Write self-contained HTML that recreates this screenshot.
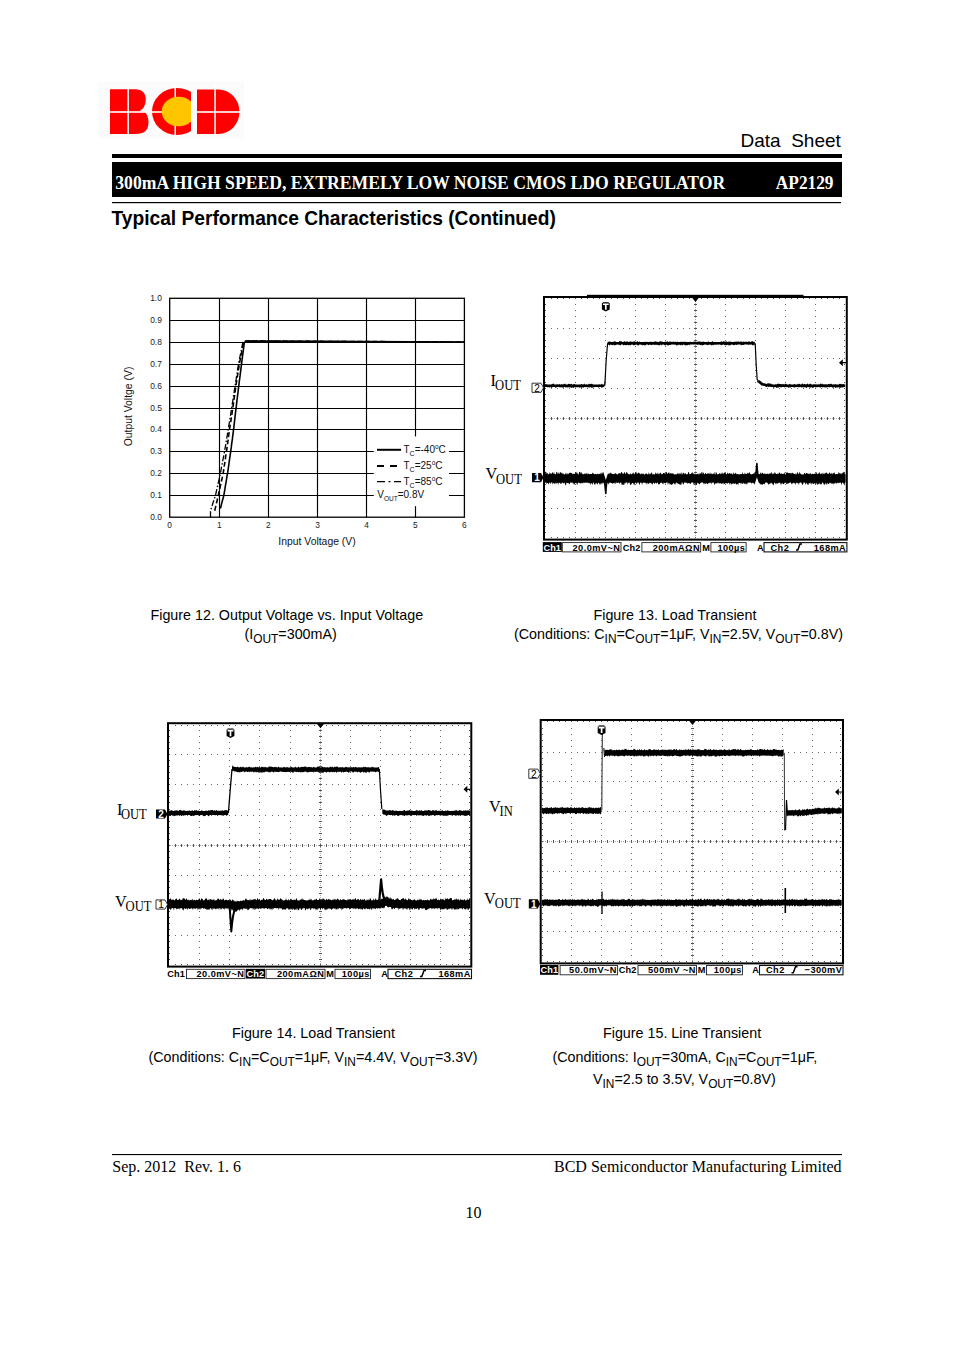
<!DOCTYPE html>
<html><head><meta charset="utf-8"><style>
html,body{margin:0;padding:0;background:#fff;width:954px;height:1350px;overflow:hidden}
svg{position:absolute;left:0;top:0}
</style></head><body>
<svg width="954" height="1350" viewBox="0 0 954 1350">
<text x="840.8" y="146.6" font-family='"Liberation Sans", sans-serif' font-size="19" font-weight="normal" text-anchor="end" fill="#000" >Data&#160;&#160;Sheet</text>
<rect x="112" y="154" width="730" height="4" fill="#000"/>
<rect x="112" y="162" width="730" height="35" fill="#000"/>
<text transform="translate(115.3,188.7) scale(1,1.1)" x="0" y="0" font-family='"Liberation Serif", serif' font-size="17.65" font-weight="bold" fill="#fff">300mA HIGH SPEED, EXTREMELY LOW NOISE CMOS LDO REGULATOR</text>
<text transform="translate(833.5,188.7) scale(1,1.1)" x="0" y="0" font-family='"Liberation Serif", serif' font-size="17.3" font-weight="bold" text-anchor="end" fill="#fff">AP2129</text>
<rect x="112" y="202" width="729" height="1.2" fill="#000"/>
<text transform="translate(111.5,225.3) scale(1,1.07)" x="0" y="0" font-family='"Liberation Sans", sans-serif' font-size="19.2" font-weight="bold" fill="#000">Typical Performance Characteristics (Continued)</text>
<rect x="98" y="81.5" width="146" height="57" fill="#fbfbfb"/>
<g fill="#ff0000">
<path d="M110,89.2 H135 Q145.8,89.2 145.8,99.8 Q145.8,107.5 139.3,111.5 H144.5 Q148.5,115.5 148.5,122.5 Q148.5,134 135.5,134 H110 Z"/>
<clipPath id="cclip"><rect x="140" y="80" width="51" height="60"/></clipPath>
<ellipse cx="177" cy="111.5" rx="25" ry="23.5" clip-path="url(#cclip)"/>
<path d="M197,89.5 H218.5 A21,22.25 0 0 1 218.5,134 H197 Z"/>
</g>
<g fill="#fff">
<rect x="127.4" y="85" width="1.5" height="52"/>
<rect x="174.5" y="85" width="1.5" height="52"/>
<rect x="214.3" y="85" width="1.5" height="52"/>
<rect x="105" y="111.2" width="140" height="1.6"/>
</g>
<ellipse cx="178.6" cy="111.5" rx="16.9" ry="14.75" fill="#ffc600" clip-path="url(#cclip)"/>
<line x1="219.5" y1="298.3" x2="219.5" y2="517.2" stroke="#000" stroke-width="1.15"/>
<line x1="268.5" y1="298.3" x2="268.5" y2="517.2" stroke="#000" stroke-width="1.15"/>
<line x1="317.5" y1="298.3" x2="317.5" y2="517.2" stroke="#000" stroke-width="1.15"/>
<line x1="366.5" y1="298.3" x2="366.5" y2="517.2" stroke="#000" stroke-width="1.15"/>
<line x1="415.5" y1="298.3" x2="415.5" y2="517.2" stroke="#000" stroke-width="1.15"/>
<line x1="169.7" y1="495.5" x2="464.4" y2="495.5" stroke="#000" stroke-width="1.15"/>
<line x1="169.7" y1="473.5" x2="464.4" y2="473.5" stroke="#000" stroke-width="1.15"/>
<line x1="169.7" y1="451.5" x2="464.4" y2="451.5" stroke="#000" stroke-width="1.15"/>
<line x1="169.7" y1="429.5" x2="464.4" y2="429.5" stroke="#000" stroke-width="1.15"/>
<line x1="169.7" y1="408.5" x2="464.4" y2="408.5" stroke="#000" stroke-width="1.15"/>
<line x1="169.7" y1="386.5" x2="464.4" y2="386.5" stroke="#000" stroke-width="1.15"/>
<line x1="169.7" y1="364.5" x2="464.4" y2="364.5" stroke="#000" stroke-width="1.15"/>
<line x1="169.7" y1="342.5" x2="464.4" y2="342.5" stroke="#000" stroke-width="1.15"/>
<line x1="169.7" y1="320.5" x2="464.4" y2="320.5" stroke="#000" stroke-width="1.15"/>
<rect x="169.7" y="298.3" width="294.7" height="218.9" fill="none" stroke="#000" stroke-width="1.3"/>
<text x="161.8" y="519.8" font-family='"Liberation Sans", sans-serif' font-size="8.4" font-weight="normal" text-anchor="end" fill="#222" >0.0</text>
<text x="161.8" y="498.1" font-family='"Liberation Sans", sans-serif' font-size="8.4" font-weight="normal" text-anchor="end" fill="#222" >0.1</text>
<text x="161.8" y="476" font-family='"Liberation Sans", sans-serif' font-size="8.4" font-weight="normal" text-anchor="end" fill="#222" >0.2</text>
<text x="161.8" y="453.9" font-family='"Liberation Sans", sans-serif' font-size="8.4" font-weight="normal" text-anchor="end" fill="#222" >0.3</text>
<text x="161.8" y="432" font-family='"Liberation Sans", sans-serif' font-size="8.4" font-weight="normal" text-anchor="end" fill="#222" >0.4</text>
<text x="161.8" y="410.9" font-family='"Liberation Sans", sans-serif' font-size="8.4" font-weight="normal" text-anchor="end" fill="#222" >0.5</text>
<text x="161.8" y="388.9" font-family='"Liberation Sans", sans-serif' font-size="8.4" font-weight="normal" text-anchor="end" fill="#222" >0.6</text>
<text x="161.8" y="366.8" font-family='"Liberation Sans", sans-serif' font-size="8.4" font-weight="normal" text-anchor="end" fill="#222" >0.7</text>
<text x="161.8" y="345" font-family='"Liberation Sans", sans-serif' font-size="8.4" font-weight="normal" text-anchor="end" fill="#222" >0.8</text>
<text x="161.8" y="323.2" font-family='"Liberation Sans", sans-serif' font-size="8.4" font-weight="normal" text-anchor="end" fill="#222" >0.9</text>
<text x="161.8" y="300.9" font-family='"Liberation Sans", sans-serif' font-size="8.4" font-weight="normal" text-anchor="end" fill="#222" >1.0</text>
<text x="169.7" y="527.9" font-family='"Liberation Sans", sans-serif' font-size="8.4" font-weight="normal" text-anchor="middle" fill="#222" >0</text>
<text x="219.4" y="527.9" font-family='"Liberation Sans", sans-serif' font-size="8.4" font-weight="normal" text-anchor="middle" fill="#222" >1</text>
<text x="268.3" y="527.9" font-family='"Liberation Sans", sans-serif' font-size="8.4" font-weight="normal" text-anchor="middle" fill="#222" >2</text>
<text x="317.7" y="527.9" font-family='"Liberation Sans", sans-serif' font-size="8.4" font-weight="normal" text-anchor="middle" fill="#222" >3</text>
<text x="366.5" y="527.9" font-family='"Liberation Sans", sans-serif' font-size="8.4" font-weight="normal" text-anchor="middle" fill="#222" >4</text>
<text x="415.3" y="527.9" font-family='"Liberation Sans", sans-serif' font-size="8.4" font-weight="normal" text-anchor="middle" fill="#222" >5</text>
<text x="464.4" y="527.9" font-family='"Liberation Sans", sans-serif' font-size="8.4" font-weight="normal" text-anchor="middle" fill="#222" >6</text>
<text x="317" y="545" font-family='"Liberation Sans", sans-serif' font-size="10.4" font-weight="normal" text-anchor="middle" fill="#111" >Input Voltage (V)</text>
<text transform="translate(132.2,406.5) rotate(-90)" x="0" y="0" font-family='"Liberation Sans", sans-serif' font-size="10.4" text-anchor="middle" fill="#111">Output Voltge (V)</text>
<polyline fill="none" stroke="#000" stroke-width="1.6" points="220.4,508.5 221.1,505.8 221.8,503 222.5,500.3 223.3,497.5 223.9,494.8 224.4,492 224.9,489.2 225.3,486.4 225.8,483.6 226.3,480.8 226.7,478 227.2,475.2 227.7,472.4 228.1,469.6 228.5,466.8 228.9,464 229.3,461.2 229.7,458.4 230.1,455.6 230.5,452.8 230.9,450 231.3,447.2 231.6,444.4 232,441.7 232.4,438.9 232.7,436.1 233.1,433.3 233.4,430.6 233.8,427.9 234.1,425.2 234.4,422.5 234.7,419.8 235,417.2 235.3,414.5 235.6,411.8 235.9,409.1 236.3,406.4 236.6,403.6 236.9,400.8 237.3,398 237.6,395.2 238,392.5 238.3,389.7 238.6,386.9 239,384.1 239.3,381.3 239.7,378.5 240.1,375.7 240.4,372.9 240.8,370.1 241.1,367.3 241.5,364.5 241.8,361.7 242.2,359 242.5,356.2 242.9,353.4 243.3,350.7 243.6,347.9 244,345.2 244.3,342.4 246.8,341.1 464.4,342"/>
<polyline fill="none" stroke="#000" stroke-width="1.6" stroke-dasharray="5,2.5" points="214.7,510.7 215.4,507.9 216,505.1 216.7,502.3 217.3,499.6 218,496.8 218.6,494 219.2,491.1 219.9,488.3 220.5,485.4 221.1,482.6 221.8,479.8 222.4,476.9 223,474.1 223.5,471.3 223.9,468.4 224.3,465.6 224.8,462.8 225.2,459.9 225.6,457.1 226,454.2 226.5,451.4 226.9,448.6 227.3,445.8 227.7,443 228.1,440.2 228.5,437.4 228.8,434.5 229.2,431.7 229.6,428.9 230,426.2 230.5,423.5 230.9,420.8 231.3,418.1 231.7,415.4 232.1,412.7 232.5,410 232.9,407.2 233.3,404.4 233.7,401.6 234.1,398.8 234.5,395.9 234.9,393.1 235.3,390.3 235.7,387.5 236.1,384.6 236.5,381.8 237,379 237.4,376.1 237.9,373.3 238.3,370.5 238.8,367.6 239.2,364.8 239.7,362 240.3,359.2 240.8,356.4 241.4,353.6 241.9,350.8 242.5,348 243.1,345.2 243.6,342.4 245.8,341.1 464.4,342"/>
<polyline fill="none" stroke="#000" stroke-width="1.3" stroke-dasharray="6,2,1.5,2" points="210.5,517.2 210.5,510.7 211.4,507.9 212.3,505.1 213.2,502.3 214.1,499.6 215,496.8 215.8,494 216.4,491.1 217,488.3 217.7,485.4 218.3,482.6 219,479.8 219.6,476.9 220.2,474.1 220.8,471.3 221.3,468.4 221.9,465.6 222.4,462.8 222.9,459.9 223.5,457.1 224,454.2 224.6,451.4 225,448.6 225.5,445.8 226,443 226.4,440.2 226.9,437.4 227.4,434.5 227.8,431.7 228.3,428.9 228.7,426.2 229.2,423.5 229.6,420.8 230,418.1 230.5,415.4 230.9,412.7 231.4,410 231.8,407.2 232.2,404.4 232.7,401.6 233.1,398.8 233.5,395.9 234,393.1 234.4,390.3 234.9,387.5 235.3,384.6 235.7,381.8 236.2,379 236.6,376.1 237.1,373.3 237.5,370.5 237.9,367.6 238.4,364.8 238.9,362 239.5,359.2 240,356.4 240.6,353.6 241.2,350.8 241.7,348 242.3,345.2 242.9,342.4 245.3,341.1 464.4,342"/>
<rect x="373.8" y="436.4" width="75.2" height="69.8" fill="#fff"/>
<line x1="377" y1="449.8" x2="401.1" y2="449.8" stroke="#000" stroke-width="2"/>
<line x1="377" y1="465.9" x2="398" y2="465.9" stroke="#000" stroke-width="2" stroke-dasharray="7,6"/>
<line x1="377" y1="481.6" x2="401.1" y2="481.6" stroke="#000" stroke-width="1.2" stroke-dasharray="8,3.5,2,3.5"/>
<text x="403.5" y="453.2" font-family='"Liberation Sans", sans-serif' font-size="10" fill="#111">T<tspan font-size="7" dy="2.6">C</tspan><tspan dy="-2.6">=-40</tspan><tspan font-size="6.5" dy="-4">o</tspan><tspan dy="4">C</tspan></text>
<text x="403.5" y="469.2" font-family='"Liberation Sans", sans-serif' font-size="10" fill="#111">T<tspan font-size="7" dy="2.6">C</tspan><tspan dy="-2.6">=25</tspan><tspan font-size="6.5" dy="-4">o</tspan><tspan dy="4">C</tspan></text>
<text x="403.5" y="485.2" font-family='"Liberation Sans", sans-serif' font-size="10" fill="#111">T<tspan font-size="7" dy="2.6">C</tspan><tspan dy="-2.6">=85</tspan><tspan font-size="6.5" dy="-4">o</tspan><tspan dy="4">C</tspan></text>
<text x="377.3" y="498" font-family='"Liberation Sans", sans-serif' font-size="10" fill="#111">V<tspan font-size="6.5" dy="2.6">OUT</tspan><tspan dy="-2.6">=0.8V</tspan></text>
<path fill="#666" d="M575,304h1v1h-1zM575,310h1v1h-1zM575,316h1v1h-1zM575,322h1v1h-1zM575,328h1v1h-1zM575,334h1v1h-1zM575,340h1v1h-1zM575,346h1v1h-1zM575,352h1v1h-1zM575,358h1v1h-1zM575,364h1v1h-1zM575,370h1v1h-1zM575,376h1v1h-1zM575,382h1v1h-1zM575,388h1v1h-1zM575,394h1v1h-1zM575,400h1v1h-1zM575,406h1v1h-1zM575,412h1v1h-1zM575,418h1v1h-1zM575,424h1v1h-1zM575,430h1v1h-1zM575,436h1v1h-1zM575,442h1v1h-1zM575,448h1v1h-1zM575,454h1v1h-1zM575,460h1v1h-1zM575,466h1v1h-1zM575,472h1v1h-1zM575,478h1v1h-1zM575,484h1v1h-1zM575,490h1v1h-1zM575,496h1v1h-1zM575,502h1v1h-1zM575,508h1v1h-1zM575,514h1v1h-1zM575,520h1v1h-1zM575,526h1v1h-1zM575,532h1v1h-1zM605,304h1v1h-1zM605,310h1v1h-1zM605,316h1v1h-1zM605,322h1v1h-1zM605,328h1v1h-1zM605,334h1v1h-1zM605,340h1v1h-1zM605,346h1v1h-1zM605,352h1v1h-1zM605,358h1v1h-1zM605,364h1v1h-1zM605,370h1v1h-1zM605,376h1v1h-1zM605,382h1v1h-1zM605,388h1v1h-1zM605,394h1v1h-1zM605,400h1v1h-1zM605,406h1v1h-1zM605,412h1v1h-1zM605,418h1v1h-1zM605,424h1v1h-1zM605,430h1v1h-1zM605,436h1v1h-1zM605,442h1v1h-1zM605,448h1v1h-1zM605,454h1v1h-1zM605,460h1v1h-1zM605,466h1v1h-1zM605,472h1v1h-1zM605,478h1v1h-1zM605,484h1v1h-1zM605,490h1v1h-1zM605,496h1v1h-1zM605,502h1v1h-1zM605,508h1v1h-1zM605,514h1v1h-1zM605,520h1v1h-1zM605,526h1v1h-1zM605,532h1v1h-1zM635,304h1v1h-1zM635,310h1v1h-1zM635,316h1v1h-1zM635,322h1v1h-1zM635,328h1v1h-1zM635,334h1v1h-1zM635,340h1v1h-1zM635,346h1v1h-1zM635,352h1v1h-1zM635,358h1v1h-1zM635,364h1v1h-1zM635,370h1v1h-1zM635,376h1v1h-1zM635,382h1v1h-1zM635,388h1v1h-1zM635,394h1v1h-1zM635,400h1v1h-1zM635,406h1v1h-1zM635,412h1v1h-1zM635,418h1v1h-1zM635,424h1v1h-1zM635,430h1v1h-1zM635,436h1v1h-1zM635,442h1v1h-1zM635,448h1v1h-1zM635,454h1v1h-1zM635,460h1v1h-1zM635,466h1v1h-1zM635,472h1v1h-1zM635,478h1v1h-1zM635,484h1v1h-1zM635,490h1v1h-1zM635,496h1v1h-1zM635,502h1v1h-1zM635,508h1v1h-1zM635,514h1v1h-1zM635,520h1v1h-1zM635,526h1v1h-1zM635,532h1v1h-1zM665,304h1v1h-1zM665,310h1v1h-1zM665,316h1v1h-1zM665,322h1v1h-1zM665,328h1v1h-1zM665,334h1v1h-1zM665,340h1v1h-1zM665,346h1v1h-1zM665,352h1v1h-1zM665,358h1v1h-1zM665,364h1v1h-1zM665,370h1v1h-1zM665,376h1v1h-1zM665,382h1v1h-1zM665,388h1v1h-1zM665,394h1v1h-1zM665,400h1v1h-1zM665,406h1v1h-1zM665,412h1v1h-1zM665,418h1v1h-1zM665,424h1v1h-1zM665,430h1v1h-1zM665,436h1v1h-1zM665,442h1v1h-1zM665,448h1v1h-1zM665,454h1v1h-1zM665,460h1v1h-1zM665,466h1v1h-1zM665,472h1v1h-1zM665,478h1v1h-1zM665,484h1v1h-1zM665,490h1v1h-1zM665,496h1v1h-1zM665,502h1v1h-1zM665,508h1v1h-1zM665,514h1v1h-1zM665,520h1v1h-1zM665,526h1v1h-1zM665,532h1v1h-1zM725,304h1v1h-1zM725,310h1v1h-1zM725,316h1v1h-1zM725,322h1v1h-1zM725,328h1v1h-1zM725,334h1v1h-1zM725,340h1v1h-1zM725,346h1v1h-1zM725,352h1v1h-1zM725,358h1v1h-1zM725,364h1v1h-1zM725,370h1v1h-1zM725,376h1v1h-1zM725,382h1v1h-1zM725,388h1v1h-1zM725,394h1v1h-1zM725,400h1v1h-1zM725,406h1v1h-1zM725,412h1v1h-1zM725,418h1v1h-1zM725,424h1v1h-1zM725,430h1v1h-1zM725,436h1v1h-1zM725,442h1v1h-1zM725,448h1v1h-1zM725,454h1v1h-1zM725,460h1v1h-1zM725,466h1v1h-1zM725,472h1v1h-1zM725,478h1v1h-1zM725,484h1v1h-1zM725,490h1v1h-1zM725,496h1v1h-1zM725,502h1v1h-1zM725,508h1v1h-1zM725,514h1v1h-1zM725,520h1v1h-1zM725,526h1v1h-1zM725,532h1v1h-1zM755,304h1v1h-1zM755,310h1v1h-1zM755,316h1v1h-1zM755,322h1v1h-1zM755,328h1v1h-1zM755,334h1v1h-1zM755,340h1v1h-1zM755,346h1v1h-1zM755,352h1v1h-1zM755,358h1v1h-1zM755,364h1v1h-1zM755,370h1v1h-1zM755,376h1v1h-1zM755,382h1v1h-1zM755,388h1v1h-1zM755,394h1v1h-1zM755,400h1v1h-1zM755,406h1v1h-1zM755,412h1v1h-1zM755,418h1v1h-1zM755,424h1v1h-1zM755,430h1v1h-1zM755,436h1v1h-1zM755,442h1v1h-1zM755,448h1v1h-1zM755,454h1v1h-1zM755,460h1v1h-1zM755,466h1v1h-1zM755,472h1v1h-1zM755,478h1v1h-1zM755,484h1v1h-1zM755,490h1v1h-1zM755,496h1v1h-1zM755,502h1v1h-1zM755,508h1v1h-1zM755,514h1v1h-1zM755,520h1v1h-1zM755,526h1v1h-1zM755,532h1v1h-1zM785,304h1v1h-1zM785,310h1v1h-1zM785,316h1v1h-1zM785,322h1v1h-1zM785,328h1v1h-1zM785,334h1v1h-1zM785,340h1v1h-1zM785,346h1v1h-1zM785,352h1v1h-1zM785,358h1v1h-1zM785,364h1v1h-1zM785,370h1v1h-1zM785,376h1v1h-1zM785,382h1v1h-1zM785,388h1v1h-1zM785,394h1v1h-1zM785,400h1v1h-1zM785,406h1v1h-1zM785,412h1v1h-1zM785,418h1v1h-1zM785,424h1v1h-1zM785,430h1v1h-1zM785,436h1v1h-1zM785,442h1v1h-1zM785,448h1v1h-1zM785,454h1v1h-1zM785,460h1v1h-1zM785,466h1v1h-1zM785,472h1v1h-1zM785,478h1v1h-1zM785,484h1v1h-1zM785,490h1v1h-1zM785,496h1v1h-1zM785,502h1v1h-1zM785,508h1v1h-1zM785,514h1v1h-1zM785,520h1v1h-1zM785,526h1v1h-1zM785,532h1v1h-1zM815,304h1v1h-1zM815,310h1v1h-1zM815,316h1v1h-1zM815,322h1v1h-1zM815,328h1v1h-1zM815,334h1v1h-1zM815,340h1v1h-1zM815,346h1v1h-1zM815,352h1v1h-1zM815,358h1v1h-1zM815,364h1v1h-1zM815,370h1v1h-1zM815,376h1v1h-1zM815,382h1v1h-1zM815,388h1v1h-1zM815,394h1v1h-1zM815,400h1v1h-1zM815,406h1v1h-1zM815,412h1v1h-1zM815,418h1v1h-1zM815,424h1v1h-1zM815,430h1v1h-1zM815,436h1v1h-1zM815,442h1v1h-1zM815,448h1v1h-1zM815,454h1v1h-1zM815,460h1v1h-1zM815,466h1v1h-1zM815,472h1v1h-1zM815,478h1v1h-1zM815,484h1v1h-1zM815,490h1v1h-1zM815,496h1v1h-1zM815,502h1v1h-1zM815,508h1v1h-1zM815,514h1v1h-1zM815,520h1v1h-1zM815,526h1v1h-1zM815,532h1v1h-1zM551,328h1v1h-1zM557,328h1v1h-1zM563,328h1v1h-1zM569,328h1v1h-1zM575,328h1v1h-1zM581,328h1v1h-1zM587,328h1v1h-1zM593,328h1v1h-1zM599,328h1v1h-1zM605,328h1v1h-1zM611,328h1v1h-1zM617,328h1v1h-1zM623,328h1v1h-1zM629,328h1v1h-1zM635,328h1v1h-1zM641,328h1v1h-1zM647,328h1v1h-1zM653,328h1v1h-1zM659,328h1v1h-1zM665,328h1v1h-1zM671,328h1v1h-1zM677,328h1v1h-1zM683,328h1v1h-1zM689,328h1v1h-1zM695,328h1v1h-1zM701,328h1v1h-1zM707,328h1v1h-1zM713,328h1v1h-1zM719,328h1v1h-1zM725,328h1v1h-1zM731,328h1v1h-1zM737,328h1v1h-1zM743,328h1v1h-1zM749,328h1v1h-1zM755,328h1v1h-1zM761,328h1v1h-1zM767,328h1v1h-1zM773,328h1v1h-1zM779,328h1v1h-1zM785,328h1v1h-1zM791,328h1v1h-1zM797,328h1v1h-1zM803,328h1v1h-1zM809,328h1v1h-1zM815,328h1v1h-1zM821,328h1v1h-1zM827,328h1v1h-1zM833,328h1v1h-1zM839,328h1v1h-1zM551,358h1v1h-1zM557,358h1v1h-1zM563,358h1v1h-1zM569,358h1v1h-1zM575,358h1v1h-1zM581,358h1v1h-1zM587,358h1v1h-1zM593,358h1v1h-1zM599,358h1v1h-1zM605,358h1v1h-1zM611,358h1v1h-1zM617,358h1v1h-1zM623,358h1v1h-1zM629,358h1v1h-1zM635,358h1v1h-1zM641,358h1v1h-1zM647,358h1v1h-1zM653,358h1v1h-1zM659,358h1v1h-1zM665,358h1v1h-1zM671,358h1v1h-1zM677,358h1v1h-1zM683,358h1v1h-1zM689,358h1v1h-1zM695,358h1v1h-1zM701,358h1v1h-1zM707,358h1v1h-1zM713,358h1v1h-1zM719,358h1v1h-1zM725,358h1v1h-1zM731,358h1v1h-1zM737,358h1v1h-1zM743,358h1v1h-1zM749,358h1v1h-1zM755,358h1v1h-1zM761,358h1v1h-1zM767,358h1v1h-1zM773,358h1v1h-1zM779,358h1v1h-1zM785,358h1v1h-1zM791,358h1v1h-1zM797,358h1v1h-1zM803,358h1v1h-1zM809,358h1v1h-1zM815,358h1v1h-1zM821,358h1v1h-1zM827,358h1v1h-1zM833,358h1v1h-1zM839,358h1v1h-1zM551,388h1v1h-1zM557,388h1v1h-1zM563,388h1v1h-1zM569,388h1v1h-1zM575,388h1v1h-1zM581,388h1v1h-1zM587,388h1v1h-1zM593,388h1v1h-1zM599,388h1v1h-1zM605,388h1v1h-1zM611,388h1v1h-1zM617,388h1v1h-1zM623,388h1v1h-1zM629,388h1v1h-1zM635,388h1v1h-1zM641,388h1v1h-1zM647,388h1v1h-1zM653,388h1v1h-1zM659,388h1v1h-1zM665,388h1v1h-1zM671,388h1v1h-1zM677,388h1v1h-1zM683,388h1v1h-1zM689,388h1v1h-1zM695,388h1v1h-1zM701,388h1v1h-1zM707,388h1v1h-1zM713,388h1v1h-1zM719,388h1v1h-1zM725,388h1v1h-1zM731,388h1v1h-1zM737,388h1v1h-1zM743,388h1v1h-1zM749,388h1v1h-1zM755,388h1v1h-1zM761,388h1v1h-1zM767,388h1v1h-1zM773,388h1v1h-1zM779,388h1v1h-1zM785,388h1v1h-1zM791,388h1v1h-1zM797,388h1v1h-1zM803,388h1v1h-1zM809,388h1v1h-1zM815,388h1v1h-1zM821,388h1v1h-1zM827,388h1v1h-1zM833,388h1v1h-1zM839,388h1v1h-1zM551,448h1v1h-1zM557,448h1v1h-1zM563,448h1v1h-1zM569,448h1v1h-1zM575,448h1v1h-1zM581,448h1v1h-1zM587,448h1v1h-1zM593,448h1v1h-1zM599,448h1v1h-1zM605,448h1v1h-1zM611,448h1v1h-1zM617,448h1v1h-1zM623,448h1v1h-1zM629,448h1v1h-1zM635,448h1v1h-1zM641,448h1v1h-1zM647,448h1v1h-1zM653,448h1v1h-1zM659,448h1v1h-1zM665,448h1v1h-1zM671,448h1v1h-1zM677,448h1v1h-1zM683,448h1v1h-1zM689,448h1v1h-1zM695,448h1v1h-1zM701,448h1v1h-1zM707,448h1v1h-1zM713,448h1v1h-1zM719,448h1v1h-1zM725,448h1v1h-1zM731,448h1v1h-1zM737,448h1v1h-1zM743,448h1v1h-1zM749,448h1v1h-1zM755,448h1v1h-1zM761,448h1v1h-1zM767,448h1v1h-1zM773,448h1v1h-1zM779,448h1v1h-1zM785,448h1v1h-1zM791,448h1v1h-1zM797,448h1v1h-1zM803,448h1v1h-1zM809,448h1v1h-1zM815,448h1v1h-1zM821,448h1v1h-1zM827,448h1v1h-1zM833,448h1v1h-1zM839,448h1v1h-1zM551,478h1v1h-1zM557,478h1v1h-1zM563,478h1v1h-1zM569,478h1v1h-1zM575,478h1v1h-1zM581,478h1v1h-1zM587,478h1v1h-1zM593,478h1v1h-1zM599,478h1v1h-1zM605,478h1v1h-1zM611,478h1v1h-1zM617,478h1v1h-1zM623,478h1v1h-1zM629,478h1v1h-1zM635,478h1v1h-1zM641,478h1v1h-1zM647,478h1v1h-1zM653,478h1v1h-1zM659,478h1v1h-1zM665,478h1v1h-1zM671,478h1v1h-1zM677,478h1v1h-1zM683,478h1v1h-1zM689,478h1v1h-1zM695,478h1v1h-1zM701,478h1v1h-1zM707,478h1v1h-1zM713,478h1v1h-1zM719,478h1v1h-1zM725,478h1v1h-1zM731,478h1v1h-1zM737,478h1v1h-1zM743,478h1v1h-1zM749,478h1v1h-1zM755,478h1v1h-1zM761,478h1v1h-1zM767,478h1v1h-1zM773,478h1v1h-1zM779,478h1v1h-1zM785,478h1v1h-1zM791,478h1v1h-1zM797,478h1v1h-1zM803,478h1v1h-1zM809,478h1v1h-1zM815,478h1v1h-1zM821,478h1v1h-1zM827,478h1v1h-1zM833,478h1v1h-1zM839,478h1v1h-1zM551,508h1v1h-1zM557,508h1v1h-1zM563,508h1v1h-1zM569,508h1v1h-1zM575,508h1v1h-1zM581,508h1v1h-1zM587,508h1v1h-1zM593,508h1v1h-1zM599,508h1v1h-1zM605,508h1v1h-1zM611,508h1v1h-1zM617,508h1v1h-1zM623,508h1v1h-1zM629,508h1v1h-1zM635,508h1v1h-1zM641,508h1v1h-1zM647,508h1v1h-1zM653,508h1v1h-1zM659,508h1v1h-1zM665,508h1v1h-1zM671,508h1v1h-1zM677,508h1v1h-1zM683,508h1v1h-1zM689,508h1v1h-1zM695,508h1v1h-1zM701,508h1v1h-1zM707,508h1v1h-1zM713,508h1v1h-1zM719,508h1v1h-1zM725,508h1v1h-1zM731,508h1v1h-1zM737,508h1v1h-1zM743,508h1v1h-1zM749,508h1v1h-1zM755,508h1v1h-1zM761,508h1v1h-1zM767,508h1v1h-1zM773,508h1v1h-1zM779,508h1v1h-1zM785,508h1v1h-1zM791,508h1v1h-1zM797,508h1v1h-1zM803,508h1v1h-1zM809,508h1v1h-1zM815,508h1v1h-1zM821,508h1v1h-1zM827,508h1v1h-1zM833,508h1v1h-1zM839,508h1v1h-1z"/>
<path fill="#aaa" d="M546,418h1v1h-1zM548,418h1v1h-1zM550,418h1v1h-1zM552,418h1v1h-1zM554,418h1v1h-1zM556,418h1v1h-1zM558,418h1v1h-1zM560,418h1v1h-1zM562,418h1v1h-1zM564,418h1v1h-1zM566,418h1v1h-1zM568,418h1v1h-1zM570,418h1v1h-1zM572,418h1v1h-1zM574,418h1v1h-1zM576,418h1v1h-1zM578,418h1v1h-1zM580,418h1v1h-1zM582,418h1v1h-1zM584,418h1v1h-1zM586,418h1v1h-1zM588,418h1v1h-1zM590,418h1v1h-1zM592,418h1v1h-1zM594,418h1v1h-1zM596,418h1v1h-1zM598,418h1v1h-1zM600,418h1v1h-1zM602,418h1v1h-1zM604,418h1v1h-1zM606,418h1v1h-1zM608,418h1v1h-1zM610,418h1v1h-1zM612,418h1v1h-1zM614,418h1v1h-1zM616,418h1v1h-1zM618,418h1v1h-1zM620,418h1v1h-1zM622,418h1v1h-1zM624,418h1v1h-1zM626,418h1v1h-1zM628,418h1v1h-1zM630,418h1v1h-1zM632,418h1v1h-1zM634,418h1v1h-1zM636,418h1v1h-1zM638,418h1v1h-1zM640,418h1v1h-1zM642,418h1v1h-1zM644,418h1v1h-1zM646,418h1v1h-1zM648,418h1v1h-1zM650,418h1v1h-1zM652,418h1v1h-1zM654,418h1v1h-1zM656,418h1v1h-1zM658,418h1v1h-1zM660,418h1v1h-1zM662,418h1v1h-1zM664,418h1v1h-1zM666,418h1v1h-1zM668,418h1v1h-1zM670,418h1v1h-1zM672,418h1v1h-1zM674,418h1v1h-1zM676,418h1v1h-1zM678,418h1v1h-1zM680,418h1v1h-1zM682,418h1v1h-1zM684,418h1v1h-1zM686,418h1v1h-1zM688,418h1v1h-1zM690,418h1v1h-1zM692,418h1v1h-1zM694,418h1v1h-1zM696,418h1v1h-1zM698,418h1v1h-1zM700,418h1v1h-1zM702,418h1v1h-1zM704,418h1v1h-1zM706,418h1v1h-1zM708,418h1v1h-1zM710,418h1v1h-1zM712,418h1v1h-1zM714,418h1v1h-1zM716,418h1v1h-1zM718,418h1v1h-1zM720,418h1v1h-1zM722,418h1v1h-1zM724,418h1v1h-1zM726,418h1v1h-1zM728,418h1v1h-1zM730,418h1v1h-1zM732,418h1v1h-1zM734,418h1v1h-1zM736,418h1v1h-1zM738,418h1v1h-1zM740,418h1v1h-1zM742,418h1v1h-1zM744,418h1v1h-1zM746,418h1v1h-1zM748,418h1v1h-1zM750,418h1v1h-1zM752,418h1v1h-1zM754,418h1v1h-1zM756,418h1v1h-1zM758,418h1v1h-1zM760,418h1v1h-1zM762,418h1v1h-1zM764,418h1v1h-1zM766,418h1v1h-1zM768,418h1v1h-1zM770,418h1v1h-1zM772,418h1v1h-1zM774,418h1v1h-1zM776,418h1v1h-1zM778,418h1v1h-1zM780,418h1v1h-1zM782,418h1v1h-1zM784,418h1v1h-1zM786,418h1v1h-1zM788,418h1v1h-1zM790,418h1v1h-1zM792,418h1v1h-1zM794,418h1v1h-1zM796,418h1v1h-1zM798,418h1v1h-1zM800,418h1v1h-1zM802,418h1v1h-1zM804,418h1v1h-1zM806,418h1v1h-1zM808,418h1v1h-1zM810,418h1v1h-1zM812,418h1v1h-1zM814,418h1v1h-1zM816,418h1v1h-1zM818,418h1v1h-1zM820,418h1v1h-1zM822,418h1v1h-1zM824,418h1v1h-1zM826,418h1v1h-1zM828,418h1v1h-1zM830,418h1v1h-1zM832,418h1v1h-1zM834,418h1v1h-1zM836,418h1v1h-1zM838,418h1v1h-1zM840,418h1v1h-1zM842,418h1v1h-1zM844,418h1v1h-1zM695,299h1v1h-1zM695,301h1v1h-1zM695,303h1v1h-1zM695,305h1v1h-1zM695,307h1v1h-1zM695,309h1v1h-1zM695,311h1v1h-1zM695,313h1v1h-1zM695,315h1v1h-1zM695,317h1v1h-1zM695,319h1v1h-1zM695,321h1v1h-1zM695,323h1v1h-1zM695,325h1v1h-1zM695,327h1v1h-1zM695,329h1v1h-1zM695,331h1v1h-1zM695,333h1v1h-1zM695,335h1v1h-1zM695,337h1v1h-1zM695,339h1v1h-1zM695,341h1v1h-1zM695,343h1v1h-1zM695,345h1v1h-1zM695,347h1v1h-1zM695,349h1v1h-1zM695,351h1v1h-1zM695,353h1v1h-1zM695,355h1v1h-1zM695,357h1v1h-1zM695,359h1v1h-1zM695,361h1v1h-1zM695,363h1v1h-1zM695,365h1v1h-1zM695,367h1v1h-1zM695,369h1v1h-1zM695,371h1v1h-1zM695,373h1v1h-1zM695,375h1v1h-1zM695,377h1v1h-1zM695,379h1v1h-1zM695,381h1v1h-1zM695,383h1v1h-1zM695,385h1v1h-1zM695,387h1v1h-1zM695,389h1v1h-1zM695,391h1v1h-1zM695,393h1v1h-1zM695,395h1v1h-1zM695,397h1v1h-1zM695,399h1v1h-1zM695,401h1v1h-1zM695,403h1v1h-1zM695,405h1v1h-1zM695,407h1v1h-1zM695,409h1v1h-1zM695,411h1v1h-1zM695,413h1v1h-1zM695,415h1v1h-1zM695,417h1v1h-1zM695,419h1v1h-1zM695,421h1v1h-1zM695,423h1v1h-1zM695,425h1v1h-1zM695,427h1v1h-1zM695,429h1v1h-1zM695,431h1v1h-1zM695,433h1v1h-1zM695,435h1v1h-1zM695,437h1v1h-1zM695,439h1v1h-1zM695,441h1v1h-1zM695,443h1v1h-1zM695,445h1v1h-1zM695,447h1v1h-1zM695,449h1v1h-1zM695,451h1v1h-1zM695,453h1v1h-1zM695,455h1v1h-1zM695,457h1v1h-1zM695,459h1v1h-1zM695,461h1v1h-1zM695,463h1v1h-1zM695,465h1v1h-1zM695,467h1v1h-1zM695,469h1v1h-1zM695,471h1v1h-1zM695,473h1v1h-1zM695,475h1v1h-1zM695,477h1v1h-1zM695,479h1v1h-1zM695,481h1v1h-1zM695,483h1v1h-1zM695,485h1v1h-1zM695,487h1v1h-1zM695,489h1v1h-1zM695,491h1v1h-1zM695,493h1v1h-1zM695,495h1v1h-1zM695,497h1v1h-1zM695,499h1v1h-1zM695,501h1v1h-1zM695,503h1v1h-1zM695,505h1v1h-1zM695,507h1v1h-1zM695,509h1v1h-1zM695,511h1v1h-1zM695,513h1v1h-1zM695,515h1v1h-1zM695,517h1v1h-1zM695,519h1v1h-1zM695,521h1v1h-1zM695,523h1v1h-1zM695,525h1v1h-1zM695,527h1v1h-1zM695,529h1v1h-1zM695,531h1v1h-1zM695,533h1v1h-1zM695,535h1v1h-1zM695,537h1v1h-1z"/>
<path fill="#555" d="M551,417h1v3h-1zM551,537h1v1h-1zM551,298h1v1h-1zM557,417h1v3h-1zM557,537h1v1h-1zM557,298h1v1h-1zM563,417h1v3h-1zM563,537h1v1h-1zM563,298h1v1h-1zM569,417h1v3h-1zM569,537h1v1h-1zM569,298h1v1h-1zM575,417h1v3h-1zM575,537h1v1h-1zM575,298h1v1h-1zM581,417h1v3h-1zM581,537h1v1h-1zM581,298h1v1h-1zM587,417h1v3h-1zM587,537h1v1h-1zM587,298h1v1h-1zM593,417h1v3h-1zM593,537h1v1h-1zM593,298h1v1h-1zM599,417h1v3h-1zM599,537h1v1h-1zM599,298h1v1h-1zM605,417h1v3h-1zM605,537h1v1h-1zM605,298h1v1h-1zM611,417h1v3h-1zM611,537h1v1h-1zM611,298h1v1h-1zM617,417h1v3h-1zM617,537h1v1h-1zM617,298h1v1h-1zM623,417h1v3h-1zM623,537h1v1h-1zM623,298h1v1h-1zM629,417h1v3h-1zM629,537h1v1h-1zM629,298h1v1h-1zM635,417h1v3h-1zM635,537h1v1h-1zM635,298h1v1h-1zM641,417h1v3h-1zM641,537h1v1h-1zM641,298h1v1h-1zM647,417h1v3h-1zM647,537h1v1h-1zM647,298h1v1h-1zM653,417h1v3h-1zM653,537h1v1h-1zM653,298h1v1h-1zM659,417h1v3h-1zM659,537h1v1h-1zM659,298h1v1h-1zM665,417h1v3h-1zM665,537h1v1h-1zM665,298h1v1h-1zM671,417h1v3h-1zM671,537h1v1h-1zM671,298h1v1h-1zM677,417h1v3h-1zM677,537h1v1h-1zM677,298h1v1h-1zM683,417h1v3h-1zM683,537h1v1h-1zM683,298h1v1h-1zM689,417h1v3h-1zM689,537h1v1h-1zM689,298h1v1h-1zM695,417h1v3h-1zM695,537h1v1h-1zM695,298h1v1h-1zM701,417h1v3h-1zM701,537h1v1h-1zM701,298h1v1h-1zM707,417h1v3h-1zM707,537h1v1h-1zM707,298h1v1h-1zM713,417h1v3h-1zM713,537h1v1h-1zM713,298h1v1h-1zM719,417h1v3h-1zM719,537h1v1h-1zM719,298h1v1h-1zM725,417h1v3h-1zM725,537h1v1h-1zM725,298h1v1h-1zM731,417h1v3h-1zM731,537h1v1h-1zM731,298h1v1h-1zM737,417h1v3h-1zM737,537h1v1h-1zM737,298h1v1h-1zM743,417h1v3h-1zM743,537h1v1h-1zM743,298h1v1h-1zM749,417h1v3h-1zM749,537h1v1h-1zM749,298h1v1h-1zM755,417h1v3h-1zM755,537h1v1h-1zM755,298h1v1h-1zM761,417h1v3h-1zM761,537h1v1h-1zM761,298h1v1h-1zM767,417h1v3h-1zM767,537h1v1h-1zM767,298h1v1h-1zM773,417h1v3h-1zM773,537h1v1h-1zM773,298h1v1h-1zM779,417h1v3h-1zM779,537h1v1h-1zM779,298h1v1h-1zM785,417h1v3h-1zM785,537h1v1h-1zM785,298h1v1h-1zM791,417h1v3h-1zM791,537h1v1h-1zM791,298h1v1h-1zM797,417h1v3h-1zM797,537h1v1h-1zM797,298h1v1h-1zM803,417h1v3h-1zM803,537h1v1h-1zM803,298h1v1h-1zM809,417h1v3h-1zM809,537h1v1h-1zM809,298h1v1h-1zM815,417h1v3h-1zM815,537h1v1h-1zM815,298h1v1h-1zM821,417h1v3h-1zM821,537h1v1h-1zM821,298h1v1h-1zM827,417h1v3h-1zM827,537h1v1h-1zM827,298h1v1h-1zM833,417h1v3h-1zM833,537h1v1h-1zM833,298h1v1h-1zM839,417h1v3h-1zM839,537h1v1h-1zM839,298h1v1h-1zM694,304h3v1h-3zM545,304h1v1h-1zM844,304h1v1h-1zM694,310h3v1h-3zM545,310h1v1h-1zM844,310h1v1h-1zM694,316h3v1h-3zM545,316h1v1h-1zM844,316h1v1h-1zM694,322h3v1h-3zM545,322h1v1h-1zM844,322h1v1h-1zM694,328h3v1h-3zM545,328h1v1h-1zM844,328h1v1h-1zM694,334h3v1h-3zM545,334h1v1h-1zM844,334h1v1h-1zM694,340h3v1h-3zM545,340h1v1h-1zM844,340h1v1h-1zM694,346h3v1h-3zM545,346h1v1h-1zM844,346h1v1h-1zM694,352h3v1h-3zM545,352h1v1h-1zM844,352h1v1h-1zM694,358h3v1h-3zM545,358h1v1h-1zM844,358h1v1h-1zM694,364h3v1h-3zM545,364h1v1h-1zM844,364h1v1h-1zM694,370h3v1h-3zM545,370h1v1h-1zM844,370h1v1h-1zM694,376h3v1h-3zM545,376h1v1h-1zM844,376h1v1h-1zM694,382h3v1h-3zM545,382h1v1h-1zM844,382h1v1h-1zM694,388h3v1h-3zM545,388h1v1h-1zM844,388h1v1h-1zM694,394h3v1h-3zM545,394h1v1h-1zM844,394h1v1h-1zM694,400h3v1h-3zM545,400h1v1h-1zM844,400h1v1h-1zM694,406h3v1h-3zM545,406h1v1h-1zM844,406h1v1h-1zM694,412h3v1h-3zM545,412h1v1h-1zM844,412h1v1h-1zM694,418h3v1h-3zM545,418h1v1h-1zM844,418h1v1h-1zM694,424h3v1h-3zM545,424h1v1h-1zM844,424h1v1h-1zM694,430h3v1h-3zM545,430h1v1h-1zM844,430h1v1h-1zM694,436h3v1h-3zM545,436h1v1h-1zM844,436h1v1h-1zM694,442h3v1h-3zM545,442h1v1h-1zM844,442h1v1h-1zM694,448h3v1h-3zM545,448h1v1h-1zM844,448h1v1h-1zM694,454h3v1h-3zM545,454h1v1h-1zM844,454h1v1h-1zM694,460h3v1h-3zM545,460h1v1h-1zM844,460h1v1h-1zM694,466h3v1h-3zM545,466h1v1h-1zM844,466h1v1h-1zM694,472h3v1h-3zM545,472h1v1h-1zM844,472h1v1h-1zM694,478h3v1h-3zM545,478h1v1h-1zM844,478h1v1h-1zM694,484h3v1h-3zM545,484h1v1h-1zM844,484h1v1h-1zM694,490h3v1h-3zM545,490h1v1h-1zM844,490h1v1h-1zM694,496h3v1h-3zM545,496h1v1h-1zM844,496h1v1h-1zM694,502h3v1h-3zM545,502h1v1h-1zM844,502h1v1h-1zM694,508h3v1h-3zM545,508h1v1h-1zM844,508h1v1h-1zM694,514h3v1h-3zM545,514h1v1h-1zM844,514h1v1h-1zM694,520h3v1h-3zM545,520h1v1h-1zM844,520h1v1h-1zM694,526h3v1h-3zM545,526h1v1h-1zM844,526h1v1h-1zM694,532h3v1h-3zM545,532h1v1h-1zM844,532h1v1h-1z"/>
<rect x="544" y="297" width="302.8" height="242.6" fill="none" stroke="#000" stroke-width="2"/>
<path d="M691.5,297 L699.5,297 L695.5,302 Z" fill="#000"/>
<rect x="587" y="294.8" width="216.5" height="2.6" fill="#000"/>
<polygon fill="#000" points="545,384.5 545.8,384.1 546.6,384.3 547.4,384.6 548.2,384.6 549,384.6 549.8,384.4 550.6,384.6 551.4,384.2 552.2,384.2 553,383.6 553.8,383.8 554.6,384.6 555.4,384.5 556.2,384.6 557,384.2 557.8,384.3 558.6,384.6 559.4,384.1 560.2,384.5 561,384.4 561.8,383.9 562.6,384.5 563.4,384.3 564.2,384 565,383.6 565.8,384.4 566.6,384.6 567.4,384.6 568.2,384 569,383.8 569.8,384.1 570.6,384.2 571.4,383.8 572.2,384.4 573,384.6 573.8,384.1 574.6,383.9 575.4,384.4 576.2,384.6 577,384.6 577.8,384.6 578.6,384.6 579.4,384.4 580.2,384.6 581,384.3 581.8,383.9 582.6,384.5 583.4,384.5 584.2,383.6 585,384.6 585.8,384.5 586.6,384.2 587.4,384.6 588.2,384.5 589,383.6 589.8,384.3 590.6,384.1 591.4,383.7 592.2,383.8 593,384.4 593.8,384.6 594.6,384.6 595.4,384.6 596.2,384.5 597,384.6 597.8,384.6 598.6,384.6 599.4,384.2 600.2,384.5 601,384.5 601.8,383.8 602.6,384.4 603.4,384.6 604.2,384.5 605,380.8 605.8,369.4 605.8,372.8 605,384 604.2,387.1 603.4,387 602.6,387.3 601.8,388.1 601,387 600.2,387.1 599.4,387 598.6,387.8 597.8,387.1 597,387 596.2,387 595.4,387 594.6,387 593.8,387.4 593,387.2 592.2,387.7 591.4,387.7 590.6,387 589.8,387.4 589,387.5 588.2,387.3 587.4,387.2 586.6,387.1 585.8,387.3 585,387.1 584.2,387 583.4,387.8 582.6,387.2 581.8,387.8 581,387.8 580.2,387.2 579.4,387.8 578.6,387.1 577.8,387.6 577,387 576.2,387.2 575.4,387.5 574.6,387.1 573.8,388.1 573,387.5 572.2,387.5 571.4,388 570.6,387.2 569.8,387.4 569,387.1 568.2,387.4 567.4,387.5 566.6,387.3 565.8,387.6 565,387 564.2,387.1 563.4,387.8 562.6,387.4 561.8,387.5 561,387.1 560.2,387.4 559.4,387.2 558.6,387 557.8,387 557,387.1 556.2,387.4 555.4,387.7 554.6,387 553.8,387.1 553,387 552.2,387.2 551.4,388 550.6,387.1 549.8,387.7 549,387 548.2,387.2 547.4,387.3 546.6,387.1 545.8,387 545,387"/>
<polyline fill="none" stroke="#000" stroke-width="1.2"  points="604.8,385.8 606.2,360 607.6,343.3"/>
<polygon fill="#000" points="607.6,341.8 608.4,341.8 609.2,341.8 610,341.3 610.8,342 611.6,342.1 612.4,341.8 613.2,342 614,341.4 614.8,341.3 615.6,341.4 616.4,342 617.2,342 618,342.1 618.8,342 619.6,341.1 620.4,341.2 621.2,341.1 622,342 622.8,342.1 623.6,341.7 624.4,341.3 625.2,341.6 626,342.1 626.8,341.2 627.6,341.5 628.4,342.1 629.2,342 630,341.1 630.8,341.9 631.6,341.5 632.4,342.1 633.2,341.2 634,342.1 634.8,341.1 635.6,342 636.4,342.1 637.2,341.1 638,341.8 638.8,341.9 639.6,341.4 640.4,342 641.2,342 642,342 642.8,342.1 643.6,342 644.4,341.7 645.2,341.9 646,341.8 646.8,341.8 647.6,341.9 648.4,342.1 649.2,342.1 650,341.5 650.8,342 651.6,341.8 652.4,342.1 653.2,342 654,341.5 654.8,341.8 655.6,341.2 656.4,341.7 657.2,341.8 658,341.9 658.8,341.9 659.6,341.6 660.4,341.1 661.2,341.8 662,341.3 662.8,342.1 663.6,342.1 664.4,342.1 665.2,341.4 666,342.1 666.8,341.6 667.6,341.3 668.4,342 669.2,341.9 670,341 670.8,342.1 671.6,341.8 672.4,342.1 673.2,341.5 674,341.8 674.8,342.1 675.6,341.7 676.4,342.1 677.2,341.4 678,342.1 678.8,342.1 679.6,342 680.4,341.9 681.2,341.4 682,342.1 682.8,341.7 683.6,342.1 684.4,341.6 685.2,342.1 686,341.7 686.8,342.1 687.6,342.1 688.4,341.9 689.2,341.8 690,342 690.8,341.8 691.6,342.1 692.4,342.1 693.2,342 694,341.5 694.8,341.8 695.6,342 696.4,342 697.2,341.5 698,342.1 698.8,341.2 699.6,341.4 700.4,341.8 701.2,341.9 702,341.6 702.8,342 703.6,341.6 704.4,341.9 705.2,342.1 706,342.1 706.8,342 707.6,342.1 708.4,341.3 709.2,342 710,342 710.8,342.1 711.6,342 712.4,341.1 713.2,342 714,342 714.8,342.1 715.6,341.9 716.4,342.1 717.2,342.1 718,342.1 718.8,342.1 719.6,342 720.4,341.7 721.2,341.5 722,341.5 722.8,341.9 723.6,341.1 724.4,341.5 725.2,342.1 726,341.2 726.8,341.5 727.6,342.1 728.4,341.8 729.2,341.4 730,341.7 730.8,341.6 731.6,342 732.4,342.1 733.2,342.1 734,341.8 734.8,341.7 735.6,341.8 736.4,341.4 737.2,341.8 738,341.6 738.8,341.5 739.6,342.1 740.4,341.5 741.2,341.5 742,341.8 742.8,341.9 743.6,341.5 744.4,341.7 745.2,342.1 746,341.5 746.8,341.8 747.6,342.1 748.4,341.6 749.2,341.6 750,341.8 750.8,341.9 751.6,341.2 752.4,341.1 753.2,342.1 754,341.4 754.8,341.9 754.8,344.6 754,345.5 753.2,344.7 752.4,345.4 751.6,344.5 750.8,344.5 750,344.7 749.2,344.6 748.4,345 747.6,344.6 746.8,344.5 746,344.6 745.2,344.6 744.4,344.5 743.6,344.9 742.8,345 742,344.7 741.2,345.5 740.4,344.5 739.6,344.6 738.8,344.6 738,344.5 737.2,344.8 736.4,345.1 735.6,344.5 734.8,345 734,344.9 733.2,345.3 732.4,344.6 731.6,344.5 730.8,345 730,345.4 729.2,345.2 728.4,345.3 727.6,344.8 726.8,345.2 726,344.9 725.2,345.3 724.4,344.9 723.6,344.5 722.8,344.6 722,345.3 721.2,345 720.4,344.8 719.6,344.6 718.8,344.5 718,344.7 717.2,344.6 716.4,344.8 715.6,344.8 714.8,344.7 714,344.6 713.2,345.5 712.4,344.8 711.6,345.5 710.8,344.7 710,344.7 709.2,344.6 708.4,345 707.6,345.3 706.8,344.5 706,345.1 705.2,344.5 704.4,344.6 703.6,344.9 702.8,345.2 702,345.5 701.2,344.8 700.4,345.3 699.6,344.7 698.8,344.5 698,344.7 697.2,344.8 696.4,344.5 695.6,344.5 694.8,344.5 694,344.6 693.2,344.6 692.4,344.5 691.6,344.5 690.8,344.6 690,344.5 689.2,345.4 688.4,344.6 687.6,345.3 686.8,345.3 686,345.2 685.2,345.5 684.4,344.7 683.6,344.5 682.8,345 682,345.4 681.2,344.6 680.4,345.4 679.6,344.5 678.8,345.2 678,344.6 677.2,345.5 676.4,345.5 675.6,344.8 674.8,344.6 674,344.7 673.2,344.5 672.4,344.6 671.6,344.6 670.8,344.7 670,345.2 669.2,344.8 668.4,345.5 667.6,345.5 666.8,344.5 666,345.1 665.2,345.4 664.4,345 663.6,344.6 662.8,344.7 662,344.5 661.2,345.5 660.4,344.6 659.6,345.3 658.8,345.5 658,344.8 657.2,345 656.4,344.8 655.6,344.7 654.8,345.1 654,344.8 653.2,344.6 652.4,344.8 651.6,345.2 650.8,344.8 650,344.8 649.2,344.7 648.4,345.2 647.6,344.5 646.8,344.5 646,344.8 645.2,345.4 644.4,345.4 643.6,344.7 642.8,345.4 642,344.7 641.2,344.9 640.4,344.6 639.6,344.5 638.8,345.3 638,345.4 637.2,345 636.4,344.5 635.6,344.8 634.8,345 634,345.2 633.2,345.2 632.4,344.5 631.6,344.5 630.8,345.5 630,344.7 629.2,345.2 628.4,345.2 627.6,344.7 626.8,345.2 626,345 625.2,345.2 624.4,344.7 623.6,345.4 622.8,344.5 622,344.6 621.2,344.6 620.4,345.6 619.6,344.7 618.8,345 618,344.6 617.2,344.5 616.4,344.8 615.6,345.1 614.8,345.2 614,345.5 613.2,344.6 612.4,345.2 611.6,345.1 610.8,344.6 610,345 609.2,345.5 608.4,344.5 607.6,344.5"/>
<polyline fill="none" stroke="#000" stroke-width="1.2"  points="755.2,343.3 756.2,365 757.2,380"/>
<polygon fill="#000" points="757.2,378.8 758,379.7 758.8,380.6 759.6,380.3 760.4,381.1 761.2,381.4 762,382.6 762.8,382.7 763.6,383.2 764.4,383.2 765.2,383.6 766,383.7 766.8,383.9 767.6,383.3 768.4,383.2 769.2,383.3 770,384.1 770.8,383.2 771.6,384.2 772.4,384.3 773.2,384.4 774,384.4 774.8,384.4 775.6,384.2 776.4,384.4 777.2,383.7 778,384.1 778.8,383.6 779.6,384 780.4,384 781.2,384 782,384.5 782.8,383.7 783.6,384.3 784.4,384.5 785.2,383.6 786,384.1 786.8,384.3 787.6,384.6 788.4,384.5 789.2,384.3 790,383.7 790.8,384.4 791.6,384.6 792.4,384.5 793.2,384.5 794,384.2 794.8,384 795.6,384.4 796.4,384.4 797.2,384.6 798,383.6 798.8,384.3 799.6,383.8 800.4,384.5 801.2,384.4 802,383.6 802.8,383.8 803.6,384.6 804.4,383.7 805.2,384.2 806,384.4 806.8,383.9 807.6,383.6 808.4,384.6 809.2,384.3 810,383.6 810.8,384.1 811.6,384.4 812.4,384.6 813.2,384.5 814,384.1 814.8,384.6 815.6,384.2 816.4,384.6 817.2,384.3 818,384.4 818.8,384.2 819.6,384.5 820.4,383.6 821.2,383.8 822,384.5 822.8,383.6 823.6,384.5 824.4,384.3 825.2,384.4 826,384.1 826.8,384.5 827.6,384.5 828.4,384.1 829.2,383.9 830,384.3 830.8,383.6 831.6,383.9 832.4,384.5 833.2,384.5 834,384.3 834.8,384.5 835.6,384.1 836.4,384.6 837.2,384.6 838,384.6 838.8,384.6 839.6,383.7 840.4,384 841.2,383.7 842,384.6 842.8,384 843.6,384.1 844.4,384.4 845.2,384.6 845.2,387 844.4,387.1 843.6,387.2 842.8,387 842,387.9 841.2,387.1 840.4,388.1 839.6,387.8 838.8,387.2 838,387 837.2,388 836.4,387.2 835.6,388 834.8,387.2 834,387 833.2,388 832.4,387.6 831.6,387.1 830.8,387.1 830,387 829.2,387.6 828.4,387 827.6,387.2 826.8,387 826,387.9 825.2,387.1 824.4,387.5 823.6,387 822.8,387.5 822,387.1 821.2,387.2 820.4,387.4 819.6,387.2 818.8,387 818,387.1 817.2,387.4 816.4,387 815.6,387.5 814.8,387.1 814,387.1 813.2,387.9 812.4,387.7 811.6,387.3 810.8,387.6 810,387.6 809.2,387.5 808.4,387 807.6,387.1 806.8,387.8 806,387.9 805.2,387 804.4,387.2 803.6,387.5 802.8,387 802,387.8 801.2,387.2 800.4,387.1 799.6,387 798.8,387.4 798,387 797.2,387.1 796.4,387.1 795.6,387.3 794.8,387.2 794,387.8 793.2,387.1 792.4,387 791.6,387 790.8,387 790,388.1 789.2,387 788.4,387.9 787.6,387 786.8,387.2 786,387.1 785.2,387.1 784.4,387.6 783.6,387.1 782.8,387 782,387 781.2,387.4 780.4,387.2 779.6,387 778.8,387.3 778,387.8 777.2,387.6 776.4,387.9 775.6,386.9 774.8,387 774,387.8 773.2,387.6 772.4,386.8 771.6,387 770.8,387.1 770,386.8 769.2,386.7 768.4,387.1 767.6,386.4 766.8,386.9 766,387 765.2,386.2 764.4,385.9 763.6,385.9 762.8,385.3 762,385.9 761.2,385.2 760.4,384.5 759.6,383.7 758.8,383.3 758,382.6 757.2,382.2"/>
<polygon fill="#000" points="545,474.2 545.6,471.8 546.2,471.7 546.8,474 547.4,472.5 548,474.4 548.6,474 549.2,474.3 549.8,472.1 550.4,473.9 551,472.7 551.6,474.4 552.2,472 552.8,472.8 553.4,474.1 554,471.8 554.6,474.2 555.2,474.1 555.8,474.4 556.4,472 557,471.8 557.6,474.2 558.2,471.8 558.8,474 559.4,473.9 560,471.9 560.6,472.5 561.2,472.5 561.8,473.3 562.4,474.1 563,472.6 563.6,474.3 564.2,474.2 564.8,474.4 565.4,474.1 566,472.2 566.6,474.2 567.2,474.4 567.8,472.9 568.4,474.2 569,473.3 569.6,472.8 570.2,473.1 570.8,472.4 571.4,473.5 572,472.8 572.6,474.2 573.2,474.3 573.8,473.4 574.4,473.9 575,473.7 575.6,472.5 576.2,471.6 576.8,473.8 577.4,472.4 578,474.4 578.6,474.4 579.2,471.7 579.8,471.9 580.4,472.2 581,474.2 581.6,471.8 582.2,473.4 582.8,474.3 583.4,474.3 584,474.2 584.6,473.2 585.2,474.4 585.8,473.1 586.4,474.1 587,472.6 587.6,474.4 588.2,473.9 588.8,473.2 589.4,474.3 590,473.9 590.6,474.1 591.2,474.1 591.8,474 592.4,472.2 593,474 593.6,472.9 594.2,474.4 594.8,473.9 595.4,473.9 596,473.8 596.6,474.4 597.2,473.2 597.8,474.4 598.4,474 599,474.3 599.6,473.6 600.2,474.4 600.8,472.5 601.4,474.3 602,471.8 602.6,473.7 603.2,471.9 603.8,472 604.4,472.4 605,472.6 605.6,473.9 606.2,472.4 606.8,474.3 607.4,473.6 608,474.4 608.6,472.9 609.2,474.4 609.8,472.7 610.4,472.4 611,473.4 611.6,473.3 612.2,473.9 612.8,473.9 613.4,473.8 614,474.4 614.6,473.7 615.2,472.7 615.8,473.8 616.4,473.8 617,474.4 617.6,474.4 618.2,473.7 618.8,473.2 619.4,472.9 620,473.6 620.6,473.7 621.2,471.8 621.8,472.3 622.4,472.9 623,474.3 623.6,473.7 624.2,472 624.8,472.6 625.4,474.4 626,472.8 626.6,472.1 627.2,472.5 627.8,473.7 628.4,474.3 629,473.7 629.6,474.4 630.2,474.3 630.8,473.1 631.4,474.3 632,474.4 632.6,473.2 633.2,472.2 633.8,473.4 634.4,474.4 635,473.3 635.6,472.6 636.2,471.6 636.8,474 637.4,473.8 638,472.8 638.6,472.5 639.2,473.2 639.8,473.4 640.4,474.1 641,474.4 641.6,473.3 642.2,473.6 642.8,474.3 643.4,473.2 644,474.4 644.6,474.4 645.2,474.3 645.8,473.4 646.4,473.3 647,474.3 647.6,474.2 648.2,474.4 648.8,472.2 649.4,473.9 650,474.4 650.6,473.5 651.2,473.2 651.8,471.9 652.4,474.2 653,474.4 653.6,473.9 654.2,474.4 654.8,474.4 655.4,471.9 656,474.3 656.6,473.7 657.2,472.5 657.8,474.1 658.4,474.4 659,472.6 659.6,474.4 660.2,472.8 660.8,472.8 661.4,474.3 662,474.2 662.6,474.1 663.2,473 663.8,472.9 664.4,473.5 665,472.6 665.6,474.2 666.2,471.7 666.8,472.2 667.4,474.2 668,472.8 668.6,472.8 669.2,472.2 669.8,474.2 670.4,473.3 671,473.1 671.6,473.8 672.2,473 672.8,473.8 673.4,473.5 674,474.3 674.6,474.4 675.2,474.3 675.8,474.4 676.4,474.1 677,474.4 677.6,473 678.2,473 678.8,474.4 679.4,474 680,472.5 680.6,474.4 681.2,472 681.8,474.4 682.4,474.4 683,472.3 683.6,473.2 684.2,473.3 684.8,474.4 685.4,472.7 686,474.1 686.6,474.4 687.2,474.2 687.8,474 688.4,471.7 689,472.3 689.6,474.4 690.2,473.9 690.8,474.1 691.4,473.6 692,472.3 692.6,472.5 693.2,474.4 693.8,472.7 694.4,474.4 695,473.7 695.6,474.3 696.2,474.1 696.8,474.2 697.4,474.2 698,473 698.6,474.4 699.2,474.4 699.8,473 700.4,473.3 701,473.9 701.6,472.1 702.2,472.1 702.8,474.3 703.4,472.1 704,474 704.6,474.2 705.2,473.6 705.8,472.8 706.4,474.1 707,474.3 707.6,473.1 708.2,474.3 708.8,472.7 709.4,474.4 710,472.1 710.6,474.3 711.2,473 711.8,474.3 712.4,474.2 713,473.6 713.6,474.1 714.2,471.7 714.8,474.4 715.4,474.4 716,471.6 716.6,472.9 717.2,474.3 717.8,474.4 718.4,474 719,473.9 719.6,473 720.2,473.2 720.8,474.3 721.4,473.9 722,472 722.6,473.5 723.2,473.9 723.8,472.9 724.4,472.7 725,472.3 725.6,473.2 726.2,474.1 726.8,474.4 727.4,472.6 728,473.3 728.6,473.9 729.2,473.3 729.8,473.1 730.4,474.3 731,472.7 731.6,473.7 732.2,474.4 732.8,474.3 733.4,471.9 734,474.4 734.6,473.6 735.2,473.6 735.8,472.4 736.4,473.9 737,474.3 737.6,474 738.2,474.4 738.8,474 739.4,474.2 740,474.4 740.6,473.9 741.2,474 741.8,474.3 742.4,471.9 743,474.3 743.6,474 744.2,474.4 744.8,472.5 745.4,473.8 746,474.3 746.6,474 747.2,472.5 747.8,473.8 748.4,473.5 749,472.4 749.6,472.3 750.2,474 750.8,473.9 751.4,474.4 752,474.2 752.6,474.1 753.2,473.9 753.8,473.1 754.4,471.9 755,474.4 755.6,472 756.2,474.3 756.8,473.2 757.4,474.4 758,473.2 758.6,474.4 759.2,474.2 759.8,474.1 760.4,472 761,474.3 761.6,473.3 762.2,473.1 762.8,472.6 763.4,474.3 764,473.6 764.6,473.8 765.2,473.5 765.8,474.2 766.4,473.7 767,473.8 767.6,473.7 768.2,473.6 768.8,474.4 769.4,473.8 770,473.1 770.6,474 771.2,471.7 771.8,473.2 772.4,474.4 773,473.1 773.6,474.1 774.2,473.6 774.8,472.1 775.4,472.9 776,474.1 776.6,474 777.2,473.6 777.8,474.3 778.4,473.9 779,472.4 779.6,472.4 780.2,473.7 780.8,473.7 781.4,473.2 782,474.1 782.6,474.1 783.2,473.2 783.8,474.4 784.4,472.1 785,474.4 785.6,474.4 786.2,472 786.8,473.2 787.4,472 788,473.3 788.6,473 789.2,473.1 789.8,473.1 790.4,472.7 791,474.3 791.6,472.7 792.2,473.2 792.8,472.5 793.4,473.5 794,474.1 794.6,474.1 795.2,473.2 795.8,474.4 796.4,474.4 797,472.5 797.6,472 798.2,474.4 798.8,473.4 799.4,471.6 800,473.9 800.6,473.2 801.2,474.3 801.8,474.4 802.4,474.4 803,474.4 803.6,474.4 804.2,472.9 804.8,472.9 805.4,474.4 806,472.9 806.6,472.9 807.2,473.3 807.8,473.8 808.4,474.2 809,472.9 809.6,474.4 810.2,472.5 810.8,474.1 811.4,474.3 812,473.7 812.6,474 813.2,473.8 813.8,474.3 814.4,474 815,473.3 815.6,474 816.2,471.8 816.8,473.5 817.4,474.4 818,473 818.6,474.1 819.2,471.6 819.8,473.4 820.4,473.9 821,474 821.6,473.4 822.2,472.5 822.8,474.4 823.4,473.9 824,472.5 824.6,474.4 825.2,472.5 825.8,473.5 826.4,472.3 827,473.1 827.6,474.1 828.2,473.5 828.8,474.3 829.4,471.9 830,473.3 830.6,473.8 831.2,474.2 831.8,472.6 832.4,474.4 833,472.7 833.6,473.4 834.2,472.1 834.8,473.7 835.4,474.3 836,474.3 836.6,474 837.2,473.9 837.8,474.3 838.4,471.5 839,474.4 839.6,472.6 840.2,473.4 840.8,473.6 841.4,474.4 842,472.2 842.6,473.5 843.2,472.7 843.8,471.8 844.4,472.5 845,474.2 845.6,474.3 845.6,482.5 845,482.4 844.4,485.1 843.8,484.1 843.2,482.9 842.6,482.6 842,483.1 841.4,485.2 840.8,482.4 840.2,482.7 839.6,482.5 839,483.6 838.4,482.8 837.8,482.4 837.2,483.2 836.6,483.3 836,483.8 835.4,482.5 834.8,483.4 834.2,483.2 833.6,484.7 833,482.6 832.4,484.3 831.8,483 831.2,484 830.6,482.5 830,483.7 829.4,482.6 828.8,484 828.2,484.2 827.6,482.4 827,484.8 826.4,484.3 825.8,482.6 825.2,484.6 824.6,484.4 824,484.7 823.4,483.4 822.8,482.6 822.2,482.6 821.6,484.7 821,483.8 820.4,484.7 819.8,482.7 819.2,484.4 818.6,483.5 818,484.4 817.4,485.1 816.8,482.6 816.2,484.2 815.6,484.2 815,482.9 814.4,483.6 813.8,484.2 813.2,483.7 812.6,483.4 812,482.4 811.4,484.5 810.8,483.9 810.2,482.4 809.6,483.6 809,482.4 808.4,485.1 807.8,484.9 807.2,483.8 806.6,482.4 806,484.5 805.4,484.1 804.8,482.5 804.2,482.6 803.6,482.4 803,484.6 802.4,485.1 801.8,483.7 801.2,482.4 800.6,482.5 800,482.4 799.4,483.1 798.8,484.9 798.2,482.8 797.6,483 797,483.4 796.4,482.4 795.8,483.3 795.2,484.9 794.6,482.9 794,482.9 793.4,482.6 792.8,484.2 792.2,482.8 791.6,484.8 791,482.4 790.4,482.4 789.8,483 789.2,482.5 788.6,483.4 788,483.5 787.4,483.5 786.8,484.2 786.2,483.5 785.6,482.5 785,482.7 784.4,483.3 783.8,483.9 783.2,484.2 782.6,483.4 782,482.7 781.4,484.2 780.8,485.1 780.2,482.6 779.6,482.9 779,482.6 778.4,483.3 777.8,482.9 777.2,484.1 776.6,483 776,484.5 775.4,483.5 774.8,482.4 774.2,483.1 773.6,485.2 773,484.9 772.4,483.5 771.8,483.6 771.2,482.4 770.6,482.9 770,484.4 769.4,483.3 768.8,484.4 768.2,484.5 767.6,483.1 767,482.5 766.4,482.4 765.8,482.5 765.2,482.6 764.6,484.6 764,484 763.4,483.8 762.8,484.4 762.2,484.7 761.6,484.2 761,484.7 760.4,484.2 759.8,482.5 759.2,484.1 758.6,482.5 758,482.6 757.4,485 756.8,482.4 756.2,484.4 755.6,484.2 755,484.4 754.4,484.5 753.8,482.8 753.2,483.6 752.6,483.1 752,482.6 751.4,483.9 750.8,482.5 750.2,482.6 749.6,482.6 749,482.8 748.4,482.4 747.8,482.6 747.2,484.3 746.6,483.6 746,485.1 745.4,483.3 744.8,483.6 744.2,484.1 743.6,482.5 743,484.3 742.4,483.2 741.8,484 741.2,482.6 740.6,483.8 740,482.9 739.4,482.9 738.8,482.4 738.2,485.2 737.6,484.1 737,483.7 736.4,485 735.8,483.2 735.2,483.6 734.6,483.9 734,483.4 733.4,483.2 732.8,484.2 732.2,483.3 731.6,485.1 731,482.8 730.4,483.6 729.8,484.9 729.2,482.9 728.6,483 728,482.6 727.4,483.9 726.8,482.9 726.2,483.5 725.6,483 725,483.7 724.4,483.8 723.8,484.6 723.2,482.6 722.6,484 722,482.9 721.4,484 720.8,483.4 720.2,483 719.6,483.1 719,484.2 718.4,482.4 717.8,482.5 717.2,483.6 716.6,482.9 716,484.2 715.4,482.8 714.8,485.1 714.2,483.9 713.6,482.5 713,482.5 712.4,482.7 711.8,482.5 711.2,484.4 710.6,482.7 710,482.6 709.4,483 708.8,483.4 708.2,483 707.6,484 707,484.4 706.4,482.7 705.8,483.6 705.2,484 704.6,483 704,484.7 703.4,483.1 702.8,482.6 702.2,482.4 701.6,482.4 701,482.8 700.4,482.8 699.8,484.2 699.2,484.2 698.6,483.6 698,483.1 697.4,482.5 696.8,485 696.2,484.4 695.6,483.1 695,484.2 694.4,483.1 693.8,485.2 693.2,482.5 692.6,482.5 692,482.4 691.4,482.5 690.8,483.8 690.2,484.1 689.6,482.9 689,483.5 688.4,483.1 687.8,482.7 687.2,483.9 686.6,482.6 686,482.9 685.4,482.5 684.8,482.4 684.2,482.6 683.6,484.4 683,484.3 682.4,482.4 681.8,482.5 681.2,485 680.6,484.6 680,484.7 679.4,484.3 678.8,483.4 678.2,484 677.6,483.6 677,482.4 676.4,482.5 675.8,484.9 675.2,482.4 674.6,484.8 674,483.5 673.4,482.7 672.8,483.9 672.2,484.5 671.6,484.4 671,485.2 670.4,483.8 669.8,484.8 669.2,482.7 668.6,482.7 668,485 667.4,482.6 666.8,482.4 666.2,482.5 665.6,483.6 665,483.2 664.4,482.9 663.8,482.6 663.2,484.5 662.6,484 662,482.4 661.4,482.4 660.8,483 660.2,483 659.6,484.5 659,483.9 658.4,484.7 657.8,482.7 657.2,482.5 656.6,483.6 656,483.5 655.4,482.5 654.8,483.3 654.2,484.1 653.6,482.6 653,483.2 652.4,484.8 651.8,483.9 651.2,483 650.6,482.8 650,483.6 649.4,482.6 648.8,484.2 648.2,483.6 647.6,482.5 647,484.9 646.4,483 645.8,482.5 645.2,483.4 644.6,482.8 644,482.8 643.4,482.4 642.8,482.5 642.2,484.7 641.6,482.9 641,482.5 640.4,482.4 639.8,483.7 639.2,485.2 638.6,482.6 638,482.4 637.4,482.5 636.8,484.1 636.2,483.4 635.6,482.6 635,482.8 634.4,485.2 633.8,484.6 633.2,483.3 632.6,482.8 632,483.2 631.4,484.2 630.8,484.7 630.2,484.9 629.6,482.5 629,482.7 628.4,482.6 627.8,484.8 627.2,482.5 626.6,482.6 626,482.5 625.4,482.8 624.8,484.9 624.2,482.5 623.6,485 623,485.2 622.4,484.3 621.8,485.3 621.2,482.5 620.6,482.8 620,482.4 619.4,484.1 618.8,482.4 618.2,482.4 617.6,483 617,482.9 616.4,482.4 615.8,482.5 615.2,484.2 614.6,482.6 614,483.5 613.4,483 612.8,483.7 612.2,483.4 611.6,482.7 611,483.3 610.4,482.4 609.8,482.4 609.2,483.3 608.6,484.7 608,482.6 607.4,482.8 606.8,482.9 606.2,482.5 605.6,484.5 605,482.5 604.4,482.5 603.8,483.5 603.2,482.8 602.6,482.4 602,485.1 601.4,482.4 600.8,485.1 600.2,483.1 599.6,484.9 599,482.6 598.4,483.1 597.8,483.5 597.2,484.8 596.6,483.3 596,482.5 595.4,484.6 594.8,484.3 594.2,484.7 593.6,482.5 593,482.5 592.4,485.3 591.8,482.9 591.2,483.3 590.6,485 590,482.6 589.4,483.8 588.8,482.4 588.2,483.3 587.6,482.4 587,483.3 586.4,482.5 585.8,482.5 585.2,482.7 584.6,482.5 584,483.4 583.4,482.5 582.8,482.8 582.2,483.5 581.6,482.4 581,484.1 580.4,483 579.8,482.8 579.2,483.4 578.6,482.5 578,482.6 577.4,484.8 576.8,484.3 576.2,482.4 575.6,483.6 575,482.6 574.4,485.2 573.8,482.7 573.2,484.7 572.6,482.6 572,482.5 571.4,482.8 570.8,482.6 570.2,482.4 569.6,484.5 569,483.7 568.4,482.9 567.8,483 567.2,483.1 566.6,482.4 566,485.2 565.4,485.2 564.8,483.3 564.2,482.4 563.6,484 563,482.4 562.4,482.8 561.8,482.7 561.2,484.1 560.6,484 560,482.5 559.4,483.1 558.8,482.6 558.2,485 557.6,483.1 557,482.4 556.4,483.6 555.8,484 555.2,482.6 554.6,483.9 554,483.5 553.4,482.6 552.8,484.7 552.2,482.6 551.6,482.4 551,482.4 550.4,484.3 549.8,482.4 549.2,482.8 548.6,484.8 548,483 547.4,482.9 546.8,484.3 546.2,482.5 545.6,482.4 545,482.8"/>
<path d="M603.3,472 L605.8,480 L608.3,472 Z" fill="#fff"/>
<polyline fill="none" stroke="#000" stroke-width="1.6" stroke-linejoin="round" points="604.2,478.4 605.8,493.5 606.1,488.5 606.4,485.2 606.8,482.9 607.1,481.4 607.4,480.4 607.7,479.8 608,479.3 608.4,479 608.7,478.8 609,478.7"/>
<path d="M754.5,485 L756.9,477 L759.4,485 Z" fill="#fff"/>
<polyline fill="none" stroke="#000" stroke-width="1.6" stroke-linejoin="round" points="755.5,478.4 756.9,463.5 757.2,468.4 757.5,471.7 757.8,473.9 758.1,475.4 758.5,476.4 758.8,477 759.1,477.5 759.4,477.8 759.7,478 760,478.1"/>
<path d="M601.9,303 H609.7 V309.6 L605.8,311.6 L601.9,309.6 Z" fill="#000"/>
<rect x="602.8" y="302" width="6" height="0.8" fill="#000"/>
<path d="M602.9,303.6h5.8v1.5h-2.05v4.6h-1.7v-4.6h-2.05z" fill="#fff"/>
<path d="M532,383.2 H541 L543.5,387.8 L541,392.4 H532 Z" fill="#fff" stroke="#222" stroke-width="0.9"/>
<text x="537" y="391.6" font-family='"Liberation Sans", sans-serif' font-size="10" font-weight="normal" text-anchor="middle" fill="#000" >2</text>
<path d="M532,473 H541 L543.5,477.6 L541,482.2 H532 Z" fill="#000"/>
<text x="537" y="481.4" font-family='"Liberation Sans", sans-serif' font-size="10" font-weight="bold" text-anchor="middle" fill="#fff" >1</text>
<path d="M839,362.7 L842.8,359.2 V366.2 Z M842.5,362.1 h3.5 v1.2 h-3.5 z" fill="#000"/>
<text transform="translate(490.4,385.7) scale(1,1.03)" font-family='"Liberation Serif", serif' font-size="16.2" fill="#000">I</text>
<text transform="translate(495.1,390.2) scale(1,1.08)" font-family='"Liberation Serif", serif' font-size="12.6" fill="#000">OUT</text>
<text transform="translate(485.6,479.2) scale(1,1.03)" font-family='"Liberation Serif", serif' font-size="16.2" fill="#000">V</text>
<text transform="translate(496,483.5) scale(1,1.08)" font-family='"Liberation Serif", serif' font-size="12.6" fill="#000">OUT</text>
<rect x="542.8" y="542.1" width="19" height="9.8" fill="#000"/>
<text x="543.4" y="550.5" font-family='"Liberation Sans", sans-serif' font-size="9.2" font-weight="bold" text-anchor="start" fill="#fff" letter-spacing="0.1">Ch1</text>
<rect x="562.3" y="542.6" width="58.7" height="9.3" fill="none" stroke="#222" stroke-width="0.9"/>
<text x="620.3" y="550.5" font-family='"Liberation Sans", sans-serif' font-size="9.2" font-weight="bold" text-anchor="end" fill="#000" letter-spacing="0.45">20.0mV~N</text>
<text x="622.7" y="550.5" font-family='"Liberation Sans", sans-serif' font-size="9.2" font-weight="bold" text-anchor="start" fill="#000" letter-spacing="0.1">Ch2</text>
<rect x="641.9" y="542.6" width="58.8" height="9.3" fill="none" stroke="#222" stroke-width="0.9"/>
<text x="700" y="550.5" font-family='"Liberation Sans", sans-serif' font-size="9.2" font-weight="bold" text-anchor="end" fill="#000" letter-spacing="0.45">200mAΩN</text>
<text x="702.3" y="550.5" font-family='"Liberation Sans", sans-serif' font-size="9.2" font-weight="bold" text-anchor="start" fill="#000" letter-spacing="0.1">M</text>
<rect x="710.9" y="542.6" width="35.2" height="9.3" fill="none" stroke="#222" stroke-width="0.9"/>
<text x="745.4" y="550.5" font-family='"Liberation Sans", sans-serif' font-size="9.2" font-weight="bold" text-anchor="end" fill="#000" letter-spacing="0.45">100µs</text>
<text x="756.9" y="550.5" font-family='"Liberation Sans", sans-serif' font-size="9.2" font-weight="bold" text-anchor="start" fill="#000" letter-spacing="0.1">A</text>
<rect x="764" y="542.6" width="82.9" height="9.3" fill="none" stroke="#111" stroke-width="1.1"/>
<text x="770.5" y="550.5" font-family='"Liberation Sans", sans-serif' font-size="9.2" font-weight="bold" text-anchor="start" fill="#000" letter-spacing="0.45">Ch2</text>
<path d="M796,549.9 h1.8 l2.2,-6 h2" fill="none" stroke="#000" stroke-width="1.5"/>
<text x="846.2" y="550.5" font-family='"Liberation Sans", sans-serif' font-size="9.2" font-weight="bold" text-anchor="end" fill="#000" letter-spacing="0.45">168mA</text>
<path fill="#666" d="M199,730h1v1h-1zM199,736h1v1h-1zM199,742h1v1h-1zM199,748h1v1h-1zM199,754h1v1h-1zM199,760h1v1h-1zM199,766h1v1h-1zM199,772h1v1h-1zM199,778h1v1h-1zM199,784h1v1h-1zM199,790h1v1h-1zM199,796h1v1h-1zM199,802h1v1h-1zM199,809h1v1h-1zM199,815h1v1h-1zM199,821h1v1h-1zM199,827h1v1h-1zM199,833h1v1h-1zM199,839h1v1h-1zM199,845h1v1h-1zM199,851h1v1h-1zM199,857h1v1h-1zM199,863h1v1h-1zM199,869h1v1h-1zM199,875h1v1h-1zM199,881h1v1h-1zM199,887h1v1h-1zM199,893h1v1h-1zM199,899h1v1h-1zM199,905h1v1h-1zM199,911h1v1h-1zM199,917h1v1h-1zM199,923h1v1h-1zM199,929h1v1h-1zM199,935h1v1h-1zM199,941h1v1h-1zM199,947h1v1h-1zM199,953h1v1h-1zM199,959h1v1h-1zM229,730h1v1h-1zM229,736h1v1h-1zM229,742h1v1h-1zM229,748h1v1h-1zM229,754h1v1h-1zM229,760h1v1h-1zM229,766h1v1h-1zM229,772h1v1h-1zM229,778h1v1h-1zM229,784h1v1h-1zM229,790h1v1h-1zM229,796h1v1h-1zM229,802h1v1h-1zM229,809h1v1h-1zM229,815h1v1h-1zM229,821h1v1h-1zM229,827h1v1h-1zM229,833h1v1h-1zM229,839h1v1h-1zM229,845h1v1h-1zM229,851h1v1h-1zM229,857h1v1h-1zM229,863h1v1h-1zM229,869h1v1h-1zM229,875h1v1h-1zM229,881h1v1h-1zM229,887h1v1h-1zM229,893h1v1h-1zM229,899h1v1h-1zM229,905h1v1h-1zM229,911h1v1h-1zM229,917h1v1h-1zM229,923h1v1h-1zM229,929h1v1h-1zM229,935h1v1h-1zM229,941h1v1h-1zM229,947h1v1h-1zM229,953h1v1h-1zM229,959h1v1h-1zM259,730h1v1h-1zM259,736h1v1h-1zM259,742h1v1h-1zM259,748h1v1h-1zM259,754h1v1h-1zM259,760h1v1h-1zM259,766h1v1h-1zM259,772h1v1h-1zM259,778h1v1h-1zM259,784h1v1h-1zM259,790h1v1h-1zM259,796h1v1h-1zM259,802h1v1h-1zM259,809h1v1h-1zM259,815h1v1h-1zM259,821h1v1h-1zM259,827h1v1h-1zM259,833h1v1h-1zM259,839h1v1h-1zM259,845h1v1h-1zM259,851h1v1h-1zM259,857h1v1h-1zM259,863h1v1h-1zM259,869h1v1h-1zM259,875h1v1h-1zM259,881h1v1h-1zM259,887h1v1h-1zM259,893h1v1h-1zM259,899h1v1h-1zM259,905h1v1h-1zM259,911h1v1h-1zM259,917h1v1h-1zM259,923h1v1h-1zM259,929h1v1h-1zM259,935h1v1h-1zM259,941h1v1h-1zM259,947h1v1h-1zM259,953h1v1h-1zM259,959h1v1h-1zM290,730h1v1h-1zM290,736h1v1h-1zM290,742h1v1h-1zM290,748h1v1h-1zM290,754h1v1h-1zM290,760h1v1h-1zM290,766h1v1h-1zM290,772h1v1h-1zM290,778h1v1h-1zM290,784h1v1h-1zM290,790h1v1h-1zM290,796h1v1h-1zM290,802h1v1h-1zM290,809h1v1h-1zM290,815h1v1h-1zM290,821h1v1h-1zM290,827h1v1h-1zM290,833h1v1h-1zM290,839h1v1h-1zM290,845h1v1h-1zM290,851h1v1h-1zM290,857h1v1h-1zM290,863h1v1h-1zM290,869h1v1h-1zM290,875h1v1h-1zM290,881h1v1h-1zM290,887h1v1h-1zM290,893h1v1h-1zM290,899h1v1h-1zM290,905h1v1h-1zM290,911h1v1h-1zM290,917h1v1h-1zM290,923h1v1h-1zM290,929h1v1h-1zM290,935h1v1h-1zM290,941h1v1h-1zM290,947h1v1h-1zM290,953h1v1h-1zM290,959h1v1h-1zM350,730h1v1h-1zM350,736h1v1h-1zM350,742h1v1h-1zM350,748h1v1h-1zM350,754h1v1h-1zM350,760h1v1h-1zM350,766h1v1h-1zM350,772h1v1h-1zM350,778h1v1h-1zM350,784h1v1h-1zM350,790h1v1h-1zM350,796h1v1h-1zM350,802h1v1h-1zM350,809h1v1h-1zM350,815h1v1h-1zM350,821h1v1h-1zM350,827h1v1h-1zM350,833h1v1h-1zM350,839h1v1h-1zM350,845h1v1h-1zM350,851h1v1h-1zM350,857h1v1h-1zM350,863h1v1h-1zM350,869h1v1h-1zM350,875h1v1h-1zM350,881h1v1h-1zM350,887h1v1h-1zM350,893h1v1h-1zM350,899h1v1h-1zM350,905h1v1h-1zM350,911h1v1h-1zM350,917h1v1h-1zM350,923h1v1h-1zM350,929h1v1h-1zM350,935h1v1h-1zM350,941h1v1h-1zM350,947h1v1h-1zM350,953h1v1h-1zM350,959h1v1h-1zM380,730h1v1h-1zM380,736h1v1h-1zM380,742h1v1h-1zM380,748h1v1h-1zM380,754h1v1h-1zM380,760h1v1h-1zM380,766h1v1h-1zM380,772h1v1h-1zM380,778h1v1h-1zM380,784h1v1h-1zM380,790h1v1h-1zM380,796h1v1h-1zM380,802h1v1h-1zM380,809h1v1h-1zM380,815h1v1h-1zM380,821h1v1h-1zM380,827h1v1h-1zM380,833h1v1h-1zM380,839h1v1h-1zM380,845h1v1h-1zM380,851h1v1h-1zM380,857h1v1h-1zM380,863h1v1h-1zM380,869h1v1h-1zM380,875h1v1h-1zM380,881h1v1h-1zM380,887h1v1h-1zM380,893h1v1h-1zM380,899h1v1h-1zM380,905h1v1h-1zM380,911h1v1h-1zM380,917h1v1h-1zM380,923h1v1h-1zM380,929h1v1h-1zM380,935h1v1h-1zM380,941h1v1h-1zM380,947h1v1h-1zM380,953h1v1h-1zM380,959h1v1h-1zM410,730h1v1h-1zM410,736h1v1h-1zM410,742h1v1h-1zM410,748h1v1h-1zM410,754h1v1h-1zM410,760h1v1h-1zM410,766h1v1h-1zM410,772h1v1h-1zM410,778h1v1h-1zM410,784h1v1h-1zM410,790h1v1h-1zM410,796h1v1h-1zM410,802h1v1h-1zM410,809h1v1h-1zM410,815h1v1h-1zM410,821h1v1h-1zM410,827h1v1h-1zM410,833h1v1h-1zM410,839h1v1h-1zM410,845h1v1h-1zM410,851h1v1h-1zM410,857h1v1h-1zM410,863h1v1h-1zM410,869h1v1h-1zM410,875h1v1h-1zM410,881h1v1h-1zM410,887h1v1h-1zM410,893h1v1h-1zM410,899h1v1h-1zM410,905h1v1h-1zM410,911h1v1h-1zM410,917h1v1h-1zM410,923h1v1h-1zM410,929h1v1h-1zM410,935h1v1h-1zM410,941h1v1h-1zM410,947h1v1h-1zM410,953h1v1h-1zM410,959h1v1h-1zM440,730h1v1h-1zM440,736h1v1h-1zM440,742h1v1h-1zM440,748h1v1h-1zM440,754h1v1h-1zM440,760h1v1h-1zM440,766h1v1h-1zM440,772h1v1h-1zM440,778h1v1h-1zM440,784h1v1h-1zM440,790h1v1h-1zM440,796h1v1h-1zM440,802h1v1h-1zM440,809h1v1h-1zM440,815h1v1h-1zM440,821h1v1h-1zM440,827h1v1h-1zM440,833h1v1h-1zM440,839h1v1h-1zM440,845h1v1h-1zM440,851h1v1h-1zM440,857h1v1h-1zM440,863h1v1h-1zM440,869h1v1h-1zM440,875h1v1h-1zM440,881h1v1h-1zM440,887h1v1h-1zM440,893h1v1h-1zM440,899h1v1h-1zM440,905h1v1h-1zM440,911h1v1h-1zM440,917h1v1h-1zM440,923h1v1h-1zM440,929h1v1h-1zM440,935h1v1h-1zM440,941h1v1h-1zM440,947h1v1h-1zM440,953h1v1h-1zM440,959h1v1h-1zM175,754h1v1h-1zM181,754h1v1h-1zM187,754h1v1h-1zM193,754h1v1h-1zM199,754h1v1h-1zM205,754h1v1h-1zM211,754h1v1h-1zM217,754h1v1h-1zM223,754h1v1h-1zM229,754h1v1h-1zM235,754h1v1h-1zM241,754h1v1h-1zM247,754h1v1h-1zM253,754h1v1h-1zM259,754h1v1h-1zM265,754h1v1h-1zM272,754h1v1h-1zM278,754h1v1h-1zM284,754h1v1h-1zM290,754h1v1h-1zM296,754h1v1h-1zM302,754h1v1h-1zM308,754h1v1h-1zM314,754h1v1h-1zM320,754h1v1h-1zM326,754h1v1h-1zM332,754h1v1h-1zM338,754h1v1h-1zM344,754h1v1h-1zM350,754h1v1h-1zM356,754h1v1h-1zM362,754h1v1h-1zM368,754h1v1h-1zM374,754h1v1h-1zM380,754h1v1h-1zM386,754h1v1h-1zM392,754h1v1h-1zM398,754h1v1h-1zM404,754h1v1h-1zM410,754h1v1h-1zM416,754h1v1h-1zM422,754h1v1h-1zM428,754h1v1h-1zM434,754h1v1h-1zM440,754h1v1h-1zM446,754h1v1h-1zM452,754h1v1h-1zM458,754h1v1h-1zM464,754h1v1h-1zM175,784h1v1h-1zM181,784h1v1h-1zM187,784h1v1h-1zM193,784h1v1h-1zM199,784h1v1h-1zM205,784h1v1h-1zM211,784h1v1h-1zM217,784h1v1h-1zM223,784h1v1h-1zM229,784h1v1h-1zM235,784h1v1h-1zM241,784h1v1h-1zM247,784h1v1h-1zM253,784h1v1h-1zM259,784h1v1h-1zM265,784h1v1h-1zM272,784h1v1h-1zM278,784h1v1h-1zM284,784h1v1h-1zM290,784h1v1h-1zM296,784h1v1h-1zM302,784h1v1h-1zM308,784h1v1h-1zM314,784h1v1h-1zM320,784h1v1h-1zM326,784h1v1h-1zM332,784h1v1h-1zM338,784h1v1h-1zM344,784h1v1h-1zM350,784h1v1h-1zM356,784h1v1h-1zM362,784h1v1h-1zM368,784h1v1h-1zM374,784h1v1h-1zM380,784h1v1h-1zM386,784h1v1h-1zM392,784h1v1h-1zM398,784h1v1h-1zM404,784h1v1h-1zM410,784h1v1h-1zM416,784h1v1h-1zM422,784h1v1h-1zM428,784h1v1h-1zM434,784h1v1h-1zM440,784h1v1h-1zM446,784h1v1h-1zM452,784h1v1h-1zM458,784h1v1h-1zM464,784h1v1h-1zM175,815h1v1h-1zM181,815h1v1h-1zM187,815h1v1h-1zM193,815h1v1h-1zM199,815h1v1h-1zM205,815h1v1h-1zM211,815h1v1h-1zM217,815h1v1h-1zM223,815h1v1h-1zM229,815h1v1h-1zM235,815h1v1h-1zM241,815h1v1h-1zM247,815h1v1h-1zM253,815h1v1h-1zM259,815h1v1h-1zM265,815h1v1h-1zM272,815h1v1h-1zM278,815h1v1h-1zM284,815h1v1h-1zM290,815h1v1h-1zM296,815h1v1h-1zM302,815h1v1h-1zM308,815h1v1h-1zM314,815h1v1h-1zM320,815h1v1h-1zM326,815h1v1h-1zM332,815h1v1h-1zM338,815h1v1h-1zM344,815h1v1h-1zM350,815h1v1h-1zM356,815h1v1h-1zM362,815h1v1h-1zM368,815h1v1h-1zM374,815h1v1h-1zM380,815h1v1h-1zM386,815h1v1h-1zM392,815h1v1h-1zM398,815h1v1h-1zM404,815h1v1h-1zM410,815h1v1h-1zM416,815h1v1h-1zM422,815h1v1h-1zM428,815h1v1h-1zM434,815h1v1h-1zM440,815h1v1h-1zM446,815h1v1h-1zM452,815h1v1h-1zM458,815h1v1h-1zM464,815h1v1h-1zM175,875h1v1h-1zM181,875h1v1h-1zM187,875h1v1h-1zM193,875h1v1h-1zM199,875h1v1h-1zM205,875h1v1h-1zM211,875h1v1h-1zM217,875h1v1h-1zM223,875h1v1h-1zM229,875h1v1h-1zM235,875h1v1h-1zM241,875h1v1h-1zM247,875h1v1h-1zM253,875h1v1h-1zM259,875h1v1h-1zM265,875h1v1h-1zM272,875h1v1h-1zM278,875h1v1h-1zM284,875h1v1h-1zM290,875h1v1h-1zM296,875h1v1h-1zM302,875h1v1h-1zM308,875h1v1h-1zM314,875h1v1h-1zM320,875h1v1h-1zM326,875h1v1h-1zM332,875h1v1h-1zM338,875h1v1h-1zM344,875h1v1h-1zM350,875h1v1h-1zM356,875h1v1h-1zM362,875h1v1h-1zM368,875h1v1h-1zM374,875h1v1h-1zM380,875h1v1h-1zM386,875h1v1h-1zM392,875h1v1h-1zM398,875h1v1h-1zM404,875h1v1h-1zM410,875h1v1h-1zM416,875h1v1h-1zM422,875h1v1h-1zM428,875h1v1h-1zM434,875h1v1h-1zM440,875h1v1h-1zM446,875h1v1h-1zM452,875h1v1h-1zM458,875h1v1h-1zM464,875h1v1h-1zM175,905h1v1h-1zM181,905h1v1h-1zM187,905h1v1h-1zM193,905h1v1h-1zM199,905h1v1h-1zM205,905h1v1h-1zM211,905h1v1h-1zM217,905h1v1h-1zM223,905h1v1h-1zM229,905h1v1h-1zM235,905h1v1h-1zM241,905h1v1h-1zM247,905h1v1h-1zM253,905h1v1h-1zM259,905h1v1h-1zM265,905h1v1h-1zM272,905h1v1h-1zM278,905h1v1h-1zM284,905h1v1h-1zM290,905h1v1h-1zM296,905h1v1h-1zM302,905h1v1h-1zM308,905h1v1h-1zM314,905h1v1h-1zM320,905h1v1h-1zM326,905h1v1h-1zM332,905h1v1h-1zM338,905h1v1h-1zM344,905h1v1h-1zM350,905h1v1h-1zM356,905h1v1h-1zM362,905h1v1h-1zM368,905h1v1h-1zM374,905h1v1h-1zM380,905h1v1h-1zM386,905h1v1h-1zM392,905h1v1h-1zM398,905h1v1h-1zM404,905h1v1h-1zM410,905h1v1h-1zM416,905h1v1h-1zM422,905h1v1h-1zM428,905h1v1h-1zM434,905h1v1h-1zM440,905h1v1h-1zM446,905h1v1h-1zM452,905h1v1h-1zM458,905h1v1h-1zM464,905h1v1h-1zM175,935h1v1h-1zM181,935h1v1h-1zM187,935h1v1h-1zM193,935h1v1h-1zM199,935h1v1h-1zM205,935h1v1h-1zM211,935h1v1h-1zM217,935h1v1h-1zM223,935h1v1h-1zM229,935h1v1h-1zM235,935h1v1h-1zM241,935h1v1h-1zM247,935h1v1h-1zM253,935h1v1h-1zM259,935h1v1h-1zM265,935h1v1h-1zM272,935h1v1h-1zM278,935h1v1h-1zM284,935h1v1h-1zM290,935h1v1h-1zM296,935h1v1h-1zM302,935h1v1h-1zM308,935h1v1h-1zM314,935h1v1h-1zM320,935h1v1h-1zM326,935h1v1h-1zM332,935h1v1h-1zM338,935h1v1h-1zM344,935h1v1h-1zM350,935h1v1h-1zM356,935h1v1h-1zM362,935h1v1h-1zM368,935h1v1h-1zM374,935h1v1h-1zM380,935h1v1h-1zM386,935h1v1h-1zM392,935h1v1h-1zM398,935h1v1h-1zM404,935h1v1h-1zM410,935h1v1h-1zM416,935h1v1h-1zM422,935h1v1h-1zM428,935h1v1h-1zM434,935h1v1h-1zM440,935h1v1h-1zM446,935h1v1h-1zM452,935h1v1h-1zM458,935h1v1h-1zM464,935h1v1h-1z"/>
<path fill="#aaa" d="M170,845h1v1h-1zM172,845h1v1h-1zM174,845h1v1h-1zM176,845h1v1h-1zM178,845h1v1h-1zM180,845h1v1h-1zM182,845h1v1h-1zM184,845h1v1h-1zM186,845h1v1h-1zM188,845h1v1h-1zM190,845h1v1h-1zM192,845h1v1h-1zM194,845h1v1h-1zM196,845h1v1h-1zM198,845h1v1h-1zM200,845h1v1h-1zM202,845h1v1h-1zM204,845h1v1h-1zM206,845h1v1h-1zM208,845h1v1h-1zM210,845h1v1h-1zM212,845h1v1h-1zM214,845h1v1h-1zM216,845h1v1h-1zM218,845h1v1h-1zM220,845h1v1h-1zM222,845h1v1h-1zM224,845h1v1h-1zM226,845h1v1h-1zM228,845h1v1h-1zM230,845h1v1h-1zM232,845h1v1h-1zM234,845h1v1h-1zM236,845h1v1h-1zM238,845h1v1h-1zM240,845h1v1h-1zM242,845h1v1h-1zM244,845h1v1h-1zM246,845h1v1h-1zM248,845h1v1h-1zM250,845h1v1h-1zM252,845h1v1h-1zM254,845h1v1h-1zM256,845h1v1h-1zM258,845h1v1h-1zM260,845h1v1h-1zM262,845h1v1h-1zM264,845h1v1h-1zM266,845h1v1h-1zM268,845h1v1h-1zM270,845h1v1h-1zM272,845h1v1h-1zM274,845h1v1h-1zM276,845h1v1h-1zM278,845h1v1h-1zM280,845h1v1h-1zM282,845h1v1h-1zM284,845h1v1h-1zM286,845h1v1h-1zM288,845h1v1h-1zM290,845h1v1h-1zM292,845h1v1h-1zM294,845h1v1h-1zM296,845h1v1h-1zM298,845h1v1h-1zM300,845h1v1h-1zM302,845h1v1h-1zM304,845h1v1h-1zM306,845h1v1h-1zM308,845h1v1h-1zM310,845h1v1h-1zM312,845h1v1h-1zM314,845h1v1h-1zM316,845h1v1h-1zM318,845h1v1h-1zM320,845h1v1h-1zM322,845h1v1h-1zM324,845h1v1h-1zM326,845h1v1h-1zM328,845h1v1h-1zM330,845h1v1h-1zM332,845h1v1h-1zM334,845h1v1h-1zM336,845h1v1h-1zM338,845h1v1h-1zM340,845h1v1h-1zM342,845h1v1h-1zM344,845h1v1h-1zM346,845h1v1h-1zM348,845h1v1h-1zM350,845h1v1h-1zM352,845h1v1h-1zM354,845h1v1h-1zM356,845h1v1h-1zM358,845h1v1h-1zM360,845h1v1h-1zM362,845h1v1h-1zM364,845h1v1h-1zM366,845h1v1h-1zM368,845h1v1h-1zM370,845h1v1h-1zM372,845h1v1h-1zM374,845h1v1h-1zM376,845h1v1h-1zM378,845h1v1h-1zM380,845h1v1h-1zM382,845h1v1h-1zM384,845h1v1h-1zM386,845h1v1h-1zM388,845h1v1h-1zM390,845h1v1h-1zM392,845h1v1h-1zM394,845h1v1h-1zM396,845h1v1h-1zM398,845h1v1h-1zM400,845h1v1h-1zM402,845h1v1h-1zM404,845h1v1h-1zM406,845h1v1h-1zM408,845h1v1h-1zM410,845h1v1h-1zM412,845h1v1h-1zM414,845h1v1h-1zM416,845h1v1h-1zM418,845h1v1h-1zM420,845h1v1h-1zM422,845h1v1h-1zM424,845h1v1h-1zM426,845h1v1h-1zM428,845h1v1h-1zM430,845h1v1h-1zM432,845h1v1h-1zM434,845h1v1h-1zM436,845h1v1h-1zM438,845h1v1h-1zM440,845h1v1h-1zM442,845h1v1h-1zM444,845h1v1h-1zM446,845h1v1h-1zM448,845h1v1h-1zM450,845h1v1h-1zM452,845h1v1h-1zM454,845h1v1h-1zM456,845h1v1h-1zM458,845h1v1h-1zM460,845h1v1h-1zM462,845h1v1h-1zM464,845h1v1h-1zM466,845h1v1h-1zM468,845h1v1h-1zM470,845h1v1h-1zM320,725h1v1h-1zM320,727h1v1h-1zM320,729h1v1h-1zM320,731h1v1h-1zM320,733h1v1h-1zM320,735h1v1h-1zM320,737h1v1h-1zM320,739h1v1h-1zM320,741h1v1h-1zM320,743h1v1h-1zM320,745h1v1h-1zM320,747h1v1h-1zM320,749h1v1h-1zM320,751h1v1h-1zM320,753h1v1h-1zM320,755h1v1h-1zM320,757h1v1h-1zM320,759h1v1h-1zM320,761h1v1h-1zM320,763h1v1h-1zM320,765h1v1h-1zM320,767h1v1h-1zM320,769h1v1h-1zM320,771h1v1h-1zM320,773h1v1h-1zM320,775h1v1h-1zM320,777h1v1h-1zM320,779h1v1h-1zM320,781h1v1h-1zM320,783h1v1h-1zM320,785h1v1h-1zM320,787h1v1h-1zM320,789h1v1h-1zM320,791h1v1h-1zM320,793h1v1h-1zM320,795h1v1h-1zM320,797h1v1h-1zM320,799h1v1h-1zM320,801h1v1h-1zM320,803h1v1h-1zM320,805h1v1h-1zM320,807h1v1h-1zM320,809h1v1h-1zM320,811h1v1h-1zM320,813h1v1h-1zM320,815h1v1h-1zM320,817h1v1h-1zM320,819h1v1h-1zM320,821h1v1h-1zM320,823h1v1h-1zM320,825h1v1h-1zM320,827h1v1h-1zM320,829h1v1h-1zM320,831h1v1h-1zM320,833h1v1h-1zM320,835h1v1h-1zM320,837h1v1h-1zM320,839h1v1h-1zM320,841h1v1h-1zM320,843h1v1h-1zM320,845h1v1h-1zM320,847h1v1h-1zM320,849h1v1h-1zM320,851h1v1h-1zM320,853h1v1h-1zM320,855h1v1h-1zM320,857h1v1h-1zM320,859h1v1h-1zM320,861h1v1h-1zM320,863h1v1h-1zM320,865h1v1h-1zM320,867h1v1h-1zM320,869h1v1h-1zM320,871h1v1h-1zM320,873h1v1h-1zM320,875h1v1h-1zM320,877h1v1h-1zM320,879h1v1h-1zM320,881h1v1h-1zM320,883h1v1h-1zM320,885h1v1h-1zM320,887h1v1h-1zM320,889h1v1h-1zM320,891h1v1h-1zM320,893h1v1h-1zM320,895h1v1h-1zM320,897h1v1h-1zM320,899h1v1h-1zM320,901h1v1h-1zM320,903h1v1h-1zM320,905h1v1h-1zM320,907h1v1h-1zM320,909h1v1h-1zM320,911h1v1h-1zM320,913h1v1h-1zM320,915h1v1h-1zM320,917h1v1h-1zM320,919h1v1h-1zM320,921h1v1h-1zM320,923h1v1h-1zM320,925h1v1h-1zM320,927h1v1h-1zM320,929h1v1h-1zM320,931h1v1h-1zM320,933h1v1h-1zM320,935h1v1h-1zM320,937h1v1h-1zM320,939h1v1h-1zM320,941h1v1h-1zM320,943h1v1h-1zM320,945h1v1h-1zM320,947h1v1h-1zM320,949h1v1h-1zM320,951h1v1h-1zM320,953h1v1h-1zM320,955h1v1h-1zM320,957h1v1h-1zM320,959h1v1h-1zM320,961h1v1h-1zM320,963h1v1h-1zM320,965h1v1h-1z"/>
<path fill="#555" d="M175,844h1v3h-1zM175,964h1v1h-1zM175,725h1v1h-1zM181,844h1v3h-1zM181,964h1v1h-1zM181,725h1v1h-1zM187,844h1v3h-1zM187,964h1v1h-1zM187,725h1v1h-1zM193,844h1v3h-1zM193,964h1v1h-1zM193,725h1v1h-1zM199,844h1v3h-1zM199,964h1v1h-1zM199,725h1v1h-1zM205,844h1v3h-1zM205,964h1v1h-1zM205,725h1v1h-1zM211,844h1v3h-1zM211,964h1v1h-1zM211,725h1v1h-1zM217,844h1v3h-1zM217,964h1v1h-1zM217,725h1v1h-1zM223,844h1v3h-1zM223,964h1v1h-1zM223,725h1v1h-1zM229,844h1v3h-1zM229,964h1v1h-1zM229,725h1v1h-1zM235,844h1v3h-1zM235,964h1v1h-1zM235,725h1v1h-1zM241,844h1v3h-1zM241,964h1v1h-1zM241,725h1v1h-1zM247,844h1v3h-1zM247,964h1v1h-1zM247,725h1v1h-1zM253,844h1v3h-1zM253,964h1v1h-1zM253,725h1v1h-1zM259,844h1v3h-1zM259,964h1v1h-1zM259,725h1v1h-1zM265,844h1v3h-1zM265,964h1v1h-1zM265,725h1v1h-1zM272,844h1v3h-1zM272,964h1v1h-1zM272,725h1v1h-1zM278,844h1v3h-1zM278,964h1v1h-1zM278,725h1v1h-1zM284,844h1v3h-1zM284,964h1v1h-1zM284,725h1v1h-1zM290,844h1v3h-1zM290,964h1v1h-1zM290,725h1v1h-1zM296,844h1v3h-1zM296,964h1v1h-1zM296,725h1v1h-1zM302,844h1v3h-1zM302,964h1v1h-1zM302,725h1v1h-1zM308,844h1v3h-1zM308,964h1v1h-1zM308,725h1v1h-1zM314,844h1v3h-1zM314,964h1v1h-1zM314,725h1v1h-1zM320,844h1v3h-1zM320,964h1v1h-1zM320,725h1v1h-1zM326,844h1v3h-1zM326,964h1v1h-1zM326,725h1v1h-1zM332,844h1v3h-1zM332,964h1v1h-1zM332,725h1v1h-1zM338,844h1v3h-1zM338,964h1v1h-1zM338,725h1v1h-1zM344,844h1v3h-1zM344,964h1v1h-1zM344,725h1v1h-1zM350,844h1v3h-1zM350,964h1v1h-1zM350,725h1v1h-1zM356,844h1v3h-1zM356,964h1v1h-1zM356,725h1v1h-1zM362,844h1v3h-1zM362,964h1v1h-1zM362,725h1v1h-1zM368,844h1v3h-1zM368,964h1v1h-1zM368,725h1v1h-1zM374,844h1v3h-1zM374,964h1v1h-1zM374,725h1v1h-1zM380,844h1v3h-1zM380,964h1v1h-1zM380,725h1v1h-1zM386,844h1v3h-1zM386,964h1v1h-1zM386,725h1v1h-1zM392,844h1v3h-1zM392,964h1v1h-1zM392,725h1v1h-1zM398,844h1v3h-1zM398,964h1v1h-1zM398,725h1v1h-1zM404,844h1v3h-1zM404,964h1v1h-1zM404,725h1v1h-1zM410,844h1v3h-1zM410,964h1v1h-1zM410,725h1v1h-1zM416,844h1v3h-1zM416,964h1v1h-1zM416,725h1v1h-1zM422,844h1v3h-1zM422,964h1v1h-1zM422,725h1v1h-1zM428,844h1v3h-1zM428,964h1v1h-1zM428,725h1v1h-1zM434,844h1v3h-1zM434,964h1v1h-1zM434,725h1v1h-1zM440,844h1v3h-1zM440,964h1v1h-1zM440,725h1v1h-1zM446,844h1v3h-1zM446,964h1v1h-1zM446,725h1v1h-1zM452,844h1v3h-1zM452,964h1v1h-1zM452,725h1v1h-1zM458,844h1v3h-1zM458,964h1v1h-1zM458,725h1v1h-1zM464,844h1v3h-1zM464,964h1v1h-1zM464,725h1v1h-1zM319,730h3v1h-3zM169,730h1v1h-1zM469,730h1v1h-1zM319,736h3v1h-3zM169,736h1v1h-1zM469,736h1v1h-1zM319,742h3v1h-3zM169,742h1v1h-1zM469,742h1v1h-1zM319,748h3v1h-3zM169,748h1v1h-1zM469,748h1v1h-1zM319,754h3v1h-3zM169,754h1v1h-1zM469,754h1v1h-1zM319,760h3v1h-3zM169,760h1v1h-1zM469,760h1v1h-1zM319,766h3v1h-3zM169,766h1v1h-1zM469,766h1v1h-1zM319,772h3v1h-3zM169,772h1v1h-1zM469,772h1v1h-1zM319,778h3v1h-3zM169,778h1v1h-1zM469,778h1v1h-1zM319,784h3v1h-3zM169,784h1v1h-1zM469,784h1v1h-1zM319,790h3v1h-3zM169,790h1v1h-1zM469,790h1v1h-1zM319,796h3v1h-3zM169,796h1v1h-1zM469,796h1v1h-1zM319,802h3v1h-3zM169,802h1v1h-1zM469,802h1v1h-1zM319,809h3v1h-3zM169,809h1v1h-1zM469,809h1v1h-1zM319,815h3v1h-3zM169,815h1v1h-1zM469,815h1v1h-1zM319,821h3v1h-3zM169,821h1v1h-1zM469,821h1v1h-1zM319,827h3v1h-3zM169,827h1v1h-1zM469,827h1v1h-1zM319,833h3v1h-3zM169,833h1v1h-1zM469,833h1v1h-1zM319,839h3v1h-3zM169,839h1v1h-1zM469,839h1v1h-1zM319,845h3v1h-3zM169,845h1v1h-1zM469,845h1v1h-1zM319,851h3v1h-3zM169,851h1v1h-1zM469,851h1v1h-1zM319,857h3v1h-3zM169,857h1v1h-1zM469,857h1v1h-1zM319,863h3v1h-3zM169,863h1v1h-1zM469,863h1v1h-1zM319,869h3v1h-3zM169,869h1v1h-1zM469,869h1v1h-1zM319,875h3v1h-3zM169,875h1v1h-1zM469,875h1v1h-1zM319,881h3v1h-3zM169,881h1v1h-1zM469,881h1v1h-1zM319,887h3v1h-3zM169,887h1v1h-1zM469,887h1v1h-1zM319,893h3v1h-3zM169,893h1v1h-1zM469,893h1v1h-1zM319,899h3v1h-3zM169,899h1v1h-1zM469,899h1v1h-1zM319,905h3v1h-3zM169,905h1v1h-1zM469,905h1v1h-1zM319,911h3v1h-3zM169,911h1v1h-1zM469,911h1v1h-1zM319,917h3v1h-3zM169,917h1v1h-1zM469,917h1v1h-1zM319,923h3v1h-3zM169,923h1v1h-1zM469,923h1v1h-1zM319,929h3v1h-3zM169,929h1v1h-1zM469,929h1v1h-1zM319,935h3v1h-3zM169,935h1v1h-1zM469,935h1v1h-1zM319,941h3v1h-3zM169,941h1v1h-1zM469,941h1v1h-1zM319,947h3v1h-3zM169,947h1v1h-1zM469,947h1v1h-1zM319,953h3v1h-3zM169,953h1v1h-1zM469,953h1v1h-1zM319,959h3v1h-3zM169,959h1v1h-1zM469,959h1v1h-1z"/>
<rect x="168" y="723.2" width="303.3" height="243.4" fill="none" stroke="#000" stroke-width="2"/>
<path d="M316.5,723.2 L324.5,723.2 L320.5,728.2 Z" fill="#000"/>
<polygon fill="#000" points="169,811 169.8,810.6 170.6,810.7 171.4,810 172.2,810.5 173,811 173.8,810.9 174.6,810.5 175.4,810.4 176.2,810.7 177,809.8 177.8,810.9 178.6,810.9 179.4,810 180.2,810.1 181,810.2 181.8,810.5 182.6,811 183.4,810.3 184.2,810.4 185,810.6 185.8,811 186.6,810.9 187.4,810.7 188.2,810.9 189,810.4 189.8,810.4 190.6,811 191.4,810.9 192.2,810.1 193,811 193.8,811 194.6,810.1 195.4,810.7 196.2,810.1 197,810.5 197.8,810.9 198.6,810.4 199.4,811 200.2,810.9 201,811 201.8,810.1 202.6,811 203.4,810.9 204.2,811 205,811 205.8,810.4 206.6,810.7 207.4,810.9 208.2,810.8 209,809.7 209.8,811 210.6,810 211.4,810.3 212.2,809.8 213,810.2 213.8,811 214.6,810.1 215.4,811 216.2,810 217,810.6 217.8,811 218.6,810.4 219.4,811 220.2,810.5 221,810.9 221.8,810.5 222.6,810.2 223.4,810.9 224.2,810.3 225,810.3 225.8,810.2 226.6,810.1 227.4,810.7 228.2,810 228.2,815.3 227.4,815 226.6,815.9 225.8,815.1 225,815 224.2,815.2 223.4,815 222.6,815.4 221.8,815.6 221,815.1 220.2,815.3 219.4,815 218.6,815 217.8,815.7 217,815 216.2,815.1 215.4,815.2 214.6,815.3 213.8,815 213,815.1 212.2,815 211.4,815.1 210.6,815 209.8,815.1 209,816.1 208.2,816.2 207.4,815.1 206.6,815.1 205.8,815.1 205,816 204.2,816.2 203.4,816 202.6,815.3 201.8,815.1 201,815.1 200.2,815.2 199.4,816 198.6,815.4 197.8,815 197,815 196.2,815.3 195.4,815.1 194.6,815.5 193.8,816.1 193,815.3 192.2,816 191.4,816.1 190.6,816.1 189.8,815 189,815 188.2,815 187.4,815 186.6,815 185.8,815.1 185,815.7 184.2,815.1 183.4,816.1 182.6,815 181.8,816.2 181,815.6 180.2,815 179.4,816 178.6,815.2 177.8,815 177,816.2 176.2,815 175.4,815.2 174.6,816.2 173.8,815.4 173,816.2 172.2,815.2 171.4,815 170.6,816.1 169.8,816 169,815"/>
<polyline fill="none" stroke="#000" stroke-width="1.3"  points="228.4,813 230.2,790 232,769"/>
<polygon fill="#000" points="232,765.1 232.8,766.4 233.6,766.6 234.4,766.8 235.2,767.1 236,767 236.8,767.3 237.6,766.5 238.4,767.3 239.2,767.3 240,767.5 240.8,766.4 241.6,767.2 242.4,767.2 243.2,766.4 244,767.5 244.8,767.5 245.6,767.6 246.4,767 247.2,767.6 248,767.2 248.8,767 249.6,766.6 250.4,767.6 251.2,767.3 252,767.5 252.8,767.4 253.6,767.2 254.4,767.6 255.2,766.9 256,766.7 256.8,767.4 257.6,766.7 258.4,767.4 259.2,766.8 260,767.5 260.8,767.4 261.6,766.8 262.4,766.8 263.2,767.6 264,766.4 264.8,767.5 265.6,767.1 266.4,767.2 267.2,767.4 268,767.6 268.8,766.4 269.6,766.5 270.4,766.8 271.2,766.6 272,767.1 272.8,767 273.6,767.2 274.4,767.1 275.2,767.3 276,766.5 276.8,767.5 277.6,767.6 278.4,766.4 279.2,767.5 280,767.2 280.8,767.6 281.6,767.5 282.4,767.5 283.2,767.6 284,766.7 284.8,767.2 285.6,767.5 286.4,767.3 287.2,767.1 288,767.5 288.8,767.5 289.6,767.4 290.4,767.6 291.2,766.7 292,767.2 292.8,767.5 293.6,767.5 294.4,767.6 295.2,766.6 296,767.6 296.8,767.4 297.6,767.6 298.4,766.4 299.2,767.6 300,767.4 300.8,767.1 301.6,766.8 302.4,766.9 303.2,766.9 304,766.8 304.8,766.5 305.6,766.6 306.4,766.9 307.2,767.3 308,767.2 308.8,766.8 309.6,767.1 310.4,767.3 311.2,766.9 312,767.4 312.8,767.4 313.6,766.8 314.4,767.3 315.2,767.6 316,767.6 316.8,767.2 317.6,766.5 318.4,766.7 319.2,766.4 320,767.4 320.8,767.6 321.6,767.2 322.4,766.5 323.2,767.2 324,767.3 324.8,767 325.6,767.4 326.4,767.4 327.2,767 328,767.6 328.8,767.4 329.6,767.2 330.4,766.4 331.2,767.4 332,766.3 332.8,767.2 333.6,767.6 334.4,766.4 335.2,767.3 336,766.6 336.8,766.8 337.6,766.6 338.4,767.6 339.2,767.3 340,767.6 340.8,767.1 341.6,767.4 342.4,767.1 343.2,767.4 344,767.5 344.8,767.6 345.6,766.7 346.4,767 347.2,767.3 348,767.5 348.8,767.2 349.6,767.2 350.4,767.6 351.2,766.9 352,767.6 352.8,767.3 353.6,767.1 354.4,767.6 355.2,766.9 356,767 356.8,767.6 357.6,767.6 358.4,767.2 359.2,767.3 360,767.6 360.8,767.2 361.6,767.4 362.4,767.5 363.2,766.5 364,767.5 364.8,766.8 365.6,767.1 366.4,767.3 367.2,767.5 368,766.9 368.8,767.5 369.6,767.3 370.4,767.5 371.2,767.4 372,766.4 372.8,767.2 373.6,767.2 374.4,767.4 375.2,767.6 376,767.4 376.8,767.6 377.6,767.5 378.4,767 379.2,767.6 379.2,772.2 378.4,771.7 377.6,771.6 376.8,771.7 376,771.7 375.2,772.5 374.4,771.6 373.6,771.8 372.8,771.6 372,771.7 371.2,771.6 370.4,771.6 369.6,772.4 368.8,772.6 368,771.7 367.2,771.8 366.4,772.7 365.6,772.8 364.8,771.7 364,772.6 363.2,772.5 362.4,771.6 361.6,772.1 360.8,772.8 360,772.6 359.2,771.8 358.4,771.8 357.6,772.6 356.8,771.7 356,771.8 355.2,771.7 354.4,771.6 353.6,772.4 352.8,772.5 352,771.6 351.2,771.6 350.4,771.6 349.6,771.8 348.8,772.9 348,772.1 347.2,772 346.4,771.6 345.6,772 344.8,771.7 344,772.2 343.2,772.4 342.4,771.6 341.6,772.8 340.8,772.1 340,771.6 339.2,771.9 338.4,771.7 337.6,771.8 336.8,772.8 336,772.2 335.2,771.6 334.4,772.5 333.6,771.7 332.8,772.4 332,771.7 331.2,772.1 330.4,771.9 329.6,772.6 328.8,772 328,771.8 327.2,771.9 326.4,772.7 325.6,772 324.8,771.8 324,771.9 323.2,772.9 322.4,772.4 321.6,771.9 320.8,771.6 320,772.6 319.2,771.7 318.4,772.5 317.6,771.7 316.8,771.6 316,772 315.2,771.7 314.4,771.8 313.6,772.5 312.8,771.7 312,772 311.2,771.7 310.4,771.9 309.6,771.8 308.8,772.6 308,771.8 307.2,772.8 306.4,772 305.6,771.6 304.8,771.6 304,772.2 303.2,771.9 302.4,772.3 301.6,771.9 300.8,772.5 300,772.2 299.2,771.7 298.4,772.3 297.6,771.7 296.8,772.3 296,771.8 295.2,771.8 294.4,771.6 293.6,772.4 292.8,772.8 292,771.9 291.2,771.7 290.4,771.8 289.6,772 288.8,771.9 288,771.7 287.2,771.9 286.4,772 285.6,772.2 284.8,772.1 284,772.1 283.2,772 282.4,771.7 281.6,771.8 280.8,771.6 280,771.6 279.2,771.9 278.4,771.9 277.6,772 276.8,772.1 276,771.7 275.2,771.8 274.4,771.7 273.6,772.7 272.8,771.7 272,771.7 271.2,771.6 270.4,772.6 269.6,772.1 268.8,772.4 268,771.6 267.2,771.9 266.4,771.6 265.6,771.8 264.8,771.8 264,772.7 263.2,771.9 262.4,772.5 261.6,772.6 260.8,772.8 260,771.7 259.2,771.7 258.4,772.7 257.6,771.9 256.8,771.8 256,772.7 255.2,771.6 254.4,772 253.6,772.5 252.8,771.6 252,771.6 251.2,771.9 250.4,771.6 249.6,772.2 248.8,771.6 248,771.9 247.2,772 246.4,771.6 245.6,771.6 244.8,772.4 244,771.6 243.2,771.6 242.4,771.6 241.6,771.9 240.8,771.8 240,772.5 239.2,772.2 238.4,772.1 237.6,772.3 236.8,771.9 236,771.5 235.2,771.4 234.4,771.4 233.6,770.8 232.8,771.3 232,770.2"/>
<polyline fill="none" stroke="#000" stroke-width="1.2"  points="379.3,769 380.5,790 381.8,809"/>
<polygon fill="#000" points="382.3,809.5 383.1,809 383.9,809.9 384.7,809.5 385.5,810.3 386.3,810.4 387.1,810.6 387.9,810.4 388.7,810.6 389.5,810.2 390.3,809.9 391.1,810.7 391.9,810.5 392.7,810 393.5,810.6 394.3,810.9 395.1,810.8 395.9,810.6 396.7,810.8 397.5,811 398.3,810.9 399.1,811 399.9,810.8 400.7,810.9 401.5,810.9 402.3,811 403.1,810.9 403.9,810 404.7,810 405.5,811 406.3,811 407.1,810.4 407.9,810.8 408.7,810.4 409.5,810.1 410.3,810.5 411.1,811 411.9,810.3 412.7,811 413.5,811 414.3,810.9 415.1,811 415.9,810.5 416.7,810.1 417.5,810.4 418.3,810.8 419.1,810.8 419.9,810.1 420.7,810.9 421.5,810.1 422.3,811 423.1,811 423.9,810.9 424.7,810.3 425.5,810.4 426.3,810.3 427.1,810.9 427.9,809.9 428.7,809.9 429.5,810.3 430.3,810.5 431.1,811 431.9,810.8 432.7,809.9 433.5,810.3 434.3,810.4 435.1,810.9 435.9,809.8 436.7,810.6 437.5,811 438.3,810.8 439.1,810.9 439.9,810.4 440.7,810.9 441.5,810.7 442.3,809.9 443.1,810.9 443.9,811 444.7,810.9 445.5,810.6 446.3,811 447.1,810.5 447.9,810.3 448.7,811 449.5,810.8 450.3,811 451.1,811 451.9,810.7 452.7,810.9 453.5,810.8 454.3,811 455.1,809.8 455.9,811 456.7,809.8 457.5,811 458.3,810.8 459.1,810.6 459.9,809.9 460.7,810.5 461.5,810.5 462.3,810.9 463.1,811 463.9,810.1 464.7,811 465.5,810.1 466.3,811 467.1,810.1 467.9,810.9 468.7,810.1 469.5,810.8 470.3,810.8 470.3,815.9 469.5,815.4 468.7,815.1 467.9,815 467.1,815.7 466.3,815.8 465.5,816.1 464.7,815.5 463.9,815.1 463.1,815.8 462.3,815 461.5,815.1 460.7,816.1 459.9,815.5 459.1,815 458.3,815 457.5,815.3 456.7,815.4 455.9,815.6 455.1,815.7 454.3,815 453.5,815 452.7,815.3 451.9,815 451.1,815.6 450.3,815.1 449.5,815.1 448.7,815.1 447.9,815.9 447.1,815.3 446.3,815.6 445.5,815.7 444.7,815.8 443.9,815.4 443.1,816 442.3,815.2 441.5,815.2 440.7,815.1 439.9,815.6 439.1,815 438.3,815.1 437.5,815.2 436.7,815.1 435.9,815.5 435.1,815.4 434.3,815.8 433.5,815 432.7,815 431.9,815.3 431.1,815.6 430.3,815.3 429.5,815.9 428.7,815.6 427.9,815.2 427.1,815 426.3,815.9 425.5,815.2 424.7,815 423.9,816.1 423.1,815.8 422.3,815.1 421.5,815.5 420.7,815 419.9,815.8 419.1,815 418.3,815.6 417.5,815.1 416.7,815.4 415.9,815 415.1,815.1 414.3,815.2 413.5,815 412.7,815 411.9,815.6 411.1,816 410.3,815 409.5,815.2 408.7,815.1 407.9,815.5 407.1,815.2 406.3,815.6 405.5,815.1 404.7,815.9 403.9,815.8 403.1,815.2 402.3,815.6 401.5,815.1 400.7,815 399.9,815.3 399.1,815.4 398.3,815.5 397.5,815.9 396.7,815 395.9,815.1 395.1,815.5 394.3,815.7 393.5,815.3 392.7,815 391.9,815 391.1,815 390.3,815.3 389.5,814.9 388.7,814.8 387.9,814.8 387.1,815.8 386.3,815.8 385.5,815.1 384.7,814.4 383.9,815 383.1,813.9 382.3,813.6"/>
<polygon fill="#000" points="169,900.3 169.6,899.6 170.2,898.7 170.8,898.3 171.4,899.8 172,900.3 172.6,899.5 173.2,899.2 173.8,899.9 174.4,900.4 175,899.9 175.6,899.1 176.2,898.6 176.8,898.8 177.4,900.2 178,899.7 178.6,900.1 179.2,899.3 179.8,898.3 180.4,900.2 181,899.6 181.6,900.3 182.2,900.1 182.8,898 183.4,898.5 184,898.1 184.6,898.7 185.2,899.2 185.8,900.2 186.4,898.1 187,899.3 187.6,900.1 188.2,900.4 188.8,899.2 189.4,900.4 190,900.1 190.6,900 191.2,899.6 191.8,900.4 192.4,898.4 193,900.4 193.6,900.2 194.2,899.7 194.8,899.8 195.4,900.3 196,900.4 196.6,899.5 197.2,900 197.8,899.9 198.4,899.6 199,899 199.6,897.9 200.2,900.4 200.8,900 201.4,898.1 202,898.9 202.6,898.9 203.2,900.3 203.8,900.4 204.4,900.3 205,899.1 205.6,898.4 206.2,898.5 206.8,898.3 207.4,900.3 208,900.1 208.6,899.2 209.2,900.4 209.8,899 210.4,899.1 211,899.5 211.6,899.6 212.2,900.4 212.8,899.3 213.4,900.3 214,898.6 214.6,900.4 215.2,900.4 215.8,900.3 216.4,900.2 217,900 217.6,898.5 218.2,899.2 218.8,898.1 219.4,900.1 220,899.8 220.6,898.8 221.2,900.3 221.8,899.2 222.4,899.8 223,898.6 223.6,898.5 224.2,900.4 224.8,900.3 225.4,899.5 226,900.3 226.6,899.8 227.2,900 227.8,900.4 228.4,900.1 229,899.9 229.6,900.4 230.2,899.3 230.8,900.2 231.4,901 232,900.6 232.6,899 233.2,900.8 233.8,899.9 234.4,901.1 235,902 235.6,901.1 236.2,900.6 236.8,902.2 237.4,900.8 238,900.9 238.6,900.9 239.2,901.5 239.8,901.1 240.4,900.6 241,901 241.6,900.7 242.2,900.9 242.8,900.3 243.4,900 244,900.7 244.6,900.5 245.2,899.3 245.8,898.4 246.4,898.4 247,900.5 247.6,899.7 248.2,900.2 248.8,900 249.4,900.5 250,898.4 250.6,900.3 251.2,900.4 251.8,899.2 252.4,900 253,899.5 253.6,899.4 254.2,899.1 254.8,899.5 255.4,898.8 256,900.1 256.6,900.3 257.2,898.5 257.8,898.3 258.4,900.1 259,899.3 259.6,899.2 260.2,900.4 260.8,900.4 261.4,900.1 262,899.5 262.6,899.9 263.2,898.2 263.8,897.9 264.4,899.5 265,900.1 265.6,900.3 266.2,898.9 266.8,898.7 267.4,899.7 268,899.6 268.6,899.5 269.2,899 269.8,899.1 270.4,898.9 271,898.9 271.6,899.9 272.2,899.7 272.8,900.4 273.4,899.8 274,898.9 274.6,897.9 275.2,899 275.8,900.4 276.4,900.4 277,899.6 277.6,898.2 278.2,900.3 278.8,899 279.4,900.3 280,898.9 280.6,898 281.2,899.4 281.8,898.8 282.4,900.1 283,900.4 283.6,900.4 284.2,900 284.8,900.4 285.4,900 286,898.1 286.6,900.3 287.2,900.2 287.8,900.3 288.4,898.9 289,900.2 289.6,900.3 290.2,900.3 290.8,898.5 291.4,899 292,900.2 292.6,899.8 293.2,900.3 293.8,899.5 294.4,899.6 295,900.3 295.6,900.1 296.2,898.5 296.8,898.5 297.4,900.2 298,900.4 298.6,900.4 299.2,900.3 299.8,900.4 300.4,899.2 301,900.1 301.6,899.1 302.2,898 302.8,900.3 303.4,899.2 304,899.8 304.6,899.9 305.2,900.4 305.8,900.1 306.4,900.4 307,900.4 307.6,900.3 308.2,900.3 308.8,899.8 309.4,900.1 310,898.3 310.6,900.3 311.2,898.4 311.8,900.2 312.4,900.2 313,900.4 313.6,900 314.2,900.1 314.8,899.2 315.4,899.7 316,899.2 316.6,898.5 317.2,900 317.8,900 318.4,900 319,900 319.6,897.9 320.2,899.5 320.8,900.2 321.4,900 322,900.3 322.6,898.6 323.2,898.3 323.8,899.2 324.4,899.3 325,900.1 325.6,900.4 326.2,898.6 326.8,899.5 327.4,900.3 328,899 328.6,899.1 329.2,899.7 329.8,899.2 330.4,899.4 331,900.3 331.6,900.2 332.2,899.8 332.8,899.7 333.4,900.3 334,898.2 334.6,899.7 335.2,898.7 335.8,900.3 336.4,899.9 337,898.7 337.6,898.5 338.2,900 338.8,898.7 339.4,900.3 340,900.4 340.6,898.8 341.2,899.9 341.8,900 342.4,899.2 343,899.8 343.6,898.9 344.2,899.2 344.8,899.7 345.4,900.1 346,900 346.6,900.3 347.2,900.4 347.8,899.1 348.4,900.1 349,898.6 349.6,899.4 350.2,900.3 350.8,898.8 351.4,900.1 352,899.9 352.6,899.1 353.2,900 353.8,898.7 354.4,900 355,898.2 355.6,898 356.2,900.1 356.8,900.1 357.4,899 358,899.7 358.6,898.4 359.2,900.4 359.8,899.9 360.4,898.6 361,899.8 361.6,899.9 362.2,899.7 362.8,899.3 363.4,900 364,899.2 364.6,898.9 365.2,900.4 365.8,900.4 366.4,900.4 367,899 367.6,900.4 368.2,899.1 368.8,900.4 369.4,900 370,897.9 370.6,898.5 371.2,900.1 371.8,900.4 372.4,900.2 373,900.2 373.6,898.5 374.2,899.7 374.8,900.4 375.4,898.5 376,898.6 376.6,900.3 377.2,899.7 377.8,899.9 378.4,899.5 379,898.8 379.6,898.3 380.2,900.4 380.8,899.7 381.4,898.6 382,899.1 382.6,898.9 383.2,897.3 383.8,898.3 384.4,898.1 385,898.3 385.6,897.1 386.2,896.1 386.8,897.4 387.4,896.4 388,897.1 388.6,897.8 389.2,898.9 389.8,897.5 390.4,897.2 391,899.5 391.6,898 392.2,899.2 392.8,899.6 393.4,898.6 394,899.9 394.6,899.9 395.2,899.8 395.8,899.2 396.4,899.3 397,898 397.6,898.4 398.2,898.6 398.8,899.8 399.4,899.9 400,900.1 400.6,900.2 401.2,898.9 401.8,899.1 402.4,898.6 403,898.2 403.6,898.1 404.2,900.1 404.8,898.9 405.4,898.2 406,899.8 406.6,899.5 407.2,900.3 407.8,900.2 408.4,898.6 409,898.2 409.6,899.5 410.2,900.1 410.8,899.3 411.4,900.1 412,900.2 412.6,900.3 413.2,900.2 413.8,899.6 414.4,899.6 415,899.5 415.6,900.4 416.2,900.4 416.8,900.4 417.4,900.1 418,899.3 418.6,900.3 419.2,900.1 419.8,898.5 420.4,900.3 421,898.5 421.6,899.8 422.2,900.4 422.8,900.3 423.4,899.8 424,900.3 424.6,900.3 425.2,900.3 425.8,899.8 426.4,900.4 427,899.8 427.6,899.6 428.2,900.3 428.8,900.3 429.4,900.4 430,899.7 430.6,898.4 431.2,899.6 431.8,899.5 432.4,899.1 433,900.2 433.6,898 434.2,899.4 434.8,898.7 435.4,898.7 436,898.3 436.6,898.2 437.2,900 437.8,900.2 438.4,899.2 439,900.1 439.6,900.3 440.2,900.1 440.8,897.9 441.4,899.8 442,898.9 442.6,899 443.2,900.3 443.8,898.6 444.4,900.4 445,900.1 445.6,898 446.2,899 446.8,898.7 447.4,898.3 448,898.7 448.6,899.5 449.2,898.7 449.8,898.5 450.4,898.1 451,898.1 451.6,898 452.2,900.2 452.8,900.3 453.4,899.9 454,899.8 454.6,899.2 455.2,900 455.8,898.8 456.4,898.2 457,900 457.6,899.3 458.2,900.1 458.8,898.6 459.4,900.4 460,900.4 460.6,898.7 461.2,899.5 461.8,900.1 462.4,900.1 463,899.4 463.6,900.4 464.2,899.2 464.8,899.3 465.4,900.4 466,900.4 466.6,900.3 467.2,898.1 467.8,900.3 468.4,899.5 469,900 469.6,898.1 470.2,897.9 470.2,908.1 469.6,908.6 469,908.6 468.4,910 467.8,910 467.2,908.3 466.6,908.2 466,909.7 465.4,909.2 464.8,909.6 464.2,908.5 463.6,908.2 463,908.2 462.4,909.8 461.8,908.1 461.2,908.5 460.6,908.4 460,908 459.4,908.6 458.8,909.6 458.2,908.9 457.6,909.8 457,908 456.4,909.7 455.8,909.2 455.2,909.5 454.6,909.3 454,910.1 453.4,908.1 452.8,908.1 452.2,909.8 451.6,909.6 451,908 450.4,908.7 449.8,908.2 449.2,909.6 448.6,908.5 448,909.6 447.4,909.4 446.8,910.2 446.2,908 445.6,909.1 445,908.1 444.4,909.3 443.8,909.6 443.2,909 442.6,909 442,910.1 441.4,908.6 440.8,909.6 440.2,910.4 439.6,908.1 439,908 438.4,908.1 437.8,909.4 437.2,908 436.6,908.4 436,908 435.4,908.5 434.8,908.3 434.2,909.2 433.6,908 433,908.9 432.4,908 431.8,909.5 431.2,908.1 430.6,908 430,908.2 429.4,908.4 428.8,908.2 428.2,909.4 427.6,909.2 427,909.6 426.4,910.2 425.8,910 425.2,909.9 424.6,908 424,908.4 423.4,908.3 422.8,908.7 422.2,908.5 421.6,908.7 421,908 420.4,908 419.8,908.6 419.2,909.8 418.6,910.2 418,908.1 417.4,908.3 416.8,908.8 416.2,909 415.6,908.7 415,908.5 414.4,909.6 413.8,908 413.2,908 412.6,909.6 412,909.4 411.4,908.5 410.8,908 410.2,910.2 409.6,910.3 409,908 408.4,908.1 407.8,910 407.2,908 406.6,908.7 406,909.8 405.4,908 404.8,908.6 404.2,908.2 403.6,908.6 403,910.4 402.4,907.9 401.8,907.9 401.2,908.3 400.6,908.4 400,908.6 399.4,908.9 398.8,907.8 398.2,910.2 397.6,907.8 397,908 396.4,907.7 395.8,907.9 395.2,907.7 394.6,909.3 394,908.7 393.4,907.5 392.8,909.4 392.2,908.4 391.6,909.5 391,907.1 390.4,907.1 389.8,906.9 389.2,906.8 388.6,907.7 388,906.9 387.4,906.9 386.8,906 386.2,905.6 385.6,905.7 385,906.4 384.4,908.1 383.8,908.6 383.2,907.5 382.6,908 382,908.5 381.4,907.3 380.8,908.4 380.2,908.2 379.6,908.8 379,908.1 378.4,908.3 377.8,908.6 377.2,908.4 376.6,908 376,908.2 375.4,909.6 374.8,908.2 374.2,908.4 373.6,908.8 373,908.2 372.4,908.2 371.8,910.5 371.2,908.7 370.6,908.1 370,909.7 369.4,908.9 368.8,909.2 368.2,908.6 367.6,909.2 367,908.8 366.4,908 365.8,909.7 365.2,908.1 364.6,909.5 364,908.8 363.4,908 362.8,909.4 362.2,909.7 361.6,908.6 361,910 360.4,908.4 359.8,908.5 359.2,908.9 358.6,909.4 358,908.6 357.4,908.4 356.8,908 356.2,909.1 355.6,909.3 355,908.1 354.4,908.8 353.8,908.3 353.2,909.1 352.6,908.2 352,908.3 351.4,908 350.8,909 350.2,908.5 349.6,909.9 349,908 348.4,908.1 347.8,908.2 347.2,908.1 346.6,908.8 346,908 345.4,908.3 344.8,908.1 344.2,908.3 343.6,908.1 343,909.6 342.4,908.5 341.8,910.5 341.2,908 340.6,908.7 340,908.3 339.4,908.2 338.8,908 338.2,909.7 337.6,908 337,910 336.4,909 335.8,909.7 335.2,908.1 334.6,908.7 334,908.7 333.4,908.1 332.8,908.6 332.2,909.3 331.6,910.1 331,908.9 330.4,908.7 329.8,908.3 329.2,908.9 328.6,908.4 328,908.4 327.4,909 326.8,910.5 326.2,908.7 325.6,909.4 325,910.4 324.4,908.8 323.8,908.3 323.2,908 322.6,909.5 322,908 321.4,908.1 320.8,908.9 320.2,910.2 319.6,908 319,908.1 318.4,908.4 317.8,910.4 317.2,908.3 316.6,909.3 316,910.4 315.4,908.8 314.8,909.1 314.2,908 313.6,908.8 313,908.7 312.4,908 311.8,908.1 311.2,909.3 310.6,910.4 310,908.3 309.4,908.6 308.8,908 308.2,909.4 307.6,909.2 307,908.5 306.4,908.6 305.8,909.9 305.2,910.5 304.6,908 304,908.1 303.4,908 302.8,909.6 302.2,908 301.6,910 301,910.1 300.4,908 299.8,908.1 299.2,909.4 298.6,910.1 298,910.4 297.4,908 296.8,910.5 296.2,908.1 295.6,909.5 295,910 294.4,910 293.8,908.5 293.2,909.2 292.6,910 292,908.3 291.4,909.7 290.8,908.2 290.2,909.9 289.6,908.8 289,910.5 288.4,909 287.8,908.1 287.2,908.5 286.6,908.2 286,909 285.4,910.1 284.8,908.8 284.2,909.9 283.6,909 283,909.4 282.4,910.1 281.8,908.5 281.2,908.3 280.6,908.6 280,908.1 279.4,908 278.8,910.1 278.2,908.1 277.6,908.3 277,908.1 276.4,908.6 275.8,908 275.2,908 274.6,908.1 274,908.3 273.4,909.1 272.8,908 272.2,910.2 271.6,908.2 271,910.4 270.4,908.2 269.8,909.5 269.2,908.2 268.6,908.3 268,909.1 267.4,908.9 266.8,908.5 266.2,908 265.6,908.1 265,908 264.4,909.3 263.8,908 263.2,908.8 262.6,908 262,908.2 261.4,908.6 260.8,909 260.2,908.4 259.6,908.3 259,908.4 258.4,909.4 257.8,908.1 257.2,909 256.6,908.7 256,908.1 255.4,910 254.8,908 254.2,910.4 253.6,908.1 253,909.9 252.4,908.1 251.8,908.2 251.2,908.2 250.6,908.1 250,908.3 249.4,908.7 248.8,910 248.2,909.6 247.6,910.6 247,908.2 246.4,909 245.8,908.5 245.2,909 244.6,908.5 244,908.3 243.4,908.6 242.8,909 242.2,910.4 241.6,908.7 241,908.9 240.4,909.2 239.8,911.4 239.2,909.4 238.6,909.7 238,909.8 237.4,910.4 236.8,911.5 236.2,911.5 235.6,912.2 235,910.1 234.4,910.7 233.8,911 233.2,910.7 232.6,909.1 232,911.2 231.4,909.6 230.8,908.6 230.2,908.2 229.6,908.1 229,910.5 228.4,908 227.8,908.8 227.2,908.3 226.6,908.8 226,908.3 225.4,908 224.8,910 224.2,908.3 223.6,908.9 223,908.4 222.4,908.1 221.8,908.4 221.2,909.7 220.6,908 220,909.9 219.4,908.1 218.8,908 218.2,909.6 217.6,908.7 217,908.1 216.4,909.2 215.8,908.8 215.2,909.6 214.6,908 214,908.9 213.4,908.5 212.8,908.2 212.2,910.2 211.6,909.6 211,908 210.4,908 209.8,910.3 209.2,908.4 208.6,909.7 208,909.5 207.4,909.4 206.8,909.9 206.2,908.8 205.6,909 205,908.5 204.4,908.2 203.8,908.9 203.2,908.3 202.6,908 202,908 201.4,908.8 200.8,908.1 200.2,909.7 199.6,909.3 199,908 198.4,909.3 197.8,909.9 197.2,908 196.6,908 196,908.7 195.4,908.8 194.8,908.8 194.2,908.2 193.6,908 193,909.9 192.4,908.8 191.8,908.1 191.2,908.4 190.6,908.7 190,908.8 189.4,909.1 188.8,908.5 188.2,908.1 187.6,910 187,908.2 186.4,908.6 185.8,908.8 185.2,908.9 184.6,908 184,909 183.4,910.4 182.8,910.1 182.2,908.5 181.6,908 181,908.3 180.4,908.5 179.8,908.1 179.2,909.7 178.6,908.5 178,908.4 177.4,909.1 176.8,908.5 176.2,909.8 175.6,908 175,908.1 174.4,908 173.8,910.4 173.2,908.1 172.6,908 172,908.2 171.4,908.6 170.8,910.3 170.2,909.3 169.6,909 169,908"/>
<polyline fill="none" stroke="#000" stroke-width="2.0" stroke-linejoin="round" points="229.5,904.2 231.3,931.5 232.2,922.5 233,916.5 233.9,912.4 234.8,909.7 235.7,907.9 236.5,906.7 237.4,905.9 238.3,905.3 239.1,904.9 240,904.7"/>
<polyline fill="none" stroke="#000" stroke-width="2.2" stroke-linejoin="round" points="379,904.2 381.1,879.3 381.9,887.5 382.7,893 383.5,896.7 384.3,899.2 385.1,900.8 385.8,901.9 386.6,902.7 387.4,903.2 388.2,903.5 389,903.7"/>
<path d="M226.6,729.5 H234.4 V736.1 L230.5,738.1 L226.6,736.1 Z" fill="#000"/>
<rect x="227.5" y="728.5" width="6" height="0.8" fill="#000"/>
<path d="M227.6,730.1h5.8v1.5h-2.05v4.6h-1.7v-4.6h-2.05z" fill="#fff"/>
<path d="M156,809.4 H165 L167.5,814 L165,818.6 H156 Z" fill="#000"/>
<text x="161" y="817.8" font-family='"Liberation Sans", sans-serif' font-size="10" font-weight="bold" text-anchor="middle" fill="#fff" >2</text>
<path d="M156,899.9 H165 L167.5,904.5 L165,909.1 H156 Z" fill="#fff" stroke="#222" stroke-width="0.9"/>
<text x="161" y="908.3" font-family='"Liberation Sans", sans-serif' font-size="10" font-weight="normal" text-anchor="middle" fill="#000" >1</text>
<path d="M463.5,789.3 L467.3,785.8 V792.8 Z M467,788.7 h3.5 v1.2 h-3.5 z" fill="#000"/>
<text transform="translate(116.9,814.6) scale(1,1.03)" font-family='"Liberation Serif", serif' font-size="16.2" fill="#000">I</text>
<text transform="translate(120.9,818.9) scale(1,1.08)" font-family='"Liberation Serif", serif' font-size="12.6" fill="#000">OUT</text>
<text transform="translate(115.1,906.8) scale(1,1.03)" font-family='"Liberation Serif", serif' font-size="16.2" fill="#000">V</text>
<text transform="translate(125.6,911) scale(1,1.08)" font-family='"Liberation Serif", serif' font-size="12.6" fill="#000">OUT</text>
<text x="167.3" y="977.2" font-family='"Liberation Sans", sans-serif' font-size="9.2" font-weight="bold" text-anchor="start" fill="#000" letter-spacing="0.1">Ch1</text>
<rect x="186.5" y="969.3" width="58.5" height="9.3" fill="none" stroke="#222" stroke-width="0.9"/>
<text x="244.3" y="977.2" font-family='"Liberation Sans", sans-serif' font-size="9.2" font-weight="bold" text-anchor="end" fill="#000" letter-spacing="0.45">20.0mV~N</text>
<rect x="246" y="968.8" width="19" height="9.8" fill="#000"/>
<text x="246.6" y="977.2" font-family='"Liberation Sans", sans-serif' font-size="9.2" font-weight="bold" text-anchor="start" fill="#fff" letter-spacing="0.1">Ch2</text>
<rect x="266" y="969.3" width="59" height="9.3" fill="none" stroke="#222" stroke-width="0.9"/>
<text x="324.3" y="977.2" font-family='"Liberation Sans", sans-serif' font-size="9.2" font-weight="bold" text-anchor="end" fill="#000" letter-spacing="0.45">200mAΩN</text>
<text x="326.3" y="977.2" font-family='"Liberation Sans", sans-serif' font-size="9.2" font-weight="bold" text-anchor="start" fill="#000" letter-spacing="0.1">M</text>
<rect x="335" y="969.3" width="35.5" height="9.3" fill="none" stroke="#222" stroke-width="0.9"/>
<text x="369.8" y="977.2" font-family='"Liberation Sans", sans-serif' font-size="9.2" font-weight="bold" text-anchor="end" fill="#000" letter-spacing="0.45">100µs</text>
<text x="381.3" y="977.2" font-family='"Liberation Sans", sans-serif' font-size="9.2" font-weight="bold" text-anchor="start" fill="#000" letter-spacing="0.1">A</text>
<rect x="388" y="969.3" width="83.5" height="9.3" fill="none" stroke="#111" stroke-width="1.1"/>
<text x="394.5" y="977.2" font-family='"Liberation Sans", sans-serif' font-size="9.2" font-weight="bold" text-anchor="start" fill="#000" letter-spacing="0.45">Ch2</text>
<path d="M420,976.6 h1.8 l2.2,-6 h2" fill="none" stroke="#000" stroke-width="1.5"/>
<text x="470.8" y="977.2" font-family='"Liberation Sans", sans-serif' font-size="9.2" font-weight="bold" text-anchor="end" fill="#000" letter-spacing="0.45">168mA</text>
<path fill="#666" d="M571,728h1v1h-1zM571,734h1v1h-1zM571,740h1v1h-1zM571,746h1v1h-1zM571,752h1v1h-1zM571,758h1v1h-1zM571,764h1v1h-1zM571,770h1v1h-1zM571,776h1v1h-1zM571,781h1v1h-1zM571,787h1v1h-1zM571,793h1v1h-1zM571,799h1v1h-1zM571,805h1v1h-1zM571,811h1v1h-1zM571,817h1v1h-1zM571,823h1v1h-1zM571,829h1v1h-1zM571,835h1v1h-1zM571,841h1v1h-1zM571,847h1v1h-1zM571,853h1v1h-1zM571,859h1v1h-1zM571,865h1v1h-1zM571,871h1v1h-1zM571,877h1v1h-1zM571,883h1v1h-1zM571,889h1v1h-1zM571,895h1v1h-1zM571,901h1v1h-1zM571,907h1v1h-1zM571,913h1v1h-1zM571,919h1v1h-1zM571,925h1v1h-1zM571,931h1v1h-1zM571,937h1v1h-1zM571,943h1v1h-1zM571,949h1v1h-1zM571,955h1v1h-1zM601,728h1v1h-1zM601,734h1v1h-1zM601,740h1v1h-1zM601,746h1v1h-1zM601,752h1v1h-1zM601,758h1v1h-1zM601,764h1v1h-1zM601,770h1v1h-1zM601,776h1v1h-1zM601,781h1v1h-1zM601,787h1v1h-1zM601,793h1v1h-1zM601,799h1v1h-1zM601,805h1v1h-1zM601,811h1v1h-1zM601,817h1v1h-1zM601,823h1v1h-1zM601,829h1v1h-1zM601,835h1v1h-1zM601,841h1v1h-1zM601,847h1v1h-1zM601,853h1v1h-1zM601,859h1v1h-1zM601,865h1v1h-1zM601,871h1v1h-1zM601,877h1v1h-1zM601,883h1v1h-1zM601,889h1v1h-1zM601,895h1v1h-1zM601,901h1v1h-1zM601,907h1v1h-1zM601,913h1v1h-1zM601,919h1v1h-1zM601,925h1v1h-1zM601,931h1v1h-1zM601,937h1v1h-1zM601,943h1v1h-1zM601,949h1v1h-1zM601,955h1v1h-1zM631,728h1v1h-1zM631,734h1v1h-1zM631,740h1v1h-1zM631,746h1v1h-1zM631,752h1v1h-1zM631,758h1v1h-1zM631,764h1v1h-1zM631,770h1v1h-1zM631,776h1v1h-1zM631,781h1v1h-1zM631,787h1v1h-1zM631,793h1v1h-1zM631,799h1v1h-1zM631,805h1v1h-1zM631,811h1v1h-1zM631,817h1v1h-1zM631,823h1v1h-1zM631,829h1v1h-1zM631,835h1v1h-1zM631,841h1v1h-1zM631,847h1v1h-1zM631,853h1v1h-1zM631,859h1v1h-1zM631,865h1v1h-1zM631,871h1v1h-1zM631,877h1v1h-1zM631,883h1v1h-1zM631,889h1v1h-1zM631,895h1v1h-1zM631,901h1v1h-1zM631,907h1v1h-1zM631,913h1v1h-1zM631,919h1v1h-1zM631,925h1v1h-1zM631,931h1v1h-1zM631,937h1v1h-1zM631,943h1v1h-1zM631,949h1v1h-1zM631,955h1v1h-1zM661,728h1v1h-1zM661,734h1v1h-1zM661,740h1v1h-1zM661,746h1v1h-1zM661,752h1v1h-1zM661,758h1v1h-1zM661,764h1v1h-1zM661,770h1v1h-1zM661,776h1v1h-1zM661,781h1v1h-1zM661,787h1v1h-1zM661,793h1v1h-1zM661,799h1v1h-1zM661,805h1v1h-1zM661,811h1v1h-1zM661,817h1v1h-1zM661,823h1v1h-1zM661,829h1v1h-1zM661,835h1v1h-1zM661,841h1v1h-1zM661,847h1v1h-1zM661,853h1v1h-1zM661,859h1v1h-1zM661,865h1v1h-1zM661,871h1v1h-1zM661,877h1v1h-1zM661,883h1v1h-1zM661,889h1v1h-1zM661,895h1v1h-1zM661,901h1v1h-1zM661,907h1v1h-1zM661,913h1v1h-1zM661,919h1v1h-1zM661,925h1v1h-1zM661,931h1v1h-1zM661,937h1v1h-1zM661,943h1v1h-1zM661,949h1v1h-1zM661,955h1v1h-1zM722,728h1v1h-1zM722,734h1v1h-1zM722,740h1v1h-1zM722,746h1v1h-1zM722,752h1v1h-1zM722,758h1v1h-1zM722,764h1v1h-1zM722,770h1v1h-1zM722,776h1v1h-1zM722,781h1v1h-1zM722,787h1v1h-1zM722,793h1v1h-1zM722,799h1v1h-1zM722,805h1v1h-1zM722,811h1v1h-1zM722,817h1v1h-1zM722,823h1v1h-1zM722,829h1v1h-1zM722,835h1v1h-1zM722,841h1v1h-1zM722,847h1v1h-1zM722,853h1v1h-1zM722,859h1v1h-1zM722,865h1v1h-1zM722,871h1v1h-1zM722,877h1v1h-1zM722,883h1v1h-1zM722,889h1v1h-1zM722,895h1v1h-1zM722,901h1v1h-1zM722,907h1v1h-1zM722,913h1v1h-1zM722,919h1v1h-1zM722,925h1v1h-1zM722,931h1v1h-1zM722,937h1v1h-1zM722,943h1v1h-1zM722,949h1v1h-1zM722,955h1v1h-1zM752,728h1v1h-1zM752,734h1v1h-1zM752,740h1v1h-1zM752,746h1v1h-1zM752,752h1v1h-1zM752,758h1v1h-1zM752,764h1v1h-1zM752,770h1v1h-1zM752,776h1v1h-1zM752,781h1v1h-1zM752,787h1v1h-1zM752,793h1v1h-1zM752,799h1v1h-1zM752,805h1v1h-1zM752,811h1v1h-1zM752,817h1v1h-1zM752,823h1v1h-1zM752,829h1v1h-1zM752,835h1v1h-1zM752,841h1v1h-1zM752,847h1v1h-1zM752,853h1v1h-1zM752,859h1v1h-1zM752,865h1v1h-1zM752,871h1v1h-1zM752,877h1v1h-1zM752,883h1v1h-1zM752,889h1v1h-1zM752,895h1v1h-1zM752,901h1v1h-1zM752,907h1v1h-1zM752,913h1v1h-1zM752,919h1v1h-1zM752,925h1v1h-1zM752,931h1v1h-1zM752,937h1v1h-1zM752,943h1v1h-1zM752,949h1v1h-1zM752,955h1v1h-1zM782,728h1v1h-1zM782,734h1v1h-1zM782,740h1v1h-1zM782,746h1v1h-1zM782,752h1v1h-1zM782,758h1v1h-1zM782,764h1v1h-1zM782,770h1v1h-1zM782,776h1v1h-1zM782,781h1v1h-1zM782,787h1v1h-1zM782,793h1v1h-1zM782,799h1v1h-1zM782,805h1v1h-1zM782,811h1v1h-1zM782,817h1v1h-1zM782,823h1v1h-1zM782,829h1v1h-1zM782,835h1v1h-1zM782,841h1v1h-1zM782,847h1v1h-1zM782,853h1v1h-1zM782,859h1v1h-1zM782,865h1v1h-1zM782,871h1v1h-1zM782,877h1v1h-1zM782,883h1v1h-1zM782,889h1v1h-1zM782,895h1v1h-1zM782,901h1v1h-1zM782,907h1v1h-1zM782,913h1v1h-1zM782,919h1v1h-1zM782,925h1v1h-1zM782,931h1v1h-1zM782,937h1v1h-1zM782,943h1v1h-1zM782,949h1v1h-1zM782,955h1v1h-1zM812,728h1v1h-1zM812,734h1v1h-1zM812,740h1v1h-1zM812,746h1v1h-1zM812,752h1v1h-1zM812,758h1v1h-1zM812,764h1v1h-1zM812,770h1v1h-1zM812,776h1v1h-1zM812,781h1v1h-1zM812,787h1v1h-1zM812,793h1v1h-1zM812,799h1v1h-1zM812,805h1v1h-1zM812,811h1v1h-1zM812,817h1v1h-1zM812,823h1v1h-1zM812,829h1v1h-1zM812,835h1v1h-1zM812,841h1v1h-1zM812,847h1v1h-1zM812,853h1v1h-1zM812,859h1v1h-1zM812,865h1v1h-1zM812,871h1v1h-1zM812,877h1v1h-1zM812,883h1v1h-1zM812,889h1v1h-1zM812,895h1v1h-1zM812,901h1v1h-1zM812,907h1v1h-1zM812,913h1v1h-1zM812,919h1v1h-1zM812,925h1v1h-1zM812,931h1v1h-1zM812,937h1v1h-1zM812,943h1v1h-1zM812,949h1v1h-1zM812,955h1v1h-1zM547,752h1v1h-1zM553,752h1v1h-1zM559,752h1v1h-1zM565,752h1v1h-1zM571,752h1v1h-1zM577,752h1v1h-1zM583,752h1v1h-1zM589,752h1v1h-1zM595,752h1v1h-1zM601,752h1v1h-1zM607,752h1v1h-1zM613,752h1v1h-1zM619,752h1v1h-1zM625,752h1v1h-1zM631,752h1v1h-1zM637,752h1v1h-1zM643,752h1v1h-1zM649,752h1v1h-1zM655,752h1v1h-1zM661,752h1v1h-1zM667,752h1v1h-1zM673,752h1v1h-1zM679,752h1v1h-1zM686,752h1v1h-1zM692,752h1v1h-1zM698,752h1v1h-1zM704,752h1v1h-1zM710,752h1v1h-1zM716,752h1v1h-1zM722,752h1v1h-1zM728,752h1v1h-1zM734,752h1v1h-1zM740,752h1v1h-1zM746,752h1v1h-1zM752,752h1v1h-1zM758,752h1v1h-1zM764,752h1v1h-1zM770,752h1v1h-1zM776,752h1v1h-1zM782,752h1v1h-1zM788,752h1v1h-1zM794,752h1v1h-1zM800,752h1v1h-1zM806,752h1v1h-1zM812,752h1v1h-1zM818,752h1v1h-1zM824,752h1v1h-1zM830,752h1v1h-1zM836,752h1v1h-1zM547,781h1v1h-1zM553,781h1v1h-1zM559,781h1v1h-1zM565,781h1v1h-1zM571,781h1v1h-1zM577,781h1v1h-1zM583,781h1v1h-1zM589,781h1v1h-1zM595,781h1v1h-1zM601,781h1v1h-1zM607,781h1v1h-1zM613,781h1v1h-1zM619,781h1v1h-1zM625,781h1v1h-1zM631,781h1v1h-1zM637,781h1v1h-1zM643,781h1v1h-1zM649,781h1v1h-1zM655,781h1v1h-1zM661,781h1v1h-1zM667,781h1v1h-1zM673,781h1v1h-1zM679,781h1v1h-1zM686,781h1v1h-1zM692,781h1v1h-1zM698,781h1v1h-1zM704,781h1v1h-1zM710,781h1v1h-1zM716,781h1v1h-1zM722,781h1v1h-1zM728,781h1v1h-1zM734,781h1v1h-1zM740,781h1v1h-1zM746,781h1v1h-1zM752,781h1v1h-1zM758,781h1v1h-1zM764,781h1v1h-1zM770,781h1v1h-1zM776,781h1v1h-1zM782,781h1v1h-1zM788,781h1v1h-1zM794,781h1v1h-1zM800,781h1v1h-1zM806,781h1v1h-1zM812,781h1v1h-1zM818,781h1v1h-1zM824,781h1v1h-1zM830,781h1v1h-1zM836,781h1v1h-1zM547,811h1v1h-1zM553,811h1v1h-1zM559,811h1v1h-1zM565,811h1v1h-1zM571,811h1v1h-1zM577,811h1v1h-1zM583,811h1v1h-1zM589,811h1v1h-1zM595,811h1v1h-1zM601,811h1v1h-1zM607,811h1v1h-1zM613,811h1v1h-1zM619,811h1v1h-1zM625,811h1v1h-1zM631,811h1v1h-1zM637,811h1v1h-1zM643,811h1v1h-1zM649,811h1v1h-1zM655,811h1v1h-1zM661,811h1v1h-1zM667,811h1v1h-1zM673,811h1v1h-1zM679,811h1v1h-1zM686,811h1v1h-1zM692,811h1v1h-1zM698,811h1v1h-1zM704,811h1v1h-1zM710,811h1v1h-1zM716,811h1v1h-1zM722,811h1v1h-1zM728,811h1v1h-1zM734,811h1v1h-1zM740,811h1v1h-1zM746,811h1v1h-1zM752,811h1v1h-1zM758,811h1v1h-1zM764,811h1v1h-1zM770,811h1v1h-1zM776,811h1v1h-1zM782,811h1v1h-1zM788,811h1v1h-1zM794,811h1v1h-1zM800,811h1v1h-1zM806,811h1v1h-1zM812,811h1v1h-1zM818,811h1v1h-1zM824,811h1v1h-1zM830,811h1v1h-1zM836,811h1v1h-1zM547,871h1v1h-1zM553,871h1v1h-1zM559,871h1v1h-1zM565,871h1v1h-1zM571,871h1v1h-1zM577,871h1v1h-1zM583,871h1v1h-1zM589,871h1v1h-1zM595,871h1v1h-1zM601,871h1v1h-1zM607,871h1v1h-1zM613,871h1v1h-1zM619,871h1v1h-1zM625,871h1v1h-1zM631,871h1v1h-1zM637,871h1v1h-1zM643,871h1v1h-1zM649,871h1v1h-1zM655,871h1v1h-1zM661,871h1v1h-1zM667,871h1v1h-1zM673,871h1v1h-1zM679,871h1v1h-1zM686,871h1v1h-1zM692,871h1v1h-1zM698,871h1v1h-1zM704,871h1v1h-1zM710,871h1v1h-1zM716,871h1v1h-1zM722,871h1v1h-1zM728,871h1v1h-1zM734,871h1v1h-1zM740,871h1v1h-1zM746,871h1v1h-1zM752,871h1v1h-1zM758,871h1v1h-1zM764,871h1v1h-1zM770,871h1v1h-1zM776,871h1v1h-1zM782,871h1v1h-1zM788,871h1v1h-1zM794,871h1v1h-1zM800,871h1v1h-1zM806,871h1v1h-1zM812,871h1v1h-1zM818,871h1v1h-1zM824,871h1v1h-1zM830,871h1v1h-1zM836,871h1v1h-1zM547,901h1v1h-1zM553,901h1v1h-1zM559,901h1v1h-1zM565,901h1v1h-1zM571,901h1v1h-1zM577,901h1v1h-1zM583,901h1v1h-1zM589,901h1v1h-1zM595,901h1v1h-1zM601,901h1v1h-1zM607,901h1v1h-1zM613,901h1v1h-1zM619,901h1v1h-1zM625,901h1v1h-1zM631,901h1v1h-1zM637,901h1v1h-1zM643,901h1v1h-1zM649,901h1v1h-1zM655,901h1v1h-1zM661,901h1v1h-1zM667,901h1v1h-1zM673,901h1v1h-1zM679,901h1v1h-1zM686,901h1v1h-1zM692,901h1v1h-1zM698,901h1v1h-1zM704,901h1v1h-1zM710,901h1v1h-1zM716,901h1v1h-1zM722,901h1v1h-1zM728,901h1v1h-1zM734,901h1v1h-1zM740,901h1v1h-1zM746,901h1v1h-1zM752,901h1v1h-1zM758,901h1v1h-1zM764,901h1v1h-1zM770,901h1v1h-1zM776,901h1v1h-1zM782,901h1v1h-1zM788,901h1v1h-1zM794,901h1v1h-1zM800,901h1v1h-1zM806,901h1v1h-1zM812,901h1v1h-1zM818,901h1v1h-1zM824,901h1v1h-1zM830,901h1v1h-1zM836,901h1v1h-1zM547,931h1v1h-1zM553,931h1v1h-1zM559,931h1v1h-1zM565,931h1v1h-1zM571,931h1v1h-1zM577,931h1v1h-1zM583,931h1v1h-1zM589,931h1v1h-1zM595,931h1v1h-1zM601,931h1v1h-1zM607,931h1v1h-1zM613,931h1v1h-1zM619,931h1v1h-1zM625,931h1v1h-1zM631,931h1v1h-1zM637,931h1v1h-1zM643,931h1v1h-1zM649,931h1v1h-1zM655,931h1v1h-1zM661,931h1v1h-1zM667,931h1v1h-1zM673,931h1v1h-1zM679,931h1v1h-1zM686,931h1v1h-1zM692,931h1v1h-1zM698,931h1v1h-1zM704,931h1v1h-1zM710,931h1v1h-1zM716,931h1v1h-1zM722,931h1v1h-1zM728,931h1v1h-1zM734,931h1v1h-1zM740,931h1v1h-1zM746,931h1v1h-1zM752,931h1v1h-1zM758,931h1v1h-1zM764,931h1v1h-1zM770,931h1v1h-1zM776,931h1v1h-1zM782,931h1v1h-1zM788,931h1v1h-1zM794,931h1v1h-1zM800,931h1v1h-1zM806,931h1v1h-1zM812,931h1v1h-1zM818,931h1v1h-1zM824,931h1v1h-1zM830,931h1v1h-1zM836,931h1v1h-1z"/>
<path fill="#aaa" d="M543,841h1v1h-1zM545,841h1v1h-1zM547,841h1v1h-1zM549,841h1v1h-1zM551,841h1v1h-1zM553,841h1v1h-1zM555,841h1v1h-1zM557,841h1v1h-1zM559,841h1v1h-1zM561,841h1v1h-1zM563,841h1v1h-1zM565,841h1v1h-1zM567,841h1v1h-1zM569,841h1v1h-1zM571,841h1v1h-1zM573,841h1v1h-1zM575,841h1v1h-1zM577,841h1v1h-1zM579,841h1v1h-1zM581,841h1v1h-1zM583,841h1v1h-1zM585,841h1v1h-1zM587,841h1v1h-1zM589,841h1v1h-1zM591,841h1v1h-1zM593,841h1v1h-1zM595,841h1v1h-1zM597,841h1v1h-1zM599,841h1v1h-1zM601,841h1v1h-1zM603,841h1v1h-1zM605,841h1v1h-1zM607,841h1v1h-1zM609,841h1v1h-1zM611,841h1v1h-1zM613,841h1v1h-1zM615,841h1v1h-1zM617,841h1v1h-1zM619,841h1v1h-1zM621,841h1v1h-1zM623,841h1v1h-1zM625,841h1v1h-1zM627,841h1v1h-1zM629,841h1v1h-1zM631,841h1v1h-1zM633,841h1v1h-1zM635,841h1v1h-1zM637,841h1v1h-1zM639,841h1v1h-1zM641,841h1v1h-1zM643,841h1v1h-1zM645,841h1v1h-1zM647,841h1v1h-1zM649,841h1v1h-1zM651,841h1v1h-1zM653,841h1v1h-1zM655,841h1v1h-1zM657,841h1v1h-1zM659,841h1v1h-1zM661,841h1v1h-1zM663,841h1v1h-1zM665,841h1v1h-1zM667,841h1v1h-1zM669,841h1v1h-1zM671,841h1v1h-1zM673,841h1v1h-1zM675,841h1v1h-1zM677,841h1v1h-1zM679,841h1v1h-1zM681,841h1v1h-1zM683,841h1v1h-1zM685,841h1v1h-1zM687,841h1v1h-1zM689,841h1v1h-1zM691,841h1v1h-1zM693,841h1v1h-1zM695,841h1v1h-1zM697,841h1v1h-1zM699,841h1v1h-1zM701,841h1v1h-1zM703,841h1v1h-1zM705,841h1v1h-1zM707,841h1v1h-1zM709,841h1v1h-1zM711,841h1v1h-1zM713,841h1v1h-1zM715,841h1v1h-1zM717,841h1v1h-1zM719,841h1v1h-1zM721,841h1v1h-1zM723,841h1v1h-1zM725,841h1v1h-1zM727,841h1v1h-1zM729,841h1v1h-1zM731,841h1v1h-1zM733,841h1v1h-1zM735,841h1v1h-1zM737,841h1v1h-1zM739,841h1v1h-1zM741,841h1v1h-1zM743,841h1v1h-1zM745,841h1v1h-1zM747,841h1v1h-1zM749,841h1v1h-1zM751,841h1v1h-1zM753,841h1v1h-1zM755,841h1v1h-1zM757,841h1v1h-1zM759,841h1v1h-1zM761,841h1v1h-1zM763,841h1v1h-1zM765,841h1v1h-1zM767,841h1v1h-1zM769,841h1v1h-1zM771,841h1v1h-1zM773,841h1v1h-1zM775,841h1v1h-1zM777,841h1v1h-1zM779,841h1v1h-1zM781,841h1v1h-1zM783,841h1v1h-1zM785,841h1v1h-1zM787,841h1v1h-1zM789,841h1v1h-1zM791,841h1v1h-1zM793,841h1v1h-1zM795,841h1v1h-1zM797,841h1v1h-1zM799,841h1v1h-1zM801,841h1v1h-1zM803,841h1v1h-1zM805,841h1v1h-1zM807,841h1v1h-1zM809,841h1v1h-1zM811,841h1v1h-1zM813,841h1v1h-1zM815,841h1v1h-1zM817,841h1v1h-1zM819,841h1v1h-1zM821,841h1v1h-1zM823,841h1v1h-1zM825,841h1v1h-1zM827,841h1v1h-1zM829,841h1v1h-1zM831,841h1v1h-1zM833,841h1v1h-1zM835,841h1v1h-1zM837,841h1v1h-1zM839,841h1v1h-1zM841,841h1v1h-1zM692,722h1v1h-1zM692,724h1v1h-1zM692,726h1v1h-1zM692,728h1v1h-1zM692,730h1v1h-1zM692,732h1v1h-1zM692,734h1v1h-1zM692,736h1v1h-1zM692,738h1v1h-1zM692,740h1v1h-1zM692,742h1v1h-1zM692,744h1v1h-1zM692,746h1v1h-1zM692,748h1v1h-1zM692,750h1v1h-1zM692,752h1v1h-1zM692,754h1v1h-1zM692,756h1v1h-1zM692,758h1v1h-1zM692,760h1v1h-1zM692,762h1v1h-1zM692,764h1v1h-1zM692,766h1v1h-1zM692,768h1v1h-1zM692,770h1v1h-1zM692,772h1v1h-1zM692,774h1v1h-1zM692,776h1v1h-1zM692,778h1v1h-1zM692,780h1v1h-1zM692,782h1v1h-1zM692,784h1v1h-1zM692,786h1v1h-1zM692,788h1v1h-1zM692,790h1v1h-1zM692,792h1v1h-1zM692,794h1v1h-1zM692,796h1v1h-1zM692,798h1v1h-1zM692,800h1v1h-1zM692,802h1v1h-1zM692,804h1v1h-1zM692,806h1v1h-1zM692,808h1v1h-1zM692,810h1v1h-1zM692,812h1v1h-1zM692,814h1v1h-1zM692,816h1v1h-1zM692,818h1v1h-1zM692,820h1v1h-1zM692,822h1v1h-1zM692,824h1v1h-1zM692,826h1v1h-1zM692,828h1v1h-1zM692,830h1v1h-1zM692,832h1v1h-1zM692,834h1v1h-1zM692,836h1v1h-1zM692,838h1v1h-1zM692,840h1v1h-1zM692,842h1v1h-1zM692,844h1v1h-1zM692,846h1v1h-1zM692,848h1v1h-1zM692,850h1v1h-1zM692,852h1v1h-1zM692,854h1v1h-1zM692,856h1v1h-1zM692,858h1v1h-1zM692,860h1v1h-1zM692,862h1v1h-1zM692,864h1v1h-1zM692,866h1v1h-1zM692,868h1v1h-1zM692,870h1v1h-1zM692,872h1v1h-1zM692,874h1v1h-1zM692,876h1v1h-1zM692,878h1v1h-1zM692,880h1v1h-1zM692,882h1v1h-1zM692,884h1v1h-1zM692,886h1v1h-1zM692,888h1v1h-1zM692,890h1v1h-1zM692,892h1v1h-1zM692,894h1v1h-1zM692,896h1v1h-1zM692,898h1v1h-1zM692,900h1v1h-1zM692,902h1v1h-1zM692,904h1v1h-1zM692,906h1v1h-1zM692,908h1v1h-1zM692,910h1v1h-1zM692,912h1v1h-1zM692,914h1v1h-1zM692,916h1v1h-1zM692,918h1v1h-1zM692,920h1v1h-1zM692,922h1v1h-1zM692,924h1v1h-1zM692,926h1v1h-1zM692,928h1v1h-1zM692,930h1v1h-1zM692,932h1v1h-1zM692,934h1v1h-1zM692,936h1v1h-1zM692,938h1v1h-1zM692,940h1v1h-1zM692,942h1v1h-1zM692,944h1v1h-1zM692,946h1v1h-1zM692,948h1v1h-1zM692,950h1v1h-1zM692,952h1v1h-1zM692,954h1v1h-1zM692,956h1v1h-1zM692,958h1v1h-1zM692,960h1v1h-1zM692,962h1v1h-1z"/>
<path fill="#555" d="M547,840h1v3h-1zM547,961h1v1h-1zM547,721h1v1h-1zM553,840h1v3h-1zM553,961h1v1h-1zM553,721h1v1h-1zM559,840h1v3h-1zM559,961h1v1h-1zM559,721h1v1h-1zM565,840h1v3h-1zM565,961h1v1h-1zM565,721h1v1h-1zM571,840h1v3h-1zM571,961h1v1h-1zM571,721h1v1h-1zM577,840h1v3h-1zM577,961h1v1h-1zM577,721h1v1h-1zM583,840h1v3h-1zM583,961h1v1h-1zM583,721h1v1h-1zM589,840h1v3h-1zM589,961h1v1h-1zM589,721h1v1h-1zM595,840h1v3h-1zM595,961h1v1h-1zM595,721h1v1h-1zM601,840h1v3h-1zM601,961h1v1h-1zM601,721h1v1h-1zM607,840h1v3h-1zM607,961h1v1h-1zM607,721h1v1h-1zM613,840h1v3h-1zM613,961h1v1h-1zM613,721h1v1h-1zM619,840h1v3h-1zM619,961h1v1h-1zM619,721h1v1h-1zM625,840h1v3h-1zM625,961h1v1h-1zM625,721h1v1h-1zM631,840h1v3h-1zM631,961h1v1h-1zM631,721h1v1h-1zM637,840h1v3h-1zM637,961h1v1h-1zM637,721h1v1h-1zM643,840h1v3h-1zM643,961h1v1h-1zM643,721h1v1h-1zM649,840h1v3h-1zM649,961h1v1h-1zM649,721h1v1h-1zM655,840h1v3h-1zM655,961h1v1h-1zM655,721h1v1h-1zM661,840h1v3h-1zM661,961h1v1h-1zM661,721h1v1h-1zM667,840h1v3h-1zM667,961h1v1h-1zM667,721h1v1h-1zM673,840h1v3h-1zM673,961h1v1h-1zM673,721h1v1h-1zM679,840h1v3h-1zM679,961h1v1h-1zM679,721h1v1h-1zM686,840h1v3h-1zM686,961h1v1h-1zM686,721h1v1h-1zM692,840h1v3h-1zM692,961h1v1h-1zM692,721h1v1h-1zM698,840h1v3h-1zM698,961h1v1h-1zM698,721h1v1h-1zM704,840h1v3h-1zM704,961h1v1h-1zM704,721h1v1h-1zM710,840h1v3h-1zM710,961h1v1h-1zM710,721h1v1h-1zM716,840h1v3h-1zM716,961h1v1h-1zM716,721h1v1h-1zM722,840h1v3h-1zM722,961h1v1h-1zM722,721h1v1h-1zM728,840h1v3h-1zM728,961h1v1h-1zM728,721h1v1h-1zM734,840h1v3h-1zM734,961h1v1h-1zM734,721h1v1h-1zM740,840h1v3h-1zM740,961h1v1h-1zM740,721h1v1h-1zM746,840h1v3h-1zM746,961h1v1h-1zM746,721h1v1h-1zM752,840h1v3h-1zM752,961h1v1h-1zM752,721h1v1h-1zM758,840h1v3h-1zM758,961h1v1h-1zM758,721h1v1h-1zM764,840h1v3h-1zM764,961h1v1h-1zM764,721h1v1h-1zM770,840h1v3h-1zM770,961h1v1h-1zM770,721h1v1h-1zM776,840h1v3h-1zM776,961h1v1h-1zM776,721h1v1h-1zM782,840h1v3h-1zM782,961h1v1h-1zM782,721h1v1h-1zM788,840h1v3h-1zM788,961h1v1h-1zM788,721h1v1h-1zM794,840h1v3h-1zM794,961h1v1h-1zM794,721h1v1h-1zM800,840h1v3h-1zM800,961h1v1h-1zM800,721h1v1h-1zM806,840h1v3h-1zM806,961h1v1h-1zM806,721h1v1h-1zM812,840h1v3h-1zM812,961h1v1h-1zM812,721h1v1h-1zM818,840h1v3h-1zM818,961h1v1h-1zM818,721h1v1h-1zM824,840h1v3h-1zM824,961h1v1h-1zM824,721h1v1h-1zM830,840h1v3h-1zM830,961h1v1h-1zM830,721h1v1h-1zM836,840h1v3h-1zM836,961h1v1h-1zM836,721h1v1h-1zM691,728h3v1h-3zM542,728h1v1h-1zM840,728h1v1h-1zM691,734h3v1h-3zM542,734h1v1h-1zM840,734h1v1h-1zM691,740h3v1h-3zM542,740h1v1h-1zM840,740h1v1h-1zM691,746h3v1h-3zM542,746h1v1h-1zM840,746h1v1h-1zM691,752h3v1h-3zM542,752h1v1h-1zM840,752h1v1h-1zM691,758h3v1h-3zM542,758h1v1h-1zM840,758h1v1h-1zM691,764h3v1h-3zM542,764h1v1h-1zM840,764h1v1h-1zM691,770h3v1h-3zM542,770h1v1h-1zM840,770h1v1h-1zM691,776h3v1h-3zM542,776h1v1h-1zM840,776h1v1h-1zM691,781h3v1h-3zM542,781h1v1h-1zM840,781h1v1h-1zM691,787h3v1h-3zM542,787h1v1h-1zM840,787h1v1h-1zM691,793h3v1h-3zM542,793h1v1h-1zM840,793h1v1h-1zM691,799h3v1h-3zM542,799h1v1h-1zM840,799h1v1h-1zM691,805h3v1h-3zM542,805h1v1h-1zM840,805h1v1h-1zM691,811h3v1h-3zM542,811h1v1h-1zM840,811h1v1h-1zM691,817h3v1h-3zM542,817h1v1h-1zM840,817h1v1h-1zM691,823h3v1h-3zM542,823h1v1h-1zM840,823h1v1h-1zM691,829h3v1h-3zM542,829h1v1h-1zM840,829h1v1h-1zM691,835h3v1h-3zM542,835h1v1h-1zM840,835h1v1h-1zM691,841h3v1h-3zM542,841h1v1h-1zM840,841h1v1h-1zM691,847h3v1h-3zM542,847h1v1h-1zM840,847h1v1h-1zM691,853h3v1h-3zM542,853h1v1h-1zM840,853h1v1h-1zM691,859h3v1h-3zM542,859h1v1h-1zM840,859h1v1h-1zM691,865h3v1h-3zM542,865h1v1h-1zM840,865h1v1h-1zM691,871h3v1h-3zM542,871h1v1h-1zM840,871h1v1h-1zM691,877h3v1h-3zM542,877h1v1h-1zM840,877h1v1h-1zM691,883h3v1h-3zM542,883h1v1h-1zM840,883h1v1h-1zM691,889h3v1h-3zM542,889h1v1h-1zM840,889h1v1h-1zM691,895h3v1h-3zM542,895h1v1h-1zM840,895h1v1h-1zM691,901h3v1h-3zM542,901h1v1h-1zM840,901h1v1h-1zM691,907h3v1h-3zM542,907h1v1h-1zM840,907h1v1h-1zM691,913h3v1h-3zM542,913h1v1h-1zM840,913h1v1h-1zM691,919h3v1h-3zM542,919h1v1h-1zM840,919h1v1h-1zM691,925h3v1h-3zM542,925h1v1h-1zM840,925h1v1h-1zM691,931h3v1h-3zM542,931h1v1h-1zM840,931h1v1h-1zM691,937h3v1h-3zM542,937h1v1h-1zM840,937h1v1h-1zM691,943h3v1h-3zM542,943h1v1h-1zM840,943h1v1h-1zM691,949h3v1h-3zM542,949h1v1h-1zM840,949h1v1h-1zM691,955h3v1h-3zM542,955h1v1h-1zM840,955h1v1h-1z"/>
<rect x="540.7" y="720" width="302.3" height="243.4" fill="none" stroke="#000" stroke-width="2"/>
<path d="M688.5,720 L696.5,720 L692.5,725 Z" fill="#000"/>
<polygon fill="#000" points="541.7,807.2 542.4,807.8 543.1,808.2 543.8,807.9 544.5,808.1 545.2,808.2 545.9,807.1 546.6,808 547.3,807 548,808.2 548.7,807.9 549.4,808 550.1,807.6 550.8,807.8 551.5,807 552.2,808 552.9,808.2 553.6,807.5 554.3,807.9 555,807.1 555.7,807.4 556.4,808 557.1,806.9 557.8,808.2 558.5,807.7 559.2,808 559.9,807.6 560.6,807.4 561.3,807.8 562,806.8 562.7,807.3 563.4,808 564.1,807.5 564.8,808.1 565.5,807.7 566.2,807.3 566.9,808.2 567.6,807.1 568.3,807.4 569,808.1 569.7,808.1 570.4,806.9 571.1,808.1 571.8,806.9 572.5,808.1 573.2,808.2 573.9,808 574.6,806.9 575.3,808.1 576,807.9 576.7,807.6 577.4,808.1 578.1,807.4 578.8,807.8 579.5,807.4 580.2,808 580.9,807.8 581.6,807.6 582.3,807.3 583,807.2 583.7,808 584.4,808.1 585.1,808.2 585.8,807.4 586.5,808 587.2,808.2 587.9,807.6 588.6,807.6 589.3,807.3 590,806.9 590.7,808 591.4,807.3 592.1,808.2 592.8,807.8 593.5,807.6 594.2,808.2 594.9,808.2 595.6,807.8 596.3,807.6 597,808 597.7,808.1 598.4,807.3 599.1,808.2 599.8,807.4 600.5,807 601.2,807.4 601.2,814 600.5,814.2 599.8,813.4 599.1,813.6 598.4,814 597.7,814 597,813.5 596.3,813.5 595.6,814 594.9,813.2 594.2,813.2 593.5,814.2 592.8,813.4 592.1,814.1 591.4,813.2 590.7,813.2 590,813.8 589.3,813.2 588.6,813.7 587.9,814.3 587.2,813.1 586.5,813.9 585.8,813.7 585.1,813.4 584.4,813.1 583.7,814.3 583,813.5 582.3,813 581.6,813.1 580.9,813.1 580.2,814.2 579.5,813.1 578.8,813.6 578.1,813.3 577.4,813 576.7,813.9 576,814 575.3,814.2 574.6,813.1 573.9,813.2 573.2,813.1 572.5,813.3 571.8,813.1 571.1,813.1 570.4,814.3 569.7,813.2 569,813 568.3,813 567.6,813 566.9,813.4 566.2,813.2 565.5,814 564.8,813 564.1,813.7 563.4,814.3 562.7,813.7 562,813.6 561.3,813.3 560.6,813.1 559.9,813.1 559.2,813.8 558.5,813 557.8,813.5 557.1,814.1 556.4,813 555.7,813 555,813.8 554.3,813.8 553.6,813.4 552.9,814 552.2,814.4 551.5,813.4 550.8,813.7 550.1,813.2 549.4,813.6 548.7,814.3 548,813.6 547.3,813.6 546.6,814.2 545.9,813.4 545.2,813.4 544.5,813.2 543.8,813.9 543.1,814.3 542.4,813 541.7,813"/>
<polyline fill="none" stroke="#222" stroke-width="1.0"  points="601.8,810.6 602.3,733"/>
<polygon fill="#000" points="604.5,749.6 605.2,750.2 605.9,749.5 606.6,750.1 607.3,749.7 608,750.1 608.7,750.1 609.4,749.5 610.1,749.3 610.8,749.5 611.5,749.2 612.2,750.2 612.9,750.2 613.6,750.2 614.3,749.8 615,750.2 615.7,750.2 616.4,749.6 617.1,750 617.8,750.1 618.5,750.1 619.2,749.3 619.9,750.2 620.6,750.2 621.3,749.9 622,749.6 622.7,749.7 623.4,749.8 624.1,750.1 624.8,748.8 625.5,748.9 626.2,748.8 626.9,749.9 627.6,749.9 628.3,749.5 629,750 629.7,750 630.4,750.1 631.1,749.8 631.8,750.1 632.5,750.1 633.2,749.7 633.9,748.8 634.6,748.9 635.3,749.4 636,750.2 636.7,750.2 637.4,749.4 638.1,750.1 638.8,750.2 639.5,748.8 640.2,750.2 640.9,750 641.6,749.3 642.3,750.2 643,750.2 643.7,749.9 644.4,749 645.1,749.9 645.8,750.2 646.5,749.7 647.2,750.1 647.9,750.2 648.6,749.5 649.3,748.8 650,749.4 650.7,749.3 651.4,750.2 652.1,750.1 652.8,750 653.5,749.2 654.2,749.9 654.9,749.1 655.6,750.2 656.3,749.6 657,749.9 657.7,750.1 658.4,749 659.1,750.2 659.8,750.2 660.5,749.9 661.2,749.6 661.9,749.9 662.6,749.4 663.3,749.9 664,749.5 664.7,750.1 665.4,749.5 666.1,750.2 666.8,749.7 667.5,750.1 668.2,750.1 668.9,749.3 669.6,749.6 670.3,750.2 671,748.8 671.7,750.2 672.4,750.1 673.1,750.1 673.8,749 674.5,749 675.2,750.2 675.9,749.4 676.6,748.8 677.3,750.1 678,750.2 678.7,750.2 679.4,749.1 680.1,750.2 680.8,749.8 681.5,749.8 682.2,749.7 682.9,750.2 683.6,749.8 684.3,750 685,749.4 685.7,749.2 686.4,749.9 687.1,749.6 687.8,749.9 688.5,748.8 689.2,750 689.9,749.4 690.6,749.2 691.3,750 692,749.4 692.7,749.7 693.4,749.3 694.1,750.2 694.8,749.5 695.5,749.8 696.2,750 696.9,749.6 697.6,749.4 698.3,749 699,749.5 699.7,749.5 700.4,749.9 701.1,750.2 701.8,749.9 702.5,750.1 703.2,750 703.9,750.2 704.6,748.8 705.3,748.9 706,749.2 706.7,749.4 707.4,750.1 708.1,750.2 708.8,749.1 709.5,750 710.2,749.3 710.9,749.3 711.6,750.2 712.3,750.1 713,750 713.7,748.9 714.4,749.8 715.1,749.8 715.8,750 716.5,749.5 717.2,750.2 717.9,750.1 718.6,750.2 719.3,749.5 720,750.2 720.7,749.5 721.4,749.4 722.1,750.1 722.8,750.2 723.5,750.1 724.2,748.9 724.9,749.7 725.6,749.7 726.3,750.1 727,750.2 727.7,750 728.4,750.2 729.1,748.8 729.8,750.1 730.5,750.2 731.2,750.1 731.9,749.5 732.6,749.4 733.3,748.9 734,749.2 734.7,749.2 735.4,749.1 736.1,749.6 736.8,750.2 737.5,749 738.2,749.6 738.9,749.6 739.6,750.2 740.3,748.8 741,749.6 741.7,750.1 742.4,750.2 743.1,750.2 743.8,750 744.5,750.2 745.2,750.1 745.9,749.8 746.6,750.1 747.3,750.1 748,749.4 748.7,750.1 749.4,750 750.1,749.6 750.8,749.1 751.5,749.6 752.2,750.1 752.9,749.9 753.6,749.9 754.3,750.2 755,749.9 755.7,750.1 756.4,750.2 757.1,750 757.8,748.9 758.5,750.2 759.2,749.4 759.9,749.1 760.6,749.1 761.3,748.9 762,750.1 762.7,749.1 763.4,750.2 764.1,749 764.8,749.4 765.5,749.9 766.2,750.1 766.9,750 767.6,748.8 768.3,750.2 769,749.6 769.7,750.2 770.4,749.4 771.1,750.1 771.8,749.7 772.5,750.2 773.2,748.9 773.9,749.1 774.6,749 775.3,750.1 776,749 776.7,750.1 777.4,749.9 778.1,750.1 778.8,749.7 779.5,750 780.2,750.2 780.9,750.1 781.6,749.8 782.3,749.9 783,749.6 783.7,749.2 783.7,755.5 783,755.5 782.3,756.8 781.6,756.7 780.9,755.7 780.2,756.7 779.5,756.1 778.8,756.7 778.1,756.2 777.4,755.4 776.7,755.4 776,755.4 775.3,755.9 774.6,755.4 773.9,755.6 773.2,756.2 772.5,756.3 771.8,756 771.1,755.8 770.4,755.8 769.7,755.7 769,755.8 768.3,755.4 767.6,755.7 766.9,755.4 766.2,756 765.5,755.5 764.8,755.4 764.1,755.7 763.4,755.5 762.7,755.5 762,755.4 761.3,755.8 760.6,755.4 759.9,756.7 759.2,755.9 758.5,755.5 757.8,755.8 757.1,755.7 756.4,755.4 755.7,755.7 755,755.4 754.3,755.4 753.6,756.1 752.9,755.4 752.2,755.4 751.5,756.4 750.8,755.4 750.1,755.7 749.4,755.6 748.7,755.5 748,755.5 747.3,755.6 746.6,756.3 745.9,755.4 745.2,755.6 744.5,756.3 743.8,756.2 743.1,756.7 742.4,756.4 741.7,755.4 741,755.9 740.3,755.6 739.6,755.4 738.9,755.4 738.2,755.9 737.5,755.4 736.8,755.5 736.1,755.5 735.4,756.3 734.7,755.5 734,755.4 733.3,755.6 732.6,755.4 731.9,755.7 731.2,755.6 730.5,755.4 729.8,756.3 729.1,756.1 728.4,755.8 727.7,755.4 727,755.4 726.3,755.4 725.6,756.1 724.9,756 724.2,756 723.5,755.5 722.8,756.1 722.1,755.5 721.4,756.2 720.7,756.1 720,755.7 719.3,756.8 718.6,755.5 717.9,756.6 717.2,755.5 716.5,756.7 715.8,756.6 715.1,756.7 714.4,756 713.7,755.4 713,755.8 712.3,756 711.6,756.4 710.9,755.8 710.2,756.5 709.5,756.3 708.8,756.6 708.1,755.5 707.4,755.6 706.7,755.5 706,756.8 705.3,756.2 704.6,756 703.9,755.7 703.2,755.6 702.5,755.5 701.8,756.1 701.1,756.7 700.4,756.5 699.7,756.4 699,755.4 698.3,756.4 697.6,756.3 696.9,756.6 696.2,755.9 695.5,755.7 694.8,755.9 694.1,755.4 693.4,755.4 692.7,756.8 692,755.4 691.3,755.5 690.6,755.4 689.9,756.4 689.2,755.4 688.5,755.8 687.8,755.4 687.1,755.5 686.4,755.4 685.7,756.3 685,755.4 684.3,755.4 683.6,755.5 682.9,755.4 682.2,756.3 681.5,756 680.8,756.4 680.1,756.4 679.4,756.6 678.7,756.3 678,755.8 677.3,756.3 676.6,756.1 675.9,755.4 675.2,755.4 674.5,755.5 673.8,756 673.1,756.1 672.4,756.6 671.7,755.4 671,756.3 670.3,755.4 669.6,756.2 668.9,756.4 668.2,755.6 667.5,756.8 666.8,755.4 666.1,756.6 665.4,755.7 664.7,756 664,756.1 663.3,755.6 662.6,755.4 661.9,755.4 661.2,756.1 660.5,755.9 659.8,755.5 659.1,755.9 658.4,755.6 657.7,755.5 657,756 656.3,756.5 655.6,755.6 654.9,755.8 654.2,755.4 653.5,756.3 652.8,755.4 652.1,755.9 651.4,755.4 650.7,756.4 650,755.6 649.3,755.7 648.6,756.7 647.9,756.6 647.2,755.5 646.5,755.8 645.8,755.4 645.1,756.4 644.4,756.3 643.7,756.8 643,756.3 642.3,755.4 641.6,755.7 640.9,756.6 640.2,755.4 639.5,755.5 638.8,756 638.1,755.6 637.4,756 636.7,756.5 636,755.5 635.3,756.1 634.6,756.6 633.9,756.2 633.2,756.1 632.5,755.5 631.8,756.1 631.1,755.7 630.4,756.2 629.7,755.5 629,755.5 628.3,755.7 627.6,756.1 626.9,755.4 626.2,755.4 625.5,755.6 624.8,756.3 624.1,756.5 623.4,755.9 622.7,755.6 622,756.2 621.3,755.4 620.6,755.8 619.9,756.3 619.2,755.8 618.5,756.4 617.8,756.3 617.1,755.9 616.4,755.6 615.7,755.5 615,756.4 614.3,756.3 613.6,755.7 612.9,755.5 612.2,756 611.5,755.6 610.8,755.4 610.1,755.6 609.4,756.8 608.7,755.4 608,755.5 607.3,756.4 606.6,755.4 605.9,755.9 605.2,756.1 604.5,756.5"/>
<polyline fill="none" stroke="#000" stroke-width="1.0"  points="604.5,757 603.8,748"/>
<polyline fill="none" stroke="#333" stroke-width="1.0"  points="784.3,752.8 784.6,830.5"/>
<polyline fill="none" stroke="#000" stroke-width="1.2"  points="785.5,830 786.5,800 787.5,815"/>
<polygon fill="#000" points="786.5,809.1 787.2,810.4 787.9,810.2 788.6,810.2 789.3,810.3 790,810.2 790.7,810.3 791.4,810.2 792.1,809.8 792.8,810.3 793.5,810.3 794.2,810.3 794.9,810 795.6,809.3 796.3,810.4 797,810 797.7,810.3 798.4,809.9 799.1,809.2 799.8,809.2 800.5,810.5 801.2,810.4 801.9,810.3 802.6,809 803.3,810.1 804,809.2 804.7,809.6 805.4,810.1 806.1,809.5 806.8,809.1 807.5,808.6 808.2,809.8 808.9,809.3 809.6,809 810.3,809.5 811,809.1 811.7,809.4 812.4,808.8 813.1,808.6 813.8,809.2 814.5,808.4 815.2,808.4 815.9,807.6 816.6,808.8 817.3,807.5 818,808.5 818.7,807.6 819.4,807.9 820.1,808 820.8,808.6 821.5,808.5 822.2,808.6 822.9,808.3 823.6,808.5 824.3,807.2 825,808.3 825.7,808.2 826.4,808.1 827.1,807.8 827.8,808.2 828.5,807.6 829.2,807.8 829.9,807.7 830.6,808.4 831.3,808.3 832,807.4 832.7,807.4 833.4,807.9 834.1,808.4 834.8,807.6 835.5,808.4 836.2,808.4 836.9,808.4 837.6,808.3 838.3,807 839,808.4 839.7,807 840.4,808.2 841.1,808.3 841.8,808.1 841.8,813.3 841.1,813.5 840.4,813.6 839.7,813.2 839,814.5 838.3,813.2 837.6,813.9 836.9,813.3 836.2,813.9 835.5,813.2 834.8,813.3 834.1,813.6 833.4,813.3 832.7,814.3 832,813.7 831.3,813.3 830.6,814.1 829.9,814.6 829.2,813.8 828.5,814.2 827.8,814.6 827.1,813.3 826.4,813.3 825.7,813.3 825,814 824.3,813.8 823.6,813.8 822.9,813.6 822.2,813.4 821.5,813.5 820.8,813.5 820.1,814.3 819.4,813.7 818.7,813.6 818,814.9 817.3,813.7 816.6,814 815.9,814.6 815.2,813.9 814.5,814.6 813.8,814.3 813.1,815 812.4,814.4 811.7,815 811,814.9 810.3,814.6 809.6,814.6 808.9,814.6 808.2,815.8 807.5,814.8 806.8,816 806.1,815.4 805.4,815 804.7,815.4 804,816 803.3,815.5 802.6,816.3 801.9,815.3 801.2,815.3 800.5,816.5 799.8,815.5 799.1,815.4 798.4,816.4 797.7,816.4 797,815.6 796.3,815.3 795.6,815.2 794.9,815.7 794.2,815.2 793.5,816.5 792.8,815.2 792.1,815.8 791.4,815.4 790.7,815.6 790,816.1 789.3,815.3 788.6,815.8 787.9,815.4 787.2,816.6 786.5,815.6"/>
<polygon fill="#000" points="541.7,900.1 542.3,900.1 542.9,899.5 543.5,900 544.1,899.2 544.7,899.7 545.3,898.7 545.9,900.1 546.5,899.3 547.1,899.3 547.7,899.1 548.3,900.1 548.9,900 549.5,899.1 550.1,900 550.7,899.4 551.3,900.1 551.9,899.6 552.5,899.4 553.1,900 553.7,899.6 554.3,900.1 554.9,900 555.5,899.4 556.1,899.5 556.7,900 557.3,899.4 557.9,900.1 558.5,899.1 559.1,899.3 559.7,899.1 560.3,899.9 560.9,900.1 561.5,900.1 562.1,899.7 562.7,898.7 563.3,899.8 563.9,900.1 564.5,899.7 565.1,899.3 565.7,899.1 566.3,900.1 566.9,899.7 567.5,899.4 568.1,899.9 568.7,899.3 569.3,899.9 569.9,898.7 570.5,899.5 571.1,899.8 571.7,900 572.3,898.5 572.9,900.1 573.5,899.5 574.1,900.1 574.7,899.1 575.3,900.1 575.9,900.1 576.5,900.1 577.1,899.1 577.7,900.1 578.3,900.1 578.9,899 579.5,900.1 580.1,899.8 580.7,900.1 581.3,898.6 581.9,900 582.5,898.8 583.1,899.7 583.7,899.5 584.3,899.7 584.9,899.2 585.5,900 586.1,900.1 586.7,899.9 587.3,900 587.9,898.5 588.5,898.9 589.1,900.1 589.7,899.9 590.3,899.8 590.9,898.9 591.5,900.1 592.1,899.5 592.7,898.6 593.3,898.9 593.9,900 594.5,899.9 595.1,899.9 595.7,900 596.3,899.8 596.9,898.8 597.5,900 598.1,899.1 598.7,899.2 599.3,899 599.9,899.4 600.5,899 601.1,899.6 601.7,899 602.3,898.9 602.9,898.8 603.5,898.7 604.1,899.4 604.7,900.1 605.3,899.6 605.9,899.9 606.5,899.1 607.1,900 607.7,900 608.3,899.9 608.9,899.1 609.5,900.1 610.1,899.2 610.7,899.8 611.3,899.1 611.9,899.9 612.5,898.8 613.1,898.8 613.7,899.9 614.3,899.6 614.9,899.5 615.5,899.7 616.1,899.8 616.7,899.4 617.3,899.9 617.9,898.6 618.5,900.1 619.1,900.1 619.7,899.8 620.3,899.8 620.9,899.7 621.5,899.1 622.1,900 622.7,899.1 623.3,898.8 623.9,899.8 624.5,899.3 625.1,900 625.7,899.9 626.3,900 626.9,899.7 627.5,900.1 628.1,898.5 628.7,899.1 629.3,898.8 629.9,899.2 630.5,899.9 631.1,900 631.7,899.7 632.3,898.8 632.9,899.7 633.5,899.6 634.1,899.5 634.7,899.8 635.3,900 635.9,899.8 636.5,899.7 637.1,900.1 637.7,899.3 638.3,900 638.9,899.7 639.5,899.5 640.1,900 640.7,899.3 641.3,899.3 641.9,900 642.5,898.7 643.1,898.7 643.7,900.1 644.3,899.1 644.9,900.1 645.5,899.4 646.1,899.9 646.7,900 647.3,900.1 647.9,899.5 648.5,900.1 649.1,900.1 649.7,899.9 650.3,900 650.9,899.8 651.5,899.7 652.1,899.7 652.7,899.5 653.3,900.1 653.9,899.3 654.5,899.8 655.1,899.8 655.7,899.3 656.3,900.1 656.9,899.6 657.5,898.9 658.1,899.9 658.7,898.7 659.3,899.8 659.9,899.6 660.5,899.2 661.1,900.1 661.7,898.9 662.3,899.5 662.9,899.9 663.5,899.6 664.1,900 664.7,898.8 665.3,900.1 665.9,899.7 666.5,899.9 667.1,899.9 667.7,898.7 668.3,899.7 668.9,899.9 669.5,899.1 670.1,899.9 670.7,899.9 671.3,899.6 671.9,899.9 672.5,900.1 673.1,900.1 673.7,900.1 674.3,900.1 674.9,900.1 675.5,899.2 676.1,898.8 676.7,899.6 677.3,900.1 677.9,899.8 678.5,899.2 679.1,899.9 679.7,898.9 680.3,899.5 680.9,900.1 681.5,900.1 682.1,899.3 682.7,900.1 683.3,900 683.9,899.4 684.5,899.9 685.1,899.8 685.7,900 686.3,898.6 686.9,899.3 687.5,900 688.1,899.9 688.7,900.1 689.3,899.3 689.9,899.8 690.5,899.6 691.1,898.8 691.7,899.9 692.3,898.7 692.9,898.7 693.5,900.1 694.1,899.9 694.7,900.1 695.3,899.1 695.9,900.1 696.5,899.8 697.1,899.6 697.7,899.8 698.3,898.6 698.9,899.5 699.5,899.9 700.1,898.8 700.7,899.1 701.3,898.5 701.9,899.9 702.5,900 703.1,900.1 703.7,899.7 704.3,898.7 704.9,898.7 705.5,900.1 706.1,899.6 706.7,899.5 707.3,898.7 707.9,899.1 708.5,900 709.1,898.9 709.7,899.2 710.3,899.2 710.9,900.1 711.5,899.3 712.1,899.4 712.7,899.9 713.3,898.7 713.9,899.8 714.5,899 715.1,899.8 715.7,899.8 716.3,899.7 716.9,899.2 717.5,899.4 718.1,898.5 718.7,899.2 719.3,899.4 719.9,900 720.5,900.1 721.1,900.1 721.7,898.8 722.3,899.8 722.9,899.3 723.5,899.9 724.1,900 724.7,899 725.3,900 725.9,899.9 726.5,898.7 727.1,899.1 727.7,898.8 728.3,898.8 728.9,898.6 729.5,899.5 730.1,898.9 730.7,900.1 731.3,899 731.9,899.2 732.5,899.8 733.1,898.6 733.7,900.1 734.3,899.6 734.9,900.1 735.5,899.7 736.1,900 736.7,899.6 737.3,899.5 737.9,898.8 738.5,898.6 739.1,900.1 739.7,898.6 740.3,899.6 740.9,900.1 741.5,900.1 742.1,899.5 742.7,898.6 743.3,899.9 743.9,899.4 744.5,898.9 745.1,899.9 745.7,900 746.3,900 746.9,900.1 747.5,899.6 748.1,899.7 748.7,899 749.3,899.3 749.9,898.5 750.5,899.3 751.1,900.1 751.7,898.6 752.3,899.6 752.9,899.8 753.5,899.5 754.1,900.1 754.7,900 755.3,900.1 755.9,900 756.5,899.7 757.1,898.6 757.7,899.3 758.3,899 758.9,900.1 759.5,900 760.1,899.9 760.7,898.6 761.3,898.5 761.9,899.4 762.5,899.2 763.1,899.9 763.7,900 764.3,900.1 764.9,899.5 765.5,900.1 766.1,899.6 766.7,899.8 767.3,900.1 767.9,899.8 768.5,899.2 769.1,899 769.7,900.1 770.3,899.9 770.9,899.2 771.5,899.4 772.1,899.8 772.7,898.7 773.3,900 773.9,900.1 774.5,900.1 775.1,899.8 775.7,899.7 776.3,900 776.9,899.9 777.5,898.8 778.1,899.8 778.7,900.1 779.3,898.9 779.9,900.1 780.5,900.1 781.1,899.9 781.7,899.2 782.3,899.7 782.9,899.4 783.5,899.4 784.1,898.8 784.7,900 785.3,900 785.9,899.3 786.5,899.9 787.1,899.4 787.7,899.8 788.3,899.8 788.9,900.1 789.5,898.5 790.1,900.1 790.7,899.7 791.3,899.4 791.9,899 792.5,898.7 793.1,899.7 793.7,899.7 794.3,899.3 794.9,899.6 795.5,900.1 796.1,899.1 796.7,899.9 797.3,899.5 797.9,899.9 798.5,899.9 799.1,900 799.7,899.8 800.3,900.1 800.9,898.9 801.5,900.1 802.1,899.3 802.7,899.9 803.3,900.1 803.9,899.9 804.5,898.5 805.1,898.8 805.7,898.9 806.3,898.6 806.9,898.6 807.5,900 808.1,899.7 808.7,899.9 809.3,899.5 809.9,900 810.5,899.7 811.1,899.4 811.7,899.6 812.3,899.1 812.9,899.1 813.5,900 814.1,899.7 814.7,900 815.3,899.3 815.9,899.7 816.5,900 817.1,899.9 817.7,899.9 818.3,899.2 818.9,900 819.5,899.4 820.1,899.4 820.7,900 821.3,899.9 821.9,898.6 822.5,899.4 823.1,899.1 823.7,899.9 824.3,899.1 824.9,899.7 825.5,900 826.1,899.3 826.7,898.9 827.3,899.8 827.9,899.9 828.5,900 829.1,900 829.7,898.9 830.3,898.9 830.9,899.8 831.5,899.1 832.1,900.1 832.7,899.8 833.3,899.5 833.9,900.1 834.5,899.9 835.1,899.9 835.7,899.9 836.3,899.5 836.9,900.1 837.5,899.5 838.1,900 838.7,898.8 839.3,899.5 839.9,899.9 840.5,899.9 841.1,899.5 841.7,900.1 841.7,905.4 841.1,905.7 840.5,906 839.9,905.3 839.3,905.8 838.7,905.4 838.1,906.5 837.5,905.4 836.9,906 836.3,905.4 835.7,906 835.1,906.2 834.5,905.3 833.9,905.5 833.3,905.4 832.7,905.6 832.1,906.6 831.5,905.5 830.9,905.4 830.3,906.6 829.7,905.5 829.1,906.7 828.5,905.3 827.9,906.8 827.3,905.6 826.7,906.5 826.1,906.6 825.5,905.7 824.9,905.5 824.3,906.2 823.7,905.3 823.1,905.4 822.5,906.8 821.9,905.7 821.3,905.3 820.7,905.3 820.1,906.1 819.5,906 818.9,906.3 818.3,905.4 817.7,906.2 817.1,905.5 816.5,905.6 815.9,906.2 815.3,906.4 814.7,905.6 814.1,905.5 813.5,906.7 812.9,905.7 812.3,906.1 811.7,905.4 811.1,905.4 810.5,905.6 809.9,905.7 809.3,905.4 808.7,905.7 808.1,905.5 807.5,905.7 806.9,905.8 806.3,906 805.7,905.9 805.1,906.3 804.5,905.5 803.9,906.5 803.3,905.3 802.7,906 802.1,905.3 801.5,906.5 800.9,906 800.3,906.2 799.7,905.3 799.1,906.9 798.5,906.1 797.9,906.1 797.3,906.1 796.7,905.3 796.1,905.3 795.5,906.1 794.9,906.8 794.3,906.1 793.7,905.3 793.1,905.3 792.5,906.4 791.9,905.4 791.3,905.7 790.7,905.4 790.1,905.7 789.5,906.7 788.9,905.8 788.3,905.3 787.7,906.1 787.1,905.4 786.5,905.4 785.9,906.9 785.3,905.3 784.7,905.6 784.1,905.3 783.5,905.3 782.9,905.6 782.3,905.3 781.7,906.1 781.1,905.3 780.5,905.7 779.9,905.9 779.3,906 778.7,905.3 778.1,905.3 777.5,906.1 776.9,905.5 776.3,905.3 775.7,906.7 775.1,905.5 774.5,906 773.9,905.5 773.3,905.3 772.7,905.9 772.1,905.7 771.5,906.4 770.9,905.4 770.3,905.5 769.7,905.7 769.1,905.4 768.5,905.4 767.9,905.4 767.3,905.3 766.7,905.8 766.1,905.8 765.5,905.7 764.9,906.3 764.3,905.3 763.7,905.3 763.1,906.6 762.5,905.8 761.9,905.3 761.3,905.9 760.7,906.9 760.1,906 759.5,905.3 758.9,906.2 758.3,906.9 757.7,905.3 757.1,905.6 756.5,905.5 755.9,906.6 755.3,906.7 754.7,906.4 754.1,905.4 753.5,906.4 752.9,906.6 752.3,905.3 751.7,905.5 751.1,905.6 750.5,905.3 749.9,906 749.3,906.7 748.7,906 748.1,905.3 747.5,905.4 746.9,905.3 746.3,906.8 745.7,906.8 745.1,905.9 744.5,906 743.9,905.8 743.3,906.8 742.7,906.1 742.1,905.8 741.5,905.4 740.9,905.4 740.3,905.5 739.7,905.5 739.1,905.8 738.5,906.9 737.9,905.5 737.3,905.3 736.7,906.2 736.1,905.5 735.5,905.7 734.9,905.3 734.3,905.6 733.7,906.1 733.1,906.7 732.5,906.4 731.9,905.4 731.3,906.1 730.7,906.7 730.1,905.6 729.5,905.8 728.9,906.3 728.3,905.9 727.7,905.4 727.1,905.4 726.5,905.7 725.9,905.3 725.3,905.7 724.7,905.3 724.1,905.3 723.5,906.7 722.9,906.2 722.3,905.7 721.7,905.3 721.1,906.5 720.5,905.7 719.9,906.4 719.3,905.5 718.7,905.3 718.1,905.8 717.5,905.3 716.9,905.3 716.3,905.3 715.7,906.8 715.1,906.5 714.5,906.2 713.9,905.8 713.3,906.9 712.7,906.7 712.1,905.4 711.5,905.4 710.9,905.7 710.3,906 709.7,905.4 709.1,905.6 708.5,905.3 707.9,905.3 707.3,905.3 706.7,905.6 706.1,906.6 705.5,906.2 704.9,906.2 704.3,905.3 703.7,905.4 703.1,906.5 702.5,905.9 701.9,906.2 701.3,906.1 700.7,906.4 700.1,906.3 699.5,905.4 698.9,905.5 698.3,906.7 697.7,906.8 697.1,906.2 696.5,906 695.9,906.3 695.3,905.7 694.7,906.3 694.1,906.1 693.5,905.3 692.9,905.8 692.3,906.5 691.7,905.6 691.1,905.9 690.5,905.6 689.9,906.3 689.3,905.3 688.7,905.8 688.1,906.2 687.5,905.3 686.9,905.3 686.3,906.9 685.7,905.4 685.1,905.5 684.5,906.9 683.9,906.8 683.3,905.9 682.7,905.3 682.1,905.9 681.5,905.3 680.9,905.3 680.3,906.8 679.7,906.2 679.1,905.3 678.5,906.5 677.9,905.4 677.3,906.7 676.7,906.7 676.1,906.8 675.5,906.1 674.9,905.4 674.3,905.4 673.7,906.4 673.1,905.4 672.5,906.1 671.9,906.4 671.3,905.4 670.7,906.7 670.1,905.5 669.5,905.4 668.9,905.9 668.3,905.5 667.7,906 667.1,905.8 666.5,906.6 665.9,905.7 665.3,905.5 664.7,906.3 664.1,905.3 663.5,905.6 662.9,906.7 662.3,906 661.7,906.3 661.1,905.5 660.5,906.8 659.9,906 659.3,905.4 658.7,905.6 658.1,905.9 657.5,906.2 656.9,905.3 656.3,906.5 655.7,905.5 655.1,905.5 654.5,905.5 653.9,906.8 653.3,905.3 652.7,905.3 652.1,905.4 651.5,906.7 650.9,906.8 650.3,905.7 649.7,905.7 649.1,905.4 648.5,905.4 647.9,905.4 647.3,905.6 646.7,905.4 646.1,906.3 645.5,906.9 644.9,905.6 644.3,906 643.7,905.3 643.1,905.6 642.5,905.3 641.9,906.4 641.3,906.1 640.7,906.2 640.1,905.9 639.5,906.6 638.9,905.3 638.3,905.4 637.7,906.2 637.1,905.5 636.5,905.3 635.9,905.7 635.3,905.4 634.7,905.9 634.1,906.3 633.5,905.3 632.9,906.7 632.3,906.8 631.7,906.6 631.1,905.3 630.5,906.7 629.9,906.5 629.3,905.8 628.7,905.4 628.1,905.8 627.5,906.8 626.9,906 626.3,905.8 625.7,906.2 625.1,905.4 624.5,906.7 623.9,905.5 623.3,906.9 622.7,905.4 622.1,906.2 621.5,905.5 620.9,906.4 620.3,905.3 619.7,906.1 619.1,905.9 618.5,906.7 617.9,906.1 617.3,905.5 616.7,905.4 616.1,906.6 615.5,905.7 614.9,906.4 614.3,905.3 613.7,906.5 613.1,906.2 612.5,905.7 611.9,905.9 611.3,906.8 610.7,905.6 610.1,905.4 609.5,905.3 608.9,905.4 608.3,905.3 607.7,905.3 607.1,905.5 606.5,906.5 605.9,906.3 605.3,905.6 604.7,906.5 604.1,906 603.5,906.2 602.9,905.3 602.3,906.5 601.7,905.5 601.1,905.5 600.5,905.3 599.9,905.5 599.3,905.4 598.7,906.2 598.1,906.9 597.5,906.7 596.9,906.2 596.3,906 595.7,906.6 595.1,905.3 594.5,905.5 593.9,905.5 593.3,906.4 592.7,905.5 592.1,906.6 591.5,906.2 590.9,905.8 590.3,906.4 589.7,905.4 589.1,906.2 588.5,905.5 587.9,905.3 587.3,905.7 586.7,905.4 586.1,906.4 585.5,906.8 584.9,905.3 584.3,906.1 583.7,905.4 583.1,906.8 582.5,906.6 581.9,906.2 581.3,905.3 580.7,905.4 580.1,905.5 579.5,906.2 578.9,905.3 578.3,905.8 577.7,905.3 577.1,905.3 576.5,905.4 575.9,906.8 575.3,905.6 574.7,905.6 574.1,906.2 573.5,905.4 572.9,905.7 572.3,906.6 571.7,905.3 571.1,906 570.5,905.3 569.9,906.7 569.3,905.6 568.7,906.3 568.1,905.7 567.5,905.4 566.9,905.4 566.3,905.5 565.7,905.3 565.1,905.8 564.5,905.5 563.9,905.7 563.3,905.4 562.7,906.5 562.1,905.3 561.5,905.3 560.9,905.9 560.3,906.1 559.7,905.5 559.1,906.8 558.5,906.4 557.9,905.4 557.3,905.4 556.7,905.5 556.1,906.6 555.5,906.1 554.9,905.4 554.3,906.2 553.7,906.2 553.1,905.6 552.5,905.4 551.9,905.3 551.3,905.4 550.7,905.8 550.1,905.3 549.5,906.3 548.9,906.1 548.3,905.9 547.7,906.3 547.1,905.4 546.5,905.5 545.9,905.3 545.3,905.8 544.7,905.4 544.1,905.5 543.5,906.3 542.9,906.1 542.3,905.3 541.7,905.3"/>
<polyline fill="none" stroke="#000" stroke-width="1.3"  points="602,891.4 602,914"/>
<polyline fill="none" stroke="#000" stroke-width="1.6"  points="785.3,888 785.3,913"/>
<path d="M597.7,726.4 H605.5 V733 L601.6,735 L597.7,733 Z" fill="#000"/>
<rect x="598.6" y="725.4" width="6" height="0.8" fill="#000"/>
<path d="M598.7,727h5.8v1.5h-2.05v4.6h-1.7v-4.6h-2.05z" fill="#fff"/>
<path d="M528.8,769.1 H537.8 L540.3,773.7 L537.8,778.3 H528.8 Z" fill="#fff" stroke="#222" stroke-width="0.9"/>
<text x="533.8" y="777.5" font-family='"Liberation Sans", sans-serif' font-size="10" font-weight="normal" text-anchor="middle" fill="#000" >2</text>
<path d="M528.8,899.2 H537.8 L540.3,903.8 L537.8,908.4 H528.8 Z" fill="#000"/>
<text x="533.8" y="907.6" font-family='"Liberation Sans", sans-serif' font-size="10" font-weight="bold" text-anchor="middle" fill="#fff" >1</text>
<path d="M835,792 L838.8,788.5 V795.5 Z M838.5,791.4 h3.5 v1.2 h-3.5 z" fill="#000"/>
<text transform="translate(488.9,811.6) scale(1,1.03)" font-family='"Liberation Serif", serif' font-size="16.2" fill="#000">V</text>
<text transform="translate(499.6,815.8) scale(1,1.08)" font-family='"Liberation Serif", serif' font-size="12.6" fill="#000">IN</text>
<text transform="translate(484,903.8) scale(1,1.03)" font-family='"Liberation Serif", serif' font-size="16.2" fill="#000">V</text>
<text transform="translate(494.8,908) scale(1,1.08)" font-family='"Liberation Serif", serif' font-size="12.6" fill="#000">OUT</text>
<rect x="540" y="965" width="18.4" height="9.8" fill="#000"/>
<text x="540.6" y="973.4" font-family='"Liberation Sans", sans-serif' font-size="9.2" font-weight="bold" text-anchor="start" fill="#fff" letter-spacing="0.1">Ch1</text>
<rect x="560.1" y="965.5" width="57.5" height="9.3" fill="none" stroke="#222" stroke-width="0.9"/>
<text x="616.9" y="973.4" font-family='"Liberation Sans", sans-serif' font-size="9.2" font-weight="bold" text-anchor="end" fill="#000" letter-spacing="0.45">50.0mV~N</text>
<text x="618.8" y="973.4" font-family='"Liberation Sans", sans-serif' font-size="9.2" font-weight="bold" text-anchor="start" fill="#000" letter-spacing="0.1">Ch2</text>
<rect x="638" y="965.5" width="58.5" height="9.3" fill="none" stroke="#222" stroke-width="0.9"/>
<text x="695.8" y="973.4" font-family='"Liberation Sans", sans-serif' font-size="9.2" font-weight="bold" text-anchor="end" fill="#000" letter-spacing="0.45">500mV ~N</text>
<text x="697.8" y="973.4" font-family='"Liberation Sans", sans-serif' font-size="9.2" font-weight="bold" text-anchor="start" fill="#000" letter-spacing="0.1">M</text>
<rect x="706.5" y="965.5" width="36" height="9.3" fill="none" stroke="#222" stroke-width="0.9"/>
<text x="741.8" y="973.4" font-family='"Liberation Sans", sans-serif' font-size="9.2" font-weight="bold" text-anchor="end" fill="#000" letter-spacing="0.45">100µs</text>
<text x="752.3" y="973.4" font-family='"Liberation Sans", sans-serif' font-size="9.2" font-weight="bold" text-anchor="start" fill="#000" letter-spacing="0.1">A</text>
<rect x="759.5" y="965.5" width="83.5" height="9.3" fill="none" stroke="#111" stroke-width="1.1"/>
<text x="766" y="973.4" font-family='"Liberation Sans", sans-serif' font-size="9.2" font-weight="bold" text-anchor="start" fill="#000" letter-spacing="0.45">Ch2</text>
<path d="M791.5,972.8 h1.8 l2.2,-6 h2" fill="none" stroke="#000" stroke-width="1.5"/>
<text x="842.3" y="973.4" font-family='"Liberation Sans", sans-serif' font-size="9.2" font-weight="bold" text-anchor="end" fill="#000" letter-spacing="0.45">−300mV</text>
<text x="150.5" y="619.8" font-family='"Liberation Sans", sans-serif' font-size="14.3" fill="#000">Figure 12. Output Voltage vs. Input Voltage</text>
<text x="244.5" y="638.7" font-family='"Liberation Sans", sans-serif' font-size="14.3" fill="#000">(I<tspan font-size="11.9" dy="3.9">OUT</tspan><tspan dy="-3.9">=300mA)</tspan></text>
<text x="593.5" y="619.8" font-family='"Liberation Sans", sans-serif' font-size="14.3" fill="#000">Figure 13. Load Transient</text>
<text x="514" y="638.6" font-family='"Liberation Sans", sans-serif' font-size="14.3" fill="#000">(Conditions: C<tspan font-size="11.9" dy="3.9">IN</tspan><tspan dy="-3.9">=C</tspan><tspan font-size="11.9" dy="3.9">OUT</tspan><tspan dy="-3.9">=1μF, V</tspan><tspan font-size="11.9" dy="3.9">IN</tspan><tspan dy="-3.9">=2.5V, V</tspan><tspan font-size="11.9" dy="3.9">OUT</tspan><tspan dy="-3.9">=0.8V)</tspan></text>
<text x="232" y="1037.7" font-family='"Liberation Sans", sans-serif' font-size="14.3" fill="#000">Figure 14. Load Transient</text>
<text x="148.5" y="1061.6" font-family='"Liberation Sans", sans-serif' font-size="14.3" fill="#000">(Conditions: C<tspan font-size="11.9" dy="3.9">IN</tspan><tspan dy="-3.9">=C</tspan><tspan font-size="11.9" dy="3.9">OUT</tspan><tspan dy="-3.9">=1μF, V</tspan><tspan font-size="11.9" dy="3.9">IN</tspan><tspan dy="-3.9">=4.4V, V</tspan><tspan font-size="11.9" dy="3.9">OUT</tspan><tspan dy="-3.9">=3.3V)</tspan></text>
<text x="603" y="1037.7" font-family='"Liberation Sans", sans-serif' font-size="14.3" fill="#000">Figure 15. Line Transient</text>
<text x="552.5" y="1061.6" font-family='"Liberation Sans", sans-serif' font-size="14.3" fill="#000">(Conditions: I<tspan font-size="11.9" dy="3.9">OUT</tspan><tspan dy="-3.9">=30mA, C</tspan><tspan font-size="11.9" dy="3.9">IN</tspan><tspan dy="-3.9">=C</tspan><tspan font-size="11.9" dy="3.9">OUT</tspan><tspan dy="-3.9">=1μF,</tspan></text>
<text x="593" y="1084" font-family='"Liberation Sans", sans-serif' font-size="14.3" fill="#000">V<tspan font-size="11.9" dy="3.9">IN</tspan><tspan dy="-3.9">=2.5 to 3.5V, V</tspan><tspan font-size="11.9" dy="3.9">OUT</tspan><tspan dy="-3.9">=0.8V)</tspan></text>
<rect x="112" y="1154" width="730" height="1.1" fill="#000"/>
<text x="112.3" y="1171.7" font-family='"Liberation Serif", serif' font-size="16" font-weight="normal" text-anchor="start" fill="#000" >Sep. 2012&#160;&#160;Rev. 1. 6</text>
<text x="841.5" y="1171.7" font-family='"Liberation Serif", serif' font-size="16" font-weight="normal" text-anchor="end" fill="#000" >BCD Semiconductor Manufacturing Limited</text>
<text x="473.5" y="1217.6" font-family='"Liberation Serif", serif' font-size="16" font-weight="normal" text-anchor="middle" fill="#000" >10</text>
</svg>
</body></html>
